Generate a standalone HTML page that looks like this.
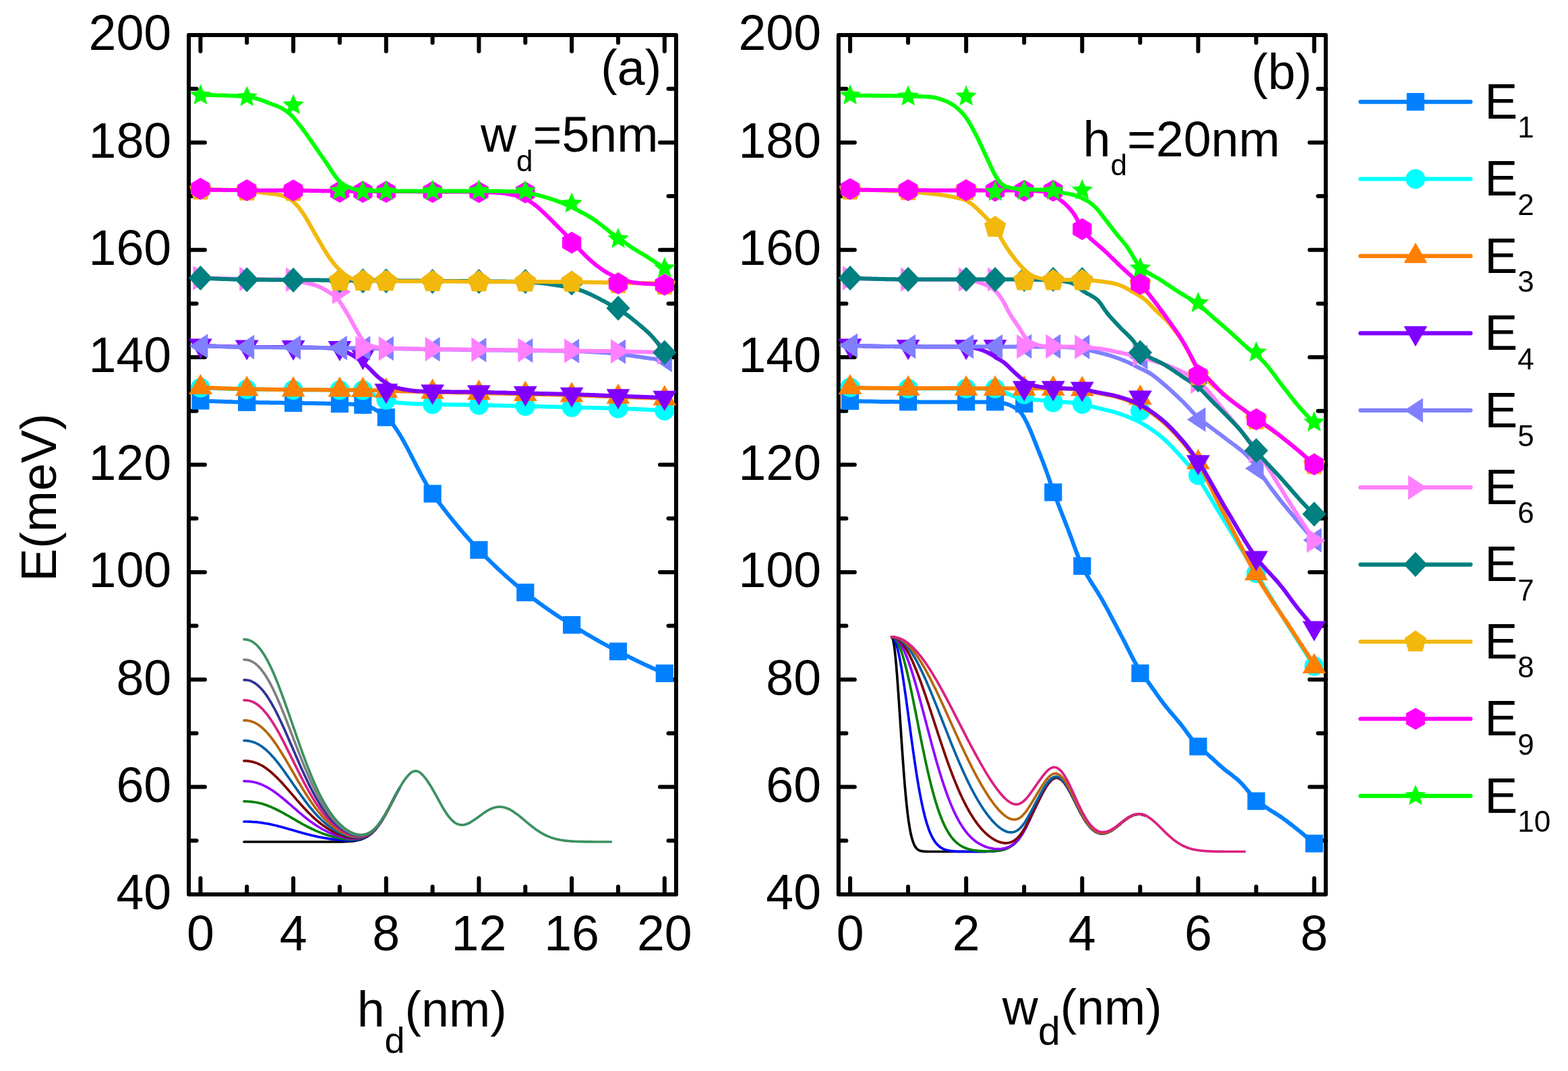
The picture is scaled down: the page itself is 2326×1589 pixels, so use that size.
<!DOCTYPE html><html><head><meta charset="utf-8"><title>E vs hd, wd</title><style>html,body{margin:0;padding:0;background:#fff;}svg{display:block;}</style></head><body>
<svg xmlns="http://www.w3.org/2000/svg" width="2326" height="1589" viewBox="0 0 2326 1589">
<rect width="2326" height="1589" fill="#fff"/>
<g fill="none" stroke-width="3.7" stroke-linecap="round" stroke-linejoin="round">
<path d="M362 1249C362.5 1249 364 1249 365 1249C366 1249 367 1249 368 1249C369 1249 370 1249 371 1249C372 1249 373 1249 374 1249C375 1249 376 1249 377 1249C378 1249 379 1249 380 1249C381 1249 382 1249 383 1249C384 1249 385 1249 386 1249C387 1249 388 1249 389 1249C390 1249 391 1249 392 1249C393 1249 394 1249 395 1249C396 1249 397 1249 398 1249C399 1249 400 1249 401 1249C402 1249 403 1249 404 1249C405 1249 406 1249 407 1249C408 1249 409 1249 410 1249C411 1249 412 1249 413 1249C414 1249 415 1249 416 1249C417 1249 418 1249 419 1249C420 1249 421 1249 422 1249C423 1249 424 1249 425 1249C426 1249 427 1249 428 1249C429 1249 430 1249 431 1249C432 1249 433 1249 434 1249C435 1249 436 1249 437 1249C438 1249 439 1249 440 1249C441 1249 442 1249 443 1249C444 1249 445 1249 446 1249C447 1249 448 1249 449 1249C450 1249 451 1249 452 1249C453 1249 454 1249 455 1249C456 1249 457 1249 458 1249C459 1249 460 1249 461 1249C462 1249 463 1249 464 1249C465 1249 466 1249 467 1249C468 1249 469 1249 470 1249C471 1249 472 1249 473 1249C474 1249 475 1249 476 1249C477 1249 478 1249 479 1249C480 1249 481 1249 482 1249C483 1249 484 1249 485 1249C486 1249 487 1249 488 1249C489 1249 490 1249 491 1249C492 1249 493 1249 494 1249C495 1249 496 1249 497 1249C498 1249 499 1248.9 500 1248.9C501 1248.9 502 1248.9 503 1248.9C504 1248.9 505 1248.9 506 1248.9C507 1248.8 508 1248.8 509 1248.8C510 1248.8 511 1248.7 512 1248.7C513 1248.7 514 1248.6 515 1248.6C516 1248.5 517 1248.5 518 1248.4C519 1248.3 520 1248.2 521 1248.1C522 1248.1 523 1247.9 524 1247.8C525 1247.7 526 1247.6 527 1247.4C528 1247.2 529 1247.1 530 1246.8C531 1246.6 532 1246.4 533 1246.1C534 1245.9 535 1245.6 536 1245.2C537 1244.9 538 1244.5 539 1244.1C540 1243.7 541 1243.2 542 1242.7C543 1242.2 544 1241.6 545 1241C546 1240.4 547 1239.7 548 1239C549 1238.3 550 1237.5 551 1236.6C552 1235.7 553 1234.8 554 1233.8C555 1232.8 556 1231.7 557 1230.6C558 1229.4 559 1228.2 560 1226.9C561 1225.6 562 1224.2 563 1222.8C564 1221.4 565 1219.9 566 1218.3C567 1216.7 568 1215.1 569 1213.4C570 1211.7 571 1210 572 1208.2C573 1206.4 574 1204.5 575 1202.7C576 1200.8 577 1198.9 578 1197C579 1195 580 1193.1 581 1191.1C582 1189.2 583 1187.2 584 1185.3C585 1183.4 586 1181.5 587 1179.6C588 1177.7 589 1175.8 590 1174C591 1172.2 592.5 1169.5 593 1168.7" stroke="#000000"/>
<path d="M362 1219C362.5 1219 364 1219 365 1219C366 1219 367 1219 368 1219C369 1219.1 370 1219.1 371 1219.1C372 1219.2 373 1219.2 374 1219.3C375 1219.3 376 1219.4 377 1219.5C378 1219.6 379 1219.6 380 1219.7C381 1219.8 382 1219.9 383 1220C384 1220.2 385 1220.3 386 1220.4C387 1220.5 388 1220.7 389 1220.8C390 1221 391 1221.1 392 1221.3C393 1221.4 394 1221.6 395 1221.8C396 1222 397 1222.1 398 1222.3C399 1222.5 400 1222.7 401 1222.9C402 1223.1 403 1223.4 404 1223.6C405 1223.8 406 1224 407 1224.3C408 1224.5 409 1224.7 410 1225C411 1225.2 412 1225.5 413 1225.7C414 1226 415 1226.3 416 1226.5C417 1226.8 418 1227.1 419 1227.3C420 1227.6 421 1227.9 422 1228.2C423 1228.4 424 1228.7 425 1229C426 1229.3 427 1229.6 428 1229.9C429 1230.2 430 1230.4 431 1230.7C432 1231 433 1231.3 434 1231.6C435 1231.9 436 1232.2 437 1232.5C438 1232.8 439 1233.1 440 1233.3C441 1233.6 442 1233.9 443 1234.2C444 1234.5 445 1234.8 446 1235C447 1235.3 448 1235.6 449 1235.9C450 1236.2 451 1236.4 452 1236.7C453 1237 454 1237.2 455 1237.5C456 1237.7 457 1238 458 1238.3C459 1238.5 460 1238.8 461 1239C462 1239.2 463 1239.5 464 1239.7C465 1240 466 1240.2 467 1240.4C468 1240.6 469 1240.9 470 1241.1C471 1241.3 472 1241.5 473 1241.7C474 1241.9 475 1242.1 476 1242.3C477 1242.5 478 1242.7 479 1242.9C480 1243 481 1243.2 482 1243.4C483 1243.6 484 1243.7 485 1243.9C486 1244.1 487 1244.2 488 1244.4C489 1244.5 490 1244.7 491 1244.8C492 1244.9 493 1245.1 494 1245.2C495 1245.3 496 1245.4 497 1245.6C498 1245.7 499 1245.8 500 1245.9C501 1246 502 1246.1 503 1246.2C504 1246.3 505 1246.3 506 1246.4C507 1246.5 508 1246.6 509 1246.6C510 1246.7 511 1246.7 512 1246.8C513 1246.8 514 1246.8 515 1246.9C516 1246.9 517 1246.9 518 1246.9C519 1246.9 520 1246.9 521 1246.8C522 1246.8 523 1246.7 524 1246.7C525 1246.6 526 1246.5 527 1246.4C528 1246.3 529 1246.1 530 1246C531 1245.8 532 1245.6 533 1245.4C534 1245.1 535 1244.9 536 1244.6C537 1244.3 538 1243.9 539 1243.5C540 1243.1 541 1242.7 542 1242.2C543 1241.7 544 1241.2 545 1240.6C546 1240 547 1239.3 548 1238.6C549 1237.9 550 1237.1 551 1236.3C552 1235.4 553 1234.5 554 1233.5C555 1232.5 556 1231.5 557 1230.3C558 1229.2 559 1228 560 1226.7C561 1225.4 562 1224.1 563 1222.6C564 1221.2 565 1219.7 566 1218.2C567 1216.6 568 1215 569 1213.3C570 1211.6 571 1209.9 572 1208.1C573 1206.3 574 1204.4 575 1202.6C576 1200.7 577 1198.8 578 1196.9C579 1195 580 1193 581 1191.1C582 1189.2 583 1187.2 584 1185.3C585 1183.3 586 1181.4 587 1179.5C588 1177.6 589 1175.8 590 1174C591 1172.1 592.5 1169.5 593 1168.6" stroke="#0000FF"/>
<path d="M362 1188.9C362.5 1188.9 364 1188.9 365 1189C366 1189 367 1189 368 1189.1C369 1189.1 370 1189.2 371 1189.3C372 1189.4 373 1189.5 374 1189.6C375 1189.7 376 1189.8 377 1190C378 1190.1 379 1190.3 380 1190.5C381 1190.7 382 1190.9 383 1191.1C384 1191.3 385 1191.5 386 1191.8C387 1192 388 1192.3 389 1192.6C390 1192.9 391 1193.2 392 1193.5C393 1193.9 394 1194.2 395 1194.6C396 1194.9 397 1195.3 398 1195.7C399 1196.1 400 1196.5 401 1196.9C402 1197.3 403 1197.7 404 1198.2C405 1198.6 406 1199.1 407 1199.5C408 1200 409 1200.5 410 1201C411 1201.5 412 1202 413 1202.5C414 1203 415 1203.5 416 1204.1C417 1204.6 418 1205.1 419 1205.7C420 1206.2 421 1206.8 422 1207.3C423 1207.9 424 1208.5 425 1209C426 1209.6 427 1210.2 428 1210.7C429 1211.3 430 1211.9 431 1212.5C432 1213 433 1213.6 434 1214.2C435 1214.8 436 1215.4 437 1215.9C438 1216.5 439 1217.1 440 1217.7C441 1218.3 442 1218.8 443 1219.4C444 1220 445 1220.5 446 1221.1C447 1221.7 448 1222.2 449 1222.8C450 1223.3 451 1223.8 452 1224.4C453 1224.9 454 1225.5 455 1226C456 1226.5 457 1227 458 1227.5C459 1228 460 1228.5 461 1229C462 1229.5 463 1230 464 1230.4C465 1230.9 466 1231.4 467 1231.8C468 1232.3 469 1232.7 470 1233.1C471 1233.6 472 1234 473 1234.4C474 1234.8 475 1235.2 476 1235.6C477 1236 478 1236.4 479 1236.7C480 1237.1 481 1237.5 482 1237.8C483 1238.1 484 1238.5 485 1238.8C486 1239.1 487 1239.4 488 1239.7C489 1240 490 1240.3 491 1240.6C492 1240.9 493 1241.1 494 1241.4C495 1241.7 496 1241.9 497 1242.1C498 1242.4 499 1242.6 500 1242.8C501 1243 502 1243.2 503 1243.4C504 1243.6 505 1243.8 506 1244C507 1244.1 508 1244.3 509 1244.4C510 1244.6 511 1244.7 512 1244.8C513 1245 514 1245.1 515 1245.1C516 1245.2 517 1245.3 518 1245.4C519 1245.4 520 1245.5 521 1245.5C522 1245.5 523 1245.5 524 1245.5C525 1245.5 526 1245.4 527 1245.4C528 1245.3 529 1245.2 530 1245.1C531 1244.9 532 1244.8 533 1244.6C534 1244.4 535 1244.2 536 1243.9C537 1243.6 538 1243.3 539 1243C540 1242.6 541 1242.2 542 1241.7C543 1241.3 544 1240.7 545 1240.2C546 1239.6 547 1239 548 1238.3C549 1237.6 550 1236.8 551 1236C552 1235.1 553 1234.2 554 1233.3C555 1232.3 556 1231.2 557 1230.1C558 1229 559 1227.8 560 1226.5C561 1225.2 562 1223.9 563 1222.5C564 1221.1 565 1219.6 566 1218C567 1216.5 568 1214.8 569 1213.2C570 1211.5 571 1209.8 572 1208C573 1206.2 574 1204.4 575 1202.5C576 1200.6 577 1198.7 578 1196.8C579 1194.9 580 1193 581 1191C582 1189.1 583 1187.2 584 1185.2C585 1183.3 586 1181.4 587 1179.5C588 1177.6 589.5 1174.9 590 1173.9" stroke="#008000"/>
<path d="M362 1158.9C362.5 1158.9 364 1158.9 365 1159C366 1159 367 1159 368 1159.1C369 1159.2 370 1159.3 371 1159.4C372 1159.5 373 1159.7 374 1159.9C375 1160 376 1160.2 377 1160.5C378 1160.7 379 1160.9 380 1161.2C381 1161.5 382 1161.8 383 1162.1C384 1162.5 385 1162.8 386 1163.2C387 1163.6 388 1164 389 1164.4C390 1164.9 391 1165.3 392 1165.8C393 1166.3 394 1166.8 395 1167.3C396 1167.9 397 1168.4 398 1169C399 1169.6 400 1170.2 401 1170.8C402 1171.4 403 1172.1 404 1172.7C405 1173.4 406 1174.1 407 1174.8C408 1175.5 409 1176.2 410 1177C411 1177.7 412 1178.5 413 1179.2C414 1180 415 1180.8 416 1181.6C417 1182.4 418 1183.2 419 1184C420 1184.8 421 1185.7 422 1186.5C423 1187.3 424 1188.2 425 1189C426 1189.9 427 1190.7 428 1191.6C429 1192.5 430 1193.3 431 1194.2C432 1195.1 433 1195.9 434 1196.8C435 1197.7 436 1198.6 437 1199.4C438 1200.3 439 1201.2 440 1202C441 1202.9 442 1203.7 443 1204.6C444 1205.4 445 1206.3 446 1207.1C447 1208 448 1208.8 449 1209.6C450 1210.5 451 1211.3 452 1212.1C453 1212.9 454 1213.7 455 1214.5C456 1215.2 457 1216 458 1216.8C459 1217.5 460 1218.3 461 1219C462 1219.7 463 1220.5 464 1221.2C465 1221.9 466 1222.6 467 1223.2C468 1223.9 469 1224.6 470 1225.2C471 1225.9 472 1226.5 473 1227.1C474 1227.7 475 1228.3 476 1228.9C477 1229.5 478 1230.1 479 1230.6C480 1231.1 481 1231.7 482 1232.2C483 1232.7 484 1233.2 485 1233.7C486 1234.2 487 1234.7 488 1235.1C489 1235.6 490 1236 491 1236.4C492 1236.8 493 1237.2 494 1237.6C495 1238 496 1238.4 497 1238.7C498 1239.1 499 1239.4 500 1239.8C501 1240.1 502 1240.4 503 1240.7C504 1241 505 1241.3 506 1241.5C507 1241.8 508 1242 509 1242.3C510 1242.5 511 1242.7 512 1242.9C513 1243.1 514 1243.3 515 1243.4C516 1243.6 517 1243.7 518 1243.9C519 1244 520 1244.1 521 1244.2C522 1244.2 523 1244.3 524 1244.3C525 1244.4 526 1244.4 527 1244.3C528 1244.3 529 1244.3 530 1244.2C531 1244.1 532 1244 533 1243.8C534 1243.7 535 1243.5 536 1243.2C537 1243 538 1242.7 539 1242.4C540 1242 541 1241.7 542 1241.2C543 1240.8 544 1240.3 545 1239.7C546 1239.2 547 1238.6 548 1237.9C549 1237.2 550 1236.5 551 1235.7C552 1234.8 553 1233.9 554 1233C555 1232 556 1231 557 1229.9C558 1228.8 559 1227.6 560 1226.3C561 1225.1 562 1223.7 563 1222.3C564 1220.9 565 1219.4 566 1217.9C567 1216.3 568 1214.7 569 1213.1C570 1211.4 571 1209.7 572 1207.9C573 1206.1 574 1204.3 575 1202.4C576 1200.6 577 1198.7 578 1196.8C579 1194.9 580 1192.9 581 1191C582 1189.1 583 1187.1 584 1185.2C585 1183.3 586 1181.3 587 1179.5C588 1177.6 589.5 1174.8 590 1173.9" stroke="#8F00FF"/>
<path d="M362 1128.9C362.5 1128.9 364 1128.9 365 1128.9C366 1129 367 1129.1 368 1129.2C369 1129.3 370 1129.4 371 1129.6C372 1129.7 373 1129.9 374 1130.1C375 1130.4 376 1130.6 377 1130.9C378 1131.2 379 1131.6 380 1131.9C381 1132.3 382 1132.7 383 1133.2C384 1133.6 385 1134.1 386 1134.6C387 1135.1 388 1135.6 389 1136.2C390 1136.8 391 1137.4 392 1138.1C393 1138.7 394 1139.4 395 1140.1C396 1140.8 397 1141.6 398 1142.3C399 1143.1 400 1143.9 401 1144.7C402 1145.6 403 1146.4 404 1147.3C405 1148.2 406 1149.1 407 1150.1C408 1151 409 1152 410 1153C411 1153.9 412 1155 413 1156C414 1157 415 1158.1 416 1159.1C417 1160.2 418 1161.3 419 1162.3C420 1163.4 421 1164.5 422 1165.7C423 1166.8 424 1167.9 425 1169C426 1170.2 427 1171.3 428 1172.5C429 1173.6 430 1174.8 431 1175.9C432 1177.1 433 1178.3 434 1179.4C435 1180.6 436 1181.7 437 1182.9C438 1184.1 439 1185.2 440 1186.4C441 1187.5 442 1188.7 443 1189.8C444 1190.9 445 1192.1 446 1193.2C447 1194.3 448 1195.4 449 1196.5C450 1197.6 451 1198.7 452 1199.8C453 1200.8 454 1201.9 455 1202.9C456 1204 457 1205 458 1206C459 1207 460 1208 461 1209C462 1210 463 1211 464 1211.9C465 1212.8 466 1213.8 467 1214.7C468 1215.6 469 1216.4 470 1217.3C471 1218.2 472 1219 473 1219.8C474 1220.6 475 1221.4 476 1222.2C477 1223 478 1223.7 479 1224.5C480 1225.2 481 1225.9 482 1226.6C483 1227.3 484 1228 485 1228.6C486 1229.2 487 1229.9 488 1230.5C489 1231.1 490 1231.7 491 1232.2C492 1232.8 493 1233.3 494 1233.8C495 1234.4 496 1234.9 497 1235.3C498 1235.8 499 1236.3 500 1236.7C501 1237.1 502 1237.6 503 1238C504 1238.3 505 1238.7 506 1239.1C507 1239.4 508 1239.8 509 1240.1C510 1240.4 511 1240.7 512 1241C513 1241.2 514 1241.5 515 1241.7C516 1242 517 1242.2 518 1242.4C519 1242.5 520 1242.7 521 1242.8C522 1243 523 1243.1 524 1243.2C525 1243.3 526 1243.3 527 1243.3C528 1243.3 529 1243.3 530 1243.3C531 1243.2 532 1243.2 533 1243C534 1242.9 535 1242.8 536 1242.6C537 1242.3 538 1242.1 539 1241.8C540 1241.5 541 1241.1 542 1240.7C543 1240.3 544 1239.8 545 1239.3C546 1238.8 547 1238.2 548 1237.5C549 1236.9 550 1236.1 551 1235.3C552 1234.5 553 1233.7 554 1232.7C555 1231.8 556 1230.7 557 1229.7C558 1228.6 559 1227.4 560 1226.1C561 1224.9 562 1223.6 563 1222.2C564 1220.8 565 1219.3 566 1217.7C567 1216.2 568 1214.6 569 1212.9C570 1211.3 571 1209.6 572 1207.8C573 1206 574 1204.2 575 1202.3C576 1200.5 577 1198.6 578 1196.7C579 1194.8 580 1192.9 581 1190.9C582 1189 583 1187.1 584 1185.1C585 1183.2 586.5 1180.4 587 1179.4" stroke="#800000"/>
<path d="M362 1098.8C362.5 1098.9 364 1098.9 365 1098.9C366 1099 367 1099.1 368 1099.2C369 1099.3 370 1099.5 371 1099.7C372 1099.9 373 1100.1 374 1100.4C375 1100.7 376 1101.1 377 1101.4C378 1101.8 379 1102.2 380 1102.7C381 1103.1 382 1103.7 383 1104.2C384 1104.8 385 1105.3 386 1106C387 1106.6 388 1107.3 389 1108C390 1108.8 391 1109.5 392 1110.3C393 1111.1 394 1112 395 1112.9C396 1113.8 397 1114.7 398 1115.7C399 1116.6 400 1117.6 401 1118.7C402 1119.7 403 1120.8 404 1121.9C405 1123 406 1124.2 407 1125.3C408 1126.5 409 1127.7 410 1129C411 1130.2 412 1131.4 413 1132.7C414 1134 415 1135.3 416 1136.6C417 1138 418 1139.3 419 1140.7C420 1142 421 1143.4 422 1144.8C423 1146.2 424 1147.6 425 1149.1C426 1150.5 427 1151.9 428 1153.3C429 1154.8 430 1156.2 431 1157.7C432 1159.1 433 1160.6 434 1162C435 1163.5 436 1164.9 437 1166.4C438 1167.8 439 1169.3 440 1170.7C441 1172.1 442 1173.6 443 1175C444 1176.4 445 1177.8 446 1179.2C447 1180.6 448 1182 449 1183.4C450 1184.8 451 1186.1 452 1187.5C453 1188.8 454 1190.1 455 1191.4C456 1192.7 457 1194 458 1195.3C459 1196.6 460 1197.8 461 1199C462 1200.2 463 1201.4 464 1202.6C465 1203.8 466 1204.9 467 1206.1C468 1207.2 469 1208.3 470 1209.4C471 1210.4 472 1211.5 473 1212.5C474 1213.5 475 1214.5 476 1215.5C477 1216.5 478 1217.4 479 1218.3C480 1219.3 481 1220.1 482 1221C483 1221.9 484 1222.7 485 1223.5C486 1224.3 487 1225.1 488 1225.8C489 1226.6 490 1227.3 491 1228C492 1228.7 493 1229.4 494 1230.1C495 1230.7 496 1231.3 497 1231.9C498 1232.5 499 1233.1 500 1233.6C501 1234.2 502 1234.7 503 1235.2C504 1235.7 505 1236.2 506 1236.6C507 1237.1 508 1237.5 509 1237.9C510 1238.3 511 1238.7 512 1239C513 1239.4 514 1239.7 515 1240C516 1240.3 517 1240.6 518 1240.8C519 1241.1 520 1241.3 521 1241.5C522 1241.7 523 1241.9 524 1242C525 1242.1 526 1242.2 527 1242.3C528 1242.4 529 1242.4 530 1242.4C531 1242.4 532 1242.4 533 1242.3C534 1242.2 535 1242.1 536 1241.9C537 1241.7 538 1241.5 539 1241.2C540 1240.9 541 1240.6 542 1240.2C543 1239.8 544 1239.4 545 1238.9C546 1238.4 547 1237.8 548 1237.2C549 1236.5 550 1235.8 551 1235C552 1234.2 553 1233.4 554 1232.5C555 1231.5 556 1230.5 557 1229.4C558 1228.3 559 1227.2 560 1225.9C561 1224.7 562 1223.4 563 1222C564 1220.6 565 1219.1 566 1217.6C567 1216.1 568 1214.5 569 1212.8C570 1211.2 571 1209.5 572 1207.7C573 1205.9 574 1204.1 575 1202.3C576 1200.4 577 1198.5 578 1196.6C579 1194.7 580 1192.8 581 1190.9C582 1189 583.5 1186.1 584 1185.1" stroke="#0061A5"/>
<path d="M362 1068.8C362.5 1068.8 364 1068.8 365 1068.9C366 1069 367 1069.1 368 1069.2C369 1069.4 370 1069.6 371 1069.8C372 1070.1 373 1070.4 374 1070.7C375 1071.1 376 1071.5 377 1071.9C378 1072.4 379 1072.9 380 1073.4C381 1074 382 1074.6 383 1075.2C384 1075.9 385 1076.6 386 1077.4C387 1078.1 388 1079 389 1079.8C390 1080.7 391 1081.6 392 1082.6C393 1083.6 394 1084.6 395 1085.7C396 1086.7 397 1087.8 398 1089C399 1090.2 400 1091.4 401 1092.6C402 1093.9 403 1095.2 404 1096.5C405 1097.8 406 1099.2 407 1100.6C408 1102 409 1103.5 410 1104.9C411 1106.4 412 1107.9 413 1109.5C414 1111 415 1112.6 416 1114.2C417 1115.8 418 1117.4 419 1119C420 1120.7 421 1122.3 422 1124C423 1125.7 424 1127.4 425 1129.1C426 1130.8 427 1132.5 428 1134.2C429 1135.9 430 1137.7 431 1139.4C432 1141.1 433 1142.9 434 1144.6C435 1146.4 436 1148.1 437 1149.8C438 1151.6 439 1153.3 440 1155C441 1156.8 442 1158.5 443 1160.2C444 1161.9 445 1163.6 446 1165.3C447 1167 448 1168.6 449 1170.3C450 1171.9 451 1173.5 452 1175.2C453 1176.8 454 1178.4 455 1179.9C456 1181.5 457 1183 458 1184.5C459 1186.1 460 1187.6 461 1189C462 1190.5 463 1191.9 464 1193.3C465 1194.8 466 1196.1 467 1197.5C468 1198.8 469 1200.2 470 1201.4C471 1202.7 472 1204 473 1205.2C474 1206.5 475 1207.6 476 1208.8C477 1210 478 1211.1 479 1212.2C480 1213.3 481 1214.4 482 1215.4C483 1216.4 484 1217.4 485 1218.4C486 1219.4 487 1220.3 488 1221.2C489 1222.1 490 1223 491 1223.8C492 1224.7 493 1225.5 494 1226.3C495 1227 496 1227.8 497 1228.5C498 1229.2 499 1229.9 500 1230.6C501 1231.2 502 1231.9 503 1232.5C504 1233.1 505 1233.6 506 1234.2C507 1234.7 508 1235.3 509 1235.7C510 1236.2 511 1236.7 512 1237.1C513 1237.5 514 1237.9 515 1238.3C516 1238.7 517 1239 518 1239.3C519 1239.7 520 1239.9 521 1240.2C522 1240.4 523 1240.7 524 1240.8C525 1241 526 1241.2 527 1241.3C528 1241.4 529 1241.5 530 1241.5C531 1241.6 532 1241.6 533 1241.5C534 1241.5 535 1241.4 536 1241.2C537 1241.1 538 1240.9 539 1240.6C540 1240.4 541 1240.1 542 1239.7C543 1239.4 544 1238.9 545 1238.5C546 1238 547 1237.4 548 1236.8C549 1236.2 550 1235.5 551 1234.7C552 1233.9 553 1233.1 554 1232.2C555 1231.3 556 1230.3 557 1229.2C558 1228.1 559 1227 560 1225.7C561 1224.5 562 1223.2 563 1221.8C564 1220.5 565 1219 566 1217.5C567 1216 568 1214.4 569 1212.7C570 1211.1 571 1209.3 572 1207.6C573 1205.8 574 1204 575 1202.2C576 1200.3 577 1198.5 578 1196.6C579 1194.7 580.5 1191.8 581 1190.8" stroke="#B5670D"/>
<path d="M362 1038.8C362.5 1038.8 364 1038.8 365 1038.9C366 1039 367 1039.1 368 1039.3C369 1039.5 370 1039.7 371 1040C372 1040.3 373 1040.6 374 1041C375 1041.4 376 1041.9 377 1042.4C378 1042.9 379 1043.5 380 1044.2C381 1044.8 382 1045.5 383 1046.3C384 1047.1 385 1047.9 386 1048.8C387 1049.7 388 1050.6 389 1051.6C390 1052.7 391 1053.7 392 1054.9C393 1056 394 1057.2 395 1058.4C396 1059.7 397 1061 398 1062.3C399 1063.7 400 1065.1 401 1066.6C402 1068 403 1069.5 404 1071.1C405 1072.6 406 1074.2 407 1075.9C408 1077.5 409 1079.2 410 1080.9C411 1082.7 412 1084.4 413 1086.2C414 1088 415 1089.8 416 1091.7C417 1093.6 418 1095.4 419 1097.4C420 1099.3 421 1101.2 422 1103.2C423 1105.1 424 1107.1 425 1109.1C426 1111.1 427 1113.1 428 1115.1C429 1117.1 430 1119.1 431 1121.1C432 1123.2 433 1125.2 434 1127.2C435 1129.3 436 1131.3 437 1133.3C438 1135.3 439 1137.4 440 1139.4C441 1141.4 442 1143.4 443 1145.4C444 1147.4 445 1149.4 446 1151.3C447 1153.3 448 1155.2 449 1157.1C450 1159.1 451 1161 452 1162.8C453 1164.7 454 1166.6 455 1168.4C456 1170.2 457 1172 458 1173.8C459 1175.6 460 1177.3 461 1179C462 1180.7 463 1182.4 464 1184.1C465 1185.7 466 1187.3 467 1188.9C468 1190.5 469 1192 470 1193.5C471 1195 472 1196.5 473 1197.9C474 1199.4 475 1200.8 476 1202.1C477 1203.5 478 1204.8 479 1206.1C480 1207.4 481 1208.6 482 1209.8C483 1211 484 1212.2 485 1213.3C486 1214.4 487 1215.5 488 1216.6C489 1217.6 490 1218.7 491 1219.6C492 1220.6 493 1221.6 494 1222.5C495 1223.4 496 1224.3 497 1225.1C498 1226 499 1226.8 500 1227.5C501 1228.3 502 1229 503 1229.7C504 1230.4 505 1231.1 506 1231.7C507 1232.4 508 1233 509 1233.6C510 1234.1 511 1234.7 512 1235.2C513 1235.7 514 1236.2 515 1236.6C516 1237 517 1237.5 518 1237.8C519 1238.2 520 1238.6 521 1238.9C522 1239.2 523 1239.4 524 1239.7C525 1239.9 526 1240.1 527 1240.3C528 1240.4 529 1240.6 530 1240.6C531 1240.7 532 1240.7 533 1240.7C534 1240.7 535 1240.7 536 1240.6C537 1240.4 538 1240.3 539 1240.1C540 1239.8 541 1239.6 542 1239.2C543 1238.9 544 1238.5 545 1238C546 1237.6 547 1237 548 1236.4C549 1235.8 550 1235.1 551 1234.4C552 1233.6 553 1232.8 554 1231.9C555 1231 556 1230 557 1229C558 1227.9 559 1226.8 560 1225.6C561 1224.3 562 1223 563 1221.7C564 1220.3 565 1218.9 566 1217.3C567 1215.8 568 1214.2 569 1212.6C570 1211 571 1209.2 572 1207.5C573 1205.8 574.5 1203 575 1202.1" stroke="#DA2180"/>
<path d="M362 1008.8C362.5 1008.8 364 1008.8 365 1008.9C366 1009 367 1009.1 368 1009.3C369 1009.5 370 1009.8 371 1010.1C372 1010.4 373 1010.8 374 1011.3C375 1011.8 376 1012.3 377 1012.9C378 1013.5 379 1014.2 380 1014.9C381 1015.6 382 1016.4 383 1017.3C384 1018.2 385 1019.2 386 1020.2C387 1021.2 388 1022.3 389 1023.5C390 1024.6 391 1025.8 392 1027.1C393 1028.4 394 1029.8 395 1031.2C396 1032.6 397 1034.1 398 1035.7C399 1037.2 400 1038.8 401 1040.5C402 1042.2 403 1043.9 404 1045.7C405 1047.4 406 1049.3 407 1051.1C408 1053 409 1055 410 1056.9C411 1058.9 412 1060.9 413 1063C414 1065 415 1067.1 416 1069.2C417 1071.3 418 1073.5 419 1075.7C420 1077.9 421 1080.1 422 1082.3C423 1084.6 424 1086.8 425 1089.1C426 1091.4 427 1093.6 428 1095.9C429 1098.2 430 1100.6 431 1102.9C432 1105.2 433 1107.5 434 1109.8C435 1112.2 436 1114.5 437 1116.8C438 1119.1 439 1121.4 440 1123.7C441 1126 442 1128.3 443 1130.6C444 1132.9 445 1135.1 446 1137.4C447 1139.6 448 1141.8 449 1144C450 1146.2 451 1148.4 452 1150.5C453 1152.7 454 1154.8 455 1156.9C456 1159 457 1161 458 1163.1C459 1165.1 460 1167.1 461 1169C462 1171 463 1172.9 464 1174.8C465 1176.7 466 1178.5 467 1180.3C468 1182.1 469 1183.9 470 1185.6C471 1187.3 472 1189 473 1190.6C474 1192.3 475 1193.9 476 1195.4C477 1197 478 1198.5 479 1199.9C480 1201.4 481 1202.8 482 1204.2C483 1205.6 484 1206.9 485 1208.2C486 1209.5 487 1210.8 488 1212C489 1213.2 490 1214.3 491 1215.5C492 1216.6 493 1217.7 494 1218.7C495 1219.7 496 1220.7 497 1221.7C498 1222.7 499 1223.6 500 1224.5C501 1225.4 502 1226.2 503 1227C504 1227.8 505 1228.6 506 1229.3C507 1230 508 1230.7 509 1231.4C510 1232 511 1232.7 512 1233.2C513 1233.8 514 1234.4 515 1234.9C516 1235.4 517 1235.9 518 1236.3C519 1236.8 520 1237.2 521 1237.5C522 1237.9 523 1238.2 524 1238.5C525 1238.8 526 1239.1 527 1239.3C528 1239.5 529 1239.6 530 1239.7C531 1239.9 532 1239.9 533 1240C534 1240 535 1240 536 1239.9C537 1239.8 538 1239.7 539 1239.5C540 1239.3 541 1239 542 1238.7C543 1238.4 544 1238 545 1237.6C546 1237.2 547 1236.6 548 1236.1C549 1235.5 550 1234.8 551 1234.1C552 1233.3 553 1232.5 554 1231.7C555 1230.8 556 1229.8 557 1228.7C558 1227.7 559 1226.6 560 1225.4C561 1224.2 562 1222.9 563 1221.5C564 1220.1 565 1218.7 566 1217.2C567 1215.7 568.5 1213.3 569 1212.5" stroke="#333399"/>
<path d="M362 978.7C362.5 978.8 364 978.8 365 978.9C366 979 367 979.1 368 979.4C369 979.6 370 979.9 371 980.2C372 980.6 373 981.1 374 981.6C375 982.1 376 982.7 377 983.4C378 984 379 984.8 380 985.6C381 986.5 382 987.4 383 988.4C384 989.4 385 990.4 386 991.6C387 992.7 388 994 389 995.3C390 996.6 391 997.9 392 999.4C393 1000.9 394 1002.4 395 1004C396 1005.6 397 1007.3 398 1009C399 1010.8 400 1012.6 401 1014.4C402 1016.3 403 1018.3 404 1020.2C405 1022.2 406 1024.3 407 1026.4C408 1028.5 409 1030.7 410 1032.9C411 1035.1 412 1037.4 413 1039.7C414 1042 415 1044.4 416 1046.8C417 1049.1 418 1051.6 419 1054C420 1056.5 421 1059 422 1061.5C423 1064 424 1066.5 425 1069.1C426 1071.6 427 1074.2 428 1076.8C429 1079.4 430 1082 431 1084.6C432 1087.2 433 1089.8 434 1092.4C435 1095 436 1097.7 437 1100.3C438 1102.9 439 1105.5 440 1108.1C441 1110.6 442 1113.2 443 1115.8C444 1118.3 445 1120.9 446 1123.4C447 1125.9 448 1128.4 449 1130.9C450 1133.4 451 1135.8 452 1138.2C453 1140.6 454 1143 455 1145.4C456 1147.7 457 1150 458 1152.3C459 1154.6 460 1156.8 461 1159C462 1161.2 463 1163.4 464 1165.5C465 1167.6 466 1169.7 467 1171.7C468 1173.8 469 1175.7 470 1177.7C471 1179.6 472 1181.5 473 1183.3C474 1185.2 475 1187 476 1188.7C477 1190.5 478 1192.2 479 1193.8C480 1195.5 481 1197.1 482 1198.6C483 1200.2 484 1201.7 485 1203.1C486 1204.6 487 1206 488 1207.3C489 1208.7 490 1210 491 1211.3C492 1212.5 493 1213.7 494 1214.9C495 1216.1 496 1217.2 497 1218.3C498 1219.4 499 1220.4 500 1221.4C501 1222.4 502 1223.4 503 1224.3C504 1225.2 505 1226 506 1226.9C507 1227.7 508 1228.5 509 1229.2C510 1230 511 1230.7 512 1231.3C513 1232 514 1232.6 515 1233.2C516 1233.8 517 1234.3 518 1234.8C519 1235.3 520 1235.8 521 1236.2C522 1236.6 523 1237 524 1237.4C525 1237.7 526 1238 527 1238.2C528 1238.5 529 1238.7 530 1238.9C531 1239 532 1239.1 533 1239.2C534 1239.2 535 1239.3 536 1239.2C537 1239.2 538 1239.1 539 1238.9C540 1238.7 541 1238.5 542 1238.2C543 1237.9 544 1237.6 545 1237.2C546 1236.7 547 1236.3 548 1235.7C549 1235.1 550 1234.5 551 1233.8C552 1233.1 553 1232.3 554 1231.4C555 1230.5 556 1229.6 557 1228.5C558 1227.5 559 1226.4 560 1225.2C561 1224 562.5 1222 563 1221.3" stroke="#808080"/>
<path d="M362 948.7C362.5 948.7 364 948.7 365 948.9C366 949 367 949.1 368 949.4C369 949.6 370 950 371 950.4C372 950.8 373 951.3 374 951.9C375 952.4 376 953.1 377 953.9C378 954.6 379 955.4 380 956.4C381 957.3 382 958.3 383 959.4C384 960.5 385 961.7 386 963C387 964.2 388 965.6 389 967.1C390 968.5 391 970 392 971.7C393 973.3 394 975 395 976.8C396 978.5 397 980.4 398 982.3C399 984.3 400 986.3 401 988.4C402 990.5 403 992.6 404 994.8C405 997.1 406 999.3 407 1001.7C408 1004 409 1006.4 410 1008.9C411 1011.4 412 1013.9 413 1016.4C414 1019 415 1021.6 416 1024.3C417 1026.9 418 1029.6 419 1032.4C420 1035.1 421 1037.9 422 1040.6C423 1043.4 424 1046.3 425 1049.1C426 1051.9 427 1054.8 428 1057.7C429 1060.6 430 1063.4 431 1066.3C432 1069.2 433 1072.1 434 1075C435 1077.9 436 1080.8 437 1083.7C438 1086.6 439 1089.5 440 1092.4C441 1095.3 442 1098.1 443 1101C444 1103.8 445 1106.7 446 1109.5C447 1112.3 448 1115 449 1117.8C450 1120.5 451 1123.2 452 1125.9C453 1128.6 454 1131.3 455 1133.9C456 1136.5 457 1139.1 458 1141.6C459 1144.1 460 1146.6 461 1149C462 1151.5 463 1153.9 464 1156.2C465 1158.6 466 1160.9 467 1163.1C468 1165.4 469 1167.6 470 1169.7C471 1171.9 472 1174 473 1176C474 1178.1 475 1180.1 476 1182C477 1184 478 1185.8 479 1187.7C480 1189.5 481 1191.3 482 1193C483 1194.7 484 1196.4 485 1198C486 1199.6 487 1201.2 488 1202.7C489 1204.2 490 1205.7 491 1207.1C492 1208.5 493 1209.8 494 1211.1C495 1212.4 496 1213.7 497 1214.9C498 1216.1 499 1217.2 500 1218.4C501 1219.5 502 1220.5 503 1221.5C504 1222.5 505 1223.5 506 1224.4C507 1225.3 508 1226.2 509 1227C510 1227.9 511 1228.6 512 1229.4C513 1230.1 514 1230.8 515 1231.5C516 1232.1 517 1232.7 518 1233.3C519 1233.9 520 1234.4 521 1234.9C522 1235.4 523 1235.8 524 1236.2C525 1236.6 526 1236.9 527 1237.2C528 1237.5 529 1237.8 530 1238C531 1238.2 532 1238.3 533 1238.4C534 1238.5 535 1238.6 536 1238.5C537 1238.5 538 1238.5 539 1238.3C540 1238.2 541 1238 542 1237.7C543 1237.5 544 1237.1 545 1236.7C546 1236.3 547 1235.9 548 1235.3C549 1234.8 550 1234.2 551 1233.5C552 1232.8 553 1232 554 1231.1C555 1230.3 556 1229.3 557 1228.3C558 1227.3 559 1226.2 560 1225C561 1223.8 562 1222.5 563 1221.2C564 1219.8 565 1218.4 566 1216.9C567 1215.4 568 1213.9 569 1212.3C570 1210.6 571 1208.9 572 1207.2C573 1205.5 574 1203.7 575 1201.9C576 1200 577 1198.2 578 1196.3C579 1194.4 580 1192.5 581 1190.6C582 1188.7 583 1186.8 584 1184.9C585 1183 586 1181.1 587 1179.2C588 1177.3 589 1175.5 590 1173.7C591 1171.9 592 1170.1 593 1168.4C594 1166.7 595 1165 596 1163.4C597 1161.8 598 1160.3 599 1158.8C600 1157.3 601 1155.9 602 1154.6C603 1153.3 604 1152 605 1150.9C606 1149.8 607 1148.7 608 1147.8C609 1146.9 610 1146.1 611 1145.5C612 1144.9 613 1144.5 614 1144.2C615 1143.9 616 1143.8 617 1143.9C618 1143.9 619 1144.2 620 1144.6C621 1145 622 1145.6 623 1146.3C624 1147 625 1147.9 626 1148.9C627 1149.8 628 1150.9 629 1152.1C630 1153.3 631 1154.6 632 1155.9C633 1157.2 634 1158.6 635 1160.1C636 1161.6 637 1163.2 638 1164.8C639 1166.4 640 1168 641 1169.7C642 1171.4 643 1173.2 644 1175C645 1176.7 646 1178.6 647 1180.4C648 1182.2 649 1184.1 650 1185.9C651 1187.7 652 1189.5 653 1191.3C654 1193.1 655 1194.9 656 1196.7C657 1198.4 658 1200.1 659 1201.7C660 1203.3 661 1204.9 662 1206.4C663 1207.9 664 1209.3 665 1210.6C666 1211.9 667 1213.2 668 1214.3C669 1215.5 670 1216.5 671 1217.4C672 1218.4 673 1219.2 674 1220C675 1220.7 676 1221.3 677 1221.8C678 1222.4 679 1222.8 680 1223.1C681 1223.4 682 1223.7 683 1223.8C684 1223.9 685 1224 686 1223.9C687 1223.9 688 1223.8 689 1223.6C690 1223.4 691 1223.1 692 1222.7C693 1222.4 694 1222 695 1221.5C696 1221 697 1220.5 698 1220C699 1219.4 700 1218.8 701 1218.1C702 1217.5 703 1216.8 704 1216.1C705 1215.4 706 1214.7 707 1214C708 1213.3 709 1212.5 710 1211.8C711 1211.1 712 1210.3 713 1209.6C714 1208.9 715 1208.1 716 1207.4C717 1206.7 718 1206 719 1205.4C720 1204.7 721 1204 722 1203.4C723 1202.8 724 1202.2 725 1201.7C726 1201.2 727 1200.7 728 1200.2C729 1199.8 730 1199.3 731 1199C732 1198.6 733 1198.3 734 1198C735 1197.8 736 1197.6 737 1197.4C738 1197.3 739 1197.2 740 1197.1C741 1197.1 742 1197.1 743 1197.1C744 1197.2 745 1197.3 746 1197.5C747 1197.7 748 1197.9 749 1198.2C750 1198.5 751 1198.8 752 1199.2C753 1199.6 754 1200 755 1200.5C756 1200.9 757 1201.5 758 1202C759 1202.6 760 1203.2 761 1203.8C762 1204.5 763 1205.2 764 1205.9C765 1206.6 766 1207.3 767 1208.1C768 1208.8 769 1209.6 770 1210.4C771 1211.2 772 1212 773 1212.8C774 1213.6 775 1214.5 776 1215.3C777 1216.2 778 1217 779 1217.8C780 1218.7 781 1219.5 782 1220.4C783 1221.2 784 1222 785 1222.9C786 1223.7 787 1224.5 788 1225.3C789 1226.1 790 1226.9 791 1227.6C792 1228.4 793 1229.1 794 1229.9C795 1230.6 796 1231.3 797 1232C798 1232.7 799 1233.3 800 1233.9C801 1234.6 802 1235.2 803 1235.8C804 1236.4 805 1236.9 806 1237.5C807 1238 808 1238.5 809 1239C810 1239.5 811 1239.9 812 1240.4C813 1240.8 814 1241.2 815 1241.6C816 1242 817 1242.4 818 1242.7C819 1243.1 820 1243.4 821 1243.7C822 1244 823 1244.3 824 1244.6C825 1244.8 826 1245.1 827 1245.3C828 1245.5 829 1245.7 830 1245.9C831 1246.1 832 1246.3 833 1246.5C834 1246.6 835 1246.8 836 1246.9C837 1247.1 838 1247.2 839 1247.3C840 1247.4 841 1247.5 842 1247.6C843 1247.7 844 1247.8 845 1247.9C846 1248 847 1248.1 848 1248.1C849 1248.2 850 1248.3 851 1248.3C852 1248.4 853 1248.4 854 1248.5C855 1248.5 856 1248.5 857 1248.6C858 1248.6 859 1248.6 860 1248.7C861 1248.7 862 1248.7 863 1248.7C864 1248.8 865 1248.8 866 1248.8C867 1248.8 868 1248.8 869 1248.9C870 1248.9 871 1248.9 872 1248.9C873 1248.9 874 1248.9 875 1248.9C876 1248.9 877 1248.9 878 1248.9C879 1248.9 880 1248.9 881 1249C882 1249 883 1249 884 1249C885 1249 886 1249 887 1249C888 1249 889 1249 890 1249C891 1249 892 1249 893 1249C894 1249 895 1249 896 1249C897 1249 898 1249 899 1249C900 1249 901 1249 902 1249C903 1249 904.3 1249 905 1249C905.7 1249 906.2 1249 906.4 1249" stroke="#3C9161"/>
</g>
<g fill="none" stroke-width="3.7" stroke-linecap="round" stroke-linejoin="round">
<path d="M1322.7 944.9C1323 945.6 1324 946.2 1324.7 948.8C1325.4 951.4 1326 955.3 1326.7 960.2C1327.4 965.1 1328 971.4 1328.7 978.3C1329.4 985.3 1330 993.4 1330.7 1001.9C1331.4 1010.4 1332 1019.8 1332.7 1029.4C1333.4 1038.9 1334 1049.1 1334.7 1059.1C1335.4 1069 1336 1079.4 1336.7 1089.3C1337.4 1099.3 1338 1109.2 1338.7 1118.7C1339.4 1128.2 1340 1137.4 1340.7 1146.1C1341.4 1154.7 1342 1163 1342.7 1170.6C1343.4 1178.2 1344 1185.3 1344.7 1191.8C1345.4 1198.3 1346 1204.1 1346.7 1209.5C1347.4 1214.8 1348 1219.5 1348.7 1223.8C1349.4 1228.1 1350 1231.7 1350.7 1235C1351.4 1238.3 1352 1241.1 1352.7 1243.6C1353.4 1246.1 1354 1248.1 1354.7 1249.9C1355.4 1251.7 1356 1253.2 1356.7 1254.5C1357.4 1255.7 1358 1256.7 1358.7 1257.6C1359.4 1258.5 1360 1259.2 1360.7 1259.8C1361.4 1260.4 1362 1260.8 1362.7 1261.2C1363.4 1261.6 1364 1261.9 1364.7 1262.1C1365.4 1262.4 1366 1262.5 1366.7 1262.7C1367.4 1262.8 1368 1262.9 1368.7 1263C1369.4 1263.1 1370 1263.2 1370.7 1263.2C1371.4 1263.3 1372 1263.3 1372.7 1263.4C1373.4 1263.4 1374 1263.4 1374.7 1263.4C1375.4 1263.4 1376 1263.5 1376.7 1263.5C1377.4 1263.5 1378 1263.5 1378.7 1263.5C1379.4 1263.5 1380 1263.5 1380.7 1263.5C1381.4 1263.5 1382 1263.5 1382.7 1263.5C1383.4 1263.5 1384 1263.5 1384.7 1263.5C1385.4 1263.5 1386 1263.5 1386.7 1263.5C1387.4 1263.5 1388 1263.5 1388.7 1263.5C1389.4 1263.5 1390 1263.5 1390.7 1263.5C1391.4 1263.5 1392 1263.5 1392.7 1263.5C1393.4 1263.5 1394 1263.5 1394.7 1263.5C1395.4 1263.5 1396 1263.5 1396.7 1263.5C1397.4 1263.5 1398 1263.5 1398.7 1263.5C1399.4 1263.5 1400 1263.5 1400.7 1263.5C1401.4 1263.5 1402 1263.5 1402.7 1263.5C1403.4 1263.5 1404 1263.5 1404.7 1263.5C1405.4 1263.5 1406 1263.5 1406.7 1263.5C1407.4 1263.5 1408 1263.5 1408.7 1263.5C1409.4 1263.5 1410 1263.5 1410.7 1263.5C1411.4 1263.5 1412 1263.5 1412.7 1263.5C1413.4 1263.5 1414 1263.5 1414.7 1263.5C1415.4 1263.5 1416 1263.5 1416.7 1263.5C1417.4 1263.5 1418 1263.5 1418.7 1263.5C1419.4 1263.5 1420 1263.5 1420.7 1263.5C1421.4 1263.5 1422 1263.5 1422.7 1263.5C1423.4 1263.5 1424 1263.5 1424.7 1263.5C1425.4 1263.5 1426 1263.5 1426.7 1263.5C1427.4 1263.5 1428 1263.5 1428.7 1263.5C1429.4 1263.5 1430 1263.5 1430.7 1263.5C1431.4 1263.5 1432 1263.5 1432.7 1263.5C1433.4 1263.5 1434 1263.5 1434.7 1263.5C1435.4 1263.5 1436 1263.5 1436.7 1263.5C1437.4 1263.5 1438 1263.5 1438.7 1263.5C1439.4 1263.5 1440 1263.5 1440.7 1263.5C1441.4 1263.5 1442 1263.5 1442.7 1263.5C1443.4 1263.5 1444 1263.5 1444.7 1263.5C1445.4 1263.5 1446 1263.5 1446.7 1263.5C1447.4 1263.5 1448 1263.5 1448.7 1263.5C1449.4 1263.5 1450 1263.5 1450.7 1263.5C1451.4 1263.5 1452 1263.4 1452.7 1263.4C1453.4 1263.4 1454 1263.4 1454.7 1263.4C1455.4 1263.4 1456 1263.4 1456.7 1263.4C1457.4 1263.4 1458 1263.4 1458.7 1263.4C1459.4 1263.4 1460 1263.4 1460.7 1263.3C1461.4 1263.3 1462 1263.3 1462.7 1263.3C1463.4 1263.3 1464 1263.3 1464.7 1263.2C1465.4 1263.2 1466 1263.2 1466.7 1263.2C1467.4 1263.2 1468 1263.1 1468.7 1263.1C1469.4 1263.1 1470 1263 1470.7 1263C1471.4 1263 1472 1262.9 1472.7 1262.9C1473.4 1262.8 1474 1262.8 1474.7 1262.7C1475.4 1262.7 1476 1262.6 1476.7 1262.5C1477.4 1262.5 1478 1262.4 1478.7 1262.3C1479.4 1262.2 1480 1262.1 1480.7 1262C1481.4 1261.9 1482 1261.8 1482.7 1261.7C1483.4 1261.6 1484 1261.5 1484.7 1261.3C1485.4 1261.2 1486 1261 1486.7 1260.9C1487.4 1260.7 1488 1260.5 1488.7 1260.4C1489.4 1260.2 1490 1260 1490.7 1259.7C1491.4 1259.5 1492 1259.3 1492.7 1259C1493.4 1258.8 1494 1258.5 1494.7 1258.2C1495.4 1257.9 1496 1257.6 1496.7 1257.2C1497.4 1256.9 1498 1256.5 1498.7 1256.1C1499.4 1255.7 1500 1255.3 1500.7 1254.9C1501.4 1254.4 1502 1253.9 1502.7 1253.4C1503.4 1252.9 1504 1252.3 1504.7 1251.8C1505.4 1251.2 1506 1250.5 1506.7 1249.9C1507.4 1249.2 1508 1248.5 1508.7 1247.8C1509.4 1247 1510 1246.3 1510.7 1245.4C1511.4 1244.6 1512 1243.7 1512.7 1242.8C1513.4 1241.9 1514 1240.9 1514.7 1239.9C1515.4 1238.9 1516 1237.8 1516.7 1236.7C1517.4 1235.6 1518 1234.5 1518.7 1233.3C1519.4 1232.1 1520 1230.9 1520.7 1229.6C1521.4 1228.4 1522 1227.1 1522.7 1225.8C1523.4 1224.4 1524 1223.1 1524.7 1221.7C1525.4 1220.4 1526 1219 1526.7 1217.6C1527.4 1216.2 1528 1214.8 1528.7 1213.3C1529.4 1211.9 1530 1210.5 1530.7 1209.1C1531.4 1207.6 1532 1206.2 1532.7 1204.8C1533.4 1203.4 1534 1201.9 1534.7 1200.5C1535.4 1199.1 1536 1197.7 1536.7 1196.3C1537.4 1194.9 1538 1193.5 1538.7 1192.1C1539.4 1190.8 1540 1189.4 1540.7 1188C1541.4 1186.7 1542 1185.3 1542.7 1184C1543.4 1182.7 1544 1181.4 1544.7 1180.1C1545.4 1178.8 1546 1177.5 1546.7 1176.3C1547.4 1175.1 1548 1173.8 1548.7 1172.7C1549.4 1171.5 1550 1170.3 1550.7 1169.2C1551.4 1168.1 1552 1167 1552.7 1166C1553.4 1165 1554 1164 1554.7 1163.1C1555.4 1162.2 1556 1161.3 1556.7 1160.6C1557.4 1159.8 1558 1159 1558.7 1158.4C1559.4 1157.7 1560 1157.1 1560.7 1156.6C1561.4 1156.1 1562 1155.6 1562.7 1155.2C1563.4 1154.9 1564 1154.6 1564.7 1154.4C1565.4 1154.2 1566 1154 1566.7 1154C1567.4 1153.9 1568 1154 1568.7 1154.1C1569.4 1154.2 1570 1154.4 1570.7 1154.6C1571.4 1154.9 1572 1155.2 1572.7 1155.7C1573.4 1156.1 1574 1156.6 1574.7 1157.2C1575.4 1157.7 1576 1158.4 1576.7 1159.1C1577.4 1159.8 1578 1160.6 1578.7 1161.4C1579.4 1162.2 1580 1163.2 1580.7 1164.1C1581.4 1165.1 1582 1166.1 1582.7 1167.1C1583.4 1168.2 1584 1169.3 1584.7 1170.4C1585.4 1171.5 1586 1172.7 1586.7 1173.9C1587.4 1175.1 1588 1176.4 1588.7 1177.7C1589.4 1178.9 1590 1180.2 1590.7 1181.5C1591.4 1182.8 1592 1184.1 1592.7 1185.5C1593.4 1186.8 1594 1188.1 1594.7 1189.5C1595.4 1190.8 1596 1192.2 1596.7 1193.5C1597.4 1194.8 1598 1196.2 1598.7 1197.5C1599.4 1198.8 1600 1200.1 1600.7 1201.4C1601.4 1202.6 1602 1203.9 1602.7 1205.2C1603.4 1206.4 1604 1207.6 1604.7 1208.8C1605.4 1210 1606 1211.2 1606.7 1212.3C1607.4 1213.4 1608 1214.5 1608.7 1215.6C1609.4 1216.6 1610 1217.7 1610.7 1218.7C1611.4 1219.7 1612 1220.6 1612.7 1221.5C1613.4 1222.5 1614 1223.3 1614.7 1224.2C1615.4 1225 1616 1225.8 1616.7 1226.5C1617.4 1227.3 1618 1228 1618.7 1228.7C1619.4 1229.4 1620 1230 1620.7 1230.6C1621.4 1231.2 1622 1231.7 1622.7 1232.2C1623.4 1232.7 1624 1233.1 1624.7 1233.6C1625.4 1234 1626 1234.4 1626.7 1234.7C1627.4 1235 1628 1235.3 1628.7 1235.6C1629.4 1235.8 1630 1236 1630.7 1236.2C1631.4 1236.4 1632 1236.5 1632.7 1236.6C1633.4 1236.7 1634 1236.7 1634.7 1236.7C1635.4 1236.7 1636 1236.7 1636.7 1236.7C1637.4 1236.6 1638 1236.5 1638.7 1236.4C1639.4 1236.3 1640 1236.1 1640.7 1235.9C1641.4 1235.7 1642 1235.5 1642.7 1235.3C1643.4 1235 1644 1234.7 1644.7 1234.4C1645.4 1234.1 1646 1233.8 1646.7 1233.4C1647.4 1233 1648 1232.7 1648.7 1232.3C1649.4 1231.9 1650 1231.4 1650.7 1231C1651.4 1230.5 1652 1230.1 1652.7 1229.6C1653.4 1229.1 1654 1228.6 1654.7 1228.1C1655.4 1227.6 1656 1227.1 1656.7 1226.6C1657.4 1226 1658 1225.5 1658.7 1225C1659.4 1224.4 1660 1223.9 1660.7 1223.3C1661.4 1222.8 1662 1222.2 1662.7 1221.7C1663.4 1221.1 1664 1220.6 1664.7 1220C1665.4 1219.5 1666 1219 1666.7 1218.4C1667.4 1217.9 1668 1217.4 1668.7 1216.9C1669.4 1216.4 1670 1215.9 1670.7 1215.4C1671.4 1214.9 1672 1214.5 1672.7 1214C1673.4 1213.6 1674 1213.1 1674.7 1212.7C1675.4 1212.3 1676 1211.9 1676.7 1211.6C1677.4 1211.2 1678 1210.9 1678.7 1210.6C1679.4 1210.3 1680 1210 1680.7 1209.7C1681.4 1209.4 1682 1209.2 1682.7 1209C1683.4 1208.8 1684 1208.6 1684.7 1208.5C1685.4 1208.3 1686 1208.2 1686.7 1208.1C1687.4 1208.1 1688 1208 1688.7 1208C1689.4 1208 1690 1208 1690.7 1208C1691.4 1208 1692 1208.1 1692.7 1208.2C1693.4 1208.3 1694 1208.5 1694.7 1208.6C1695.4 1208.8 1696 1209 1696.7 1209.2C1697.4 1209.4 1698.4 1209.9 1698.7 1210" stroke="#000000"/>
<path d="M1322.7 944.9C1323 945.1 1324 945.2 1324.7 945.8C1325.4 946.5 1326 947.4 1326.7 948.7C1327.4 949.9 1328 951.5 1328.7 953.3C1329.4 955.2 1330 957.3 1330.7 959.7C1331.4 962.1 1332 964.8 1332.7 967.8C1333.4 970.7 1334 973.9 1334.7 977.3C1335.4 980.7 1336 984.4 1336.7 988.2C1337.4 992 1338 996.1 1338.7 1000.2C1339.4 1004.4 1340 1008.8 1340.7 1013.2C1341.4 1017.7 1342 1022.3 1342.7 1027C1343.4 1031.7 1344 1036.5 1344.7 1041.4C1345.4 1046.2 1346 1051.1 1346.7 1056.1C1347.4 1061 1348 1066 1348.7 1071C1349.4 1075.9 1350 1080.9 1350.7 1085.9C1351.4 1090.8 1352 1095.7 1352.7 1100.6C1353.4 1105.4 1354 1110.2 1354.7 1114.9C1355.4 1119.7 1356 1124.3 1356.7 1128.9C1357.4 1133.4 1358 1137.9 1358.7 1142.2C1359.4 1146.5 1360 1150.8 1360.7 1154.9C1361.4 1159 1362 1162.9 1362.7 1166.8C1363.4 1170.6 1364 1174.3 1364.7 1177.9C1365.4 1181.5 1366 1184.9 1366.7 1188.2C1367.4 1191.5 1368 1194.6 1368.7 1197.7C1369.4 1200.7 1370 1203.5 1370.7 1206.3C1371.4 1209 1372 1211.6 1372.7 1214C1373.4 1216.5 1374 1218.8 1374.7 1221C1375.4 1223.2 1376 1225.3 1376.7 1227.2C1377.4 1229.2 1378 1231 1378.7 1232.7C1379.4 1234.4 1380 1236 1380.7 1237.5C1381.4 1239 1382 1240.4 1382.7 1241.7C1383.4 1243 1384 1244.2 1384.7 1245.3C1385.4 1246.5 1386 1247.5 1386.7 1248.4C1387.4 1249.4 1388 1250.3 1388.7 1251.1C1389.4 1251.9 1390 1252.7 1390.7 1253.3C1391.4 1254 1392 1254.7 1392.7 1255.2C1393.4 1255.8 1394 1256.3 1394.7 1256.8C1395.4 1257.3 1396 1257.7 1396.7 1258.1C1397.4 1258.5 1398 1258.9 1398.7 1259.2C1399.4 1259.5 1400 1259.8 1400.7 1260.1C1401.4 1260.3 1402 1260.6 1402.7 1260.8C1403.4 1261 1404 1261.2 1404.7 1261.4C1405.4 1261.5 1406 1261.7 1406.7 1261.8C1407.4 1262 1408 1262.1 1408.7 1262.2C1409.4 1262.3 1410 1262.4 1410.7 1262.5C1411.4 1262.6 1412 1262.7 1412.7 1262.7C1413.4 1262.8 1414 1262.9 1414.7 1262.9C1415.4 1263 1416 1263 1416.7 1263.1C1417.4 1263.1 1418 1263.1 1418.7 1263.2C1419.4 1263.2 1420 1263.2 1420.7 1263.3C1421.4 1263.3 1422 1263.3 1422.7 1263.3C1423.4 1263.3 1424 1263.3 1424.7 1263.4C1425.4 1263.4 1426 1263.4 1426.7 1263.4C1427.4 1263.4 1428 1263.4 1428.7 1263.4C1429.4 1263.4 1430 1263.4 1430.7 1263.4C1431.4 1263.4 1432 1263.5 1432.7 1263.5C1433.4 1263.5 1434 1263.5 1434.7 1263.5C1435.4 1263.5 1436 1263.5 1436.7 1263.5C1437.4 1263.5 1438 1263.5 1438.7 1263.5C1439.4 1263.5 1440 1263.5 1440.7 1263.5C1441.4 1263.5 1442 1263.5 1442.7 1263.5C1443.4 1263.5 1444 1263.5 1444.7 1263.5C1445.4 1263.5 1446 1263.5 1446.7 1263.5C1447.4 1263.5 1448 1263.5 1448.7 1263.5C1449.4 1263.5 1450 1263.5 1450.7 1263.5C1451.4 1263.5 1452 1263.4 1452.7 1263.4C1453.4 1263.4 1454 1263.4 1454.7 1263.4C1455.4 1263.4 1456 1263.4 1456.7 1263.4C1457.4 1263.4 1458 1263.4 1458.7 1263.4C1459.4 1263.4 1460 1263.4 1460.7 1263.3C1461.4 1263.3 1462 1263.3 1462.7 1263.3C1463.4 1263.3 1464 1263.3 1464.7 1263.2C1465.4 1263.2 1466 1263.2 1466.7 1263.2C1467.4 1263.2 1468 1263.1 1468.7 1263.1C1469.4 1263.1 1470 1263 1470.7 1263C1471.4 1263 1472 1262.9 1472.7 1262.9C1473.4 1262.8 1474 1262.8 1474.7 1262.7C1475.4 1262.7 1476 1262.6 1476.7 1262.5C1477.4 1262.5 1478 1262.4 1478.7 1262.3C1479.4 1262.2 1480 1262.1 1480.7 1262C1481.4 1261.9 1482 1261.8 1482.7 1261.7C1483.4 1261.6 1484 1261.5 1484.7 1261.3C1485.4 1261.2 1486 1261 1486.7 1260.9C1487.4 1260.7 1488 1260.5 1488.7 1260.4C1489.4 1260.2 1490 1260 1490.7 1259.7C1491.4 1259.5 1492 1259.3 1492.7 1259C1493.4 1258.8 1494 1258.5 1494.7 1258.2C1495.4 1257.9 1496 1257.6 1496.7 1257.2C1497.4 1256.9 1498 1256.5 1498.7 1256.1C1499.4 1255.7 1500 1255.3 1500.7 1254.9C1501.4 1254.4 1502 1253.9 1502.7 1253.4C1503.4 1252.9 1504 1252.3 1504.7 1251.8C1505.4 1251.2 1506 1250.5 1506.7 1249.9C1507.4 1249.2 1508 1248.5 1508.7 1247.8C1509.4 1247 1510 1246.3 1510.7 1245.4C1511.4 1244.6 1512 1243.7 1512.7 1242.8C1513.4 1241.9 1514 1240.9 1514.7 1239.9C1515.4 1238.9 1516 1237.8 1516.7 1236.7C1517.4 1235.6 1518 1234.5 1518.7 1233.3C1519.4 1232.1 1520 1230.9 1520.7 1229.6C1521.4 1228.4 1522 1227.1 1522.7 1225.8C1523.4 1224.4 1524 1223.1 1524.7 1221.7C1525.4 1220.4 1526 1219 1526.7 1217.6C1527.4 1216.2 1528 1214.8 1528.7 1213.3C1529.4 1211.9 1530 1210.5 1530.7 1209.1C1531.4 1207.6 1532 1206.2 1532.7 1204.8C1533.4 1203.4 1534 1201.9 1534.7 1200.5C1535.4 1199.1 1536 1197.7 1536.7 1196.3C1537.4 1194.9 1538 1193.5 1538.7 1192.1C1539.4 1190.8 1540 1189.4 1540.7 1188C1541.4 1186.7 1542 1185.3 1542.7 1184C1543.4 1182.7 1544 1181.4 1544.7 1180.1C1545.4 1178.8 1546 1177.5 1546.7 1176.3C1547.4 1175.1 1548 1173.8 1548.7 1172.7C1549.4 1171.5 1550 1170.3 1550.7 1169.2C1551.4 1168.1 1552 1167 1552.7 1166C1553.4 1165 1554 1164 1554.7 1163.1C1555.4 1162.2 1556 1161.3 1556.7 1160.6C1557.4 1159.8 1558 1159 1558.7 1158.4C1559.4 1157.7 1560 1157.1 1560.7 1156.6C1561.4 1156.1 1562 1155.6 1562.7 1155.2C1563.4 1154.9 1564 1154.6 1564.7 1154.4C1565.4 1154.2 1566 1154 1566.7 1154C1567.4 1153.9 1568 1154 1568.7 1154.1C1569.4 1154.2 1570 1154.4 1570.7 1154.6C1571.4 1154.9 1572 1155.2 1572.7 1155.7C1573.4 1156.1 1574 1156.6 1574.7 1157.2C1575.4 1157.7 1576 1158.4 1576.7 1159.1C1577.4 1159.8 1578 1160.6 1578.7 1161.4C1579.4 1162.2 1580 1163.2 1580.7 1164.1C1581.4 1165.1 1582 1166.1 1582.7 1167.1C1583.4 1168.2 1584 1169.3 1584.7 1170.4C1585.4 1171.5 1586 1172.7 1586.7 1173.9C1587.4 1175.1 1588 1176.4 1588.7 1177.7C1589.4 1178.9 1590 1180.2 1590.7 1181.5C1591.4 1182.8 1592 1184.1 1592.7 1185.5C1593.4 1186.8 1594 1188.1 1594.7 1189.5C1595.4 1190.8 1596 1192.2 1596.7 1193.5C1597.4 1194.8 1598 1196.2 1598.7 1197.5C1599.4 1198.8 1600 1200.1 1600.7 1201.4C1601.4 1202.6 1602 1203.9 1602.7 1205.2C1603.4 1206.4 1604 1207.6 1604.7 1208.8C1605.4 1210 1606 1211.2 1606.7 1212.3C1607.4 1213.4 1608 1214.5 1608.7 1215.6C1609.4 1216.6 1610 1217.7 1610.7 1218.7C1611.4 1219.7 1612 1220.6 1612.7 1221.5C1613.4 1222.5 1614 1223.3 1614.7 1224.2C1615.4 1225 1616 1225.8 1616.7 1226.5C1617.4 1227.3 1618 1228 1618.7 1228.7C1619.4 1229.4 1620 1230 1620.7 1230.6C1621.4 1231.2 1622 1231.7 1622.7 1232.2C1623.4 1232.7 1624 1233.1 1624.7 1233.6C1625.4 1234 1626 1234.4 1626.7 1234.7C1627.4 1235 1628 1235.3 1628.7 1235.6C1629.4 1235.8 1630 1236 1630.7 1236.2C1631.4 1236.4 1632 1236.5 1632.7 1236.6C1633.4 1236.7 1634 1236.7 1634.7 1236.7C1635.4 1236.7 1636 1236.7 1636.7 1236.7C1637.4 1236.6 1638 1236.5 1638.7 1236.4C1639.4 1236.3 1640 1236.1 1640.7 1235.9C1641.4 1235.7 1642 1235.5 1642.7 1235.3C1643.4 1235 1644 1234.7 1644.7 1234.4C1645.4 1234.1 1646 1233.8 1646.7 1233.4C1647.4 1233 1648 1232.7 1648.7 1232.3C1649.4 1231.9 1650 1231.4 1650.7 1231C1651.4 1230.5 1652 1230.1 1652.7 1229.6C1653.4 1229.1 1654 1228.6 1654.7 1228.1C1655.4 1227.6 1656 1227.1 1656.7 1226.6C1657.4 1226 1658 1225.5 1658.7 1225C1659.4 1224.4 1660 1223.9 1660.7 1223.3C1661.4 1222.8 1662 1222.2 1662.7 1221.7C1663.4 1221.1 1664 1220.6 1664.7 1220C1665.4 1219.5 1666 1219 1666.7 1218.4C1667.4 1217.9 1668 1217.4 1668.7 1216.9C1669.4 1216.4 1670 1215.9 1670.7 1215.4C1671.4 1214.9 1672 1214.5 1672.7 1214C1673.4 1213.6 1674 1213.1 1674.7 1212.7C1675.4 1212.3 1676 1211.9 1676.7 1211.6C1677.4 1211.2 1678 1210.9 1678.7 1210.6C1679.4 1210.3 1680 1210 1680.7 1209.7C1681.4 1209.4 1682 1209.2 1682.7 1209C1683.4 1208.8 1684 1208.6 1684.7 1208.5C1685.4 1208.3 1686 1208.2 1686.7 1208.1C1687.4 1208.1 1688 1208 1688.7 1208C1689.4 1208 1690 1208 1690.7 1208C1691.4 1208 1692 1208.1 1692.7 1208.2C1693.4 1208.3 1694 1208.5 1694.7 1208.6C1695.4 1208.8 1696 1209 1696.7 1209.2C1697.4 1209.4 1698.4 1209.9 1698.7 1210" stroke="#0000FF"/>
<path d="M1322.7 944.9C1323 945 1324 945 1324.7 945.3C1325.4 945.6 1326 946.1 1326.7 946.6C1327.4 947.2 1328 947.9 1328.7 948.8C1329.4 949.7 1330 950.7 1330.7 951.8C1331.4 952.9 1332 954.2 1332.7 955.6C1333.4 957 1334 958.6 1334.7 960.2C1335.4 961.9 1336 963.7 1336.7 965.6C1337.4 967.5 1338 969.5 1338.7 971.6C1339.4 973.8 1340 976 1340.7 978.3C1341.4 980.7 1342 983.1 1342.7 985.7C1343.4 988.2 1344 990.8 1344.7 993.5C1345.4 996.2 1346 999 1346.7 1001.9C1347.4 1004.8 1348 1007.7 1348.7 1010.7C1349.4 1013.7 1350 1016.8 1350.7 1019.9C1351.4 1023 1352 1026.2 1352.7 1029.4C1353.4 1032.6 1354 1035.8 1354.7 1039.1C1355.4 1042.4 1356 1045.7 1356.7 1049C1357.4 1052.3 1358 1055.7 1358.7 1059.1C1359.4 1062.4 1360 1065.8 1360.7 1069.1C1361.4 1072.5 1362 1075.9 1362.7 1079.3C1363.4 1082.6 1364 1086 1364.7 1089.3C1365.4 1092.6 1366 1096 1366.7 1099.3C1367.4 1102.6 1368 1105.8 1368.7 1109.1C1369.4 1112.3 1370 1115.5 1370.7 1118.7C1371.4 1121.9 1372 1125 1372.7 1128.1C1373.4 1131.2 1374 1134.2 1374.7 1137.2C1375.4 1140.2 1376 1143.2 1376.7 1146.1C1377.4 1149 1378 1151.8 1378.7 1154.6C1379.4 1157.4 1380 1160.1 1380.7 1162.8C1381.4 1165.4 1382 1168 1382.7 1170.6C1383.4 1173.1 1384 1175.6 1384.7 1178C1385.4 1180.4 1386 1182.8 1386.7 1185.1C1387.4 1187.4 1388 1189.6 1388.7 1191.8C1389.4 1193.9 1390 1196 1390.7 1198.1C1391.4 1200.1 1392 1202.1 1392.7 1204C1393.4 1205.9 1394 1207.7 1394.7 1209.5C1395.4 1211.2 1396 1213 1396.7 1214.6C1397.4 1216.3 1398 1217.9 1398.7 1219.4C1399.4 1220.9 1400 1222.4 1400.7 1223.8C1401.4 1225.2 1402 1226.6 1402.7 1227.9C1403.4 1229.2 1404 1230.4 1404.7 1231.6C1405.4 1232.8 1406 1233.9 1406.7 1235C1407.4 1236.1 1408 1237.2 1408.7 1238.2C1409.4 1239.2 1410 1240.1 1410.7 1241C1411.4 1241.9 1412 1242.8 1412.7 1243.6C1413.4 1244.4 1414 1245.2 1414.7 1245.9C1415.4 1246.7 1416 1247.4 1416.7 1248C1417.4 1248.7 1418 1249.3 1418.7 1249.9C1419.4 1250.5 1420 1251.1 1420.7 1251.6C1421.4 1252.1 1422 1252.6 1422.7 1253.1C1423.4 1253.6 1424 1254 1424.7 1254.4C1425.4 1254.9 1426 1255.3 1426.7 1255.6C1427.4 1256 1428 1256.4 1428.7 1256.7C1429.4 1257 1430 1257.3 1430.7 1257.6C1431.4 1257.9 1432 1258.2 1432.7 1258.4C1433.4 1258.7 1434 1258.9 1434.7 1259.1C1435.4 1259.4 1436 1259.6 1436.7 1259.8C1437.4 1260 1438 1260.1 1438.7 1260.3C1439.4 1260.5 1440 1260.6 1440.7 1260.8C1441.4 1260.9 1442 1261.1 1442.7 1261.2C1443.4 1261.3 1444 1261.4 1444.7 1261.5C1445.4 1261.6 1446 1261.7 1446.7 1261.8C1447.4 1261.9 1448 1262 1448.7 1262.1C1449.4 1262.2 1450 1262.2 1450.7 1262.3C1451.4 1262.4 1452 1262.4 1452.7 1262.5C1453.4 1262.5 1454 1262.6 1454.7 1262.6C1455.4 1262.7 1456 1262.7 1456.7 1262.7C1457.4 1262.8 1458 1262.8 1458.7 1262.8C1459.4 1262.8 1460 1262.9 1460.7 1262.9C1461.4 1262.9 1462 1262.9 1462.7 1262.9C1463.4 1262.9 1464 1262.9 1464.7 1262.9C1465.4 1262.9 1466 1262.9 1466.7 1262.9C1467.4 1262.9 1468 1262.9 1468.7 1262.9C1469.4 1262.9 1470 1262.8 1470.7 1262.8C1471.4 1262.8 1472 1262.8 1472.7 1262.7C1473.4 1262.7 1474 1262.6 1474.7 1262.6C1475.4 1262.5 1476 1262.5 1476.7 1262.4C1477.4 1262.4 1478 1262.3 1478.7 1262.2C1479.4 1262.1 1480 1262.1 1480.7 1262C1481.4 1261.9 1482 1261.8 1482.7 1261.7C1483.4 1261.6 1484 1261.4 1484.7 1261.3C1485.4 1261.2 1486 1261 1486.7 1260.9C1487.4 1260.7 1488 1260.5 1488.7 1260.3C1489.4 1260.1 1490 1259.9 1490.7 1259.7C1491.4 1259.5 1492 1259.3 1492.7 1259C1493.4 1258.7 1494 1258.5 1494.7 1258.2C1495.4 1257.9 1496 1257.6 1496.7 1257.2C1497.4 1256.9 1498 1256.5 1498.7 1256.1C1499.4 1255.7 1500 1255.3 1500.7 1254.8C1501.4 1254.4 1502 1253.9 1502.7 1253.4C1503.4 1252.9 1504 1252.3 1504.7 1251.7C1505.4 1251.2 1506 1250.5 1506.7 1249.9C1507.4 1249.2 1508 1248.5 1508.7 1247.8C1509.4 1247 1510 1246.3 1510.7 1245.4C1511.4 1244.6 1512 1243.7 1512.7 1242.8C1513.4 1241.9 1514 1240.9 1514.7 1239.9C1515.4 1238.9 1516 1237.8 1516.7 1236.7C1517.4 1235.6 1518 1234.5 1518.7 1233.3C1519.4 1232.1 1520 1230.9 1520.7 1229.6C1521.4 1228.4 1522 1227.1 1522.7 1225.8C1523.4 1224.4 1524 1223.1 1524.7 1221.7C1525.4 1220.4 1526 1219 1526.7 1217.6C1527.4 1216.2 1528 1214.8 1528.7 1213.3C1529.4 1211.9 1530 1210.5 1530.7 1209.1C1531.4 1207.6 1532 1206.2 1532.7 1204.8C1533.4 1203.4 1534 1201.9 1534.7 1200.5C1535.4 1199.1 1536 1197.7 1536.7 1196.3C1537.4 1194.9 1538 1193.5 1538.7 1192.1C1539.4 1190.8 1540 1189.4 1540.7 1188C1541.4 1186.7 1542 1185.3 1542.7 1184C1543.4 1182.7 1544 1181.4 1544.7 1180.1C1545.4 1178.8 1546 1177.5 1546.7 1176.3C1547.4 1175.1 1548 1173.8 1548.7 1172.7C1549.4 1171.5 1550 1170.3 1550.7 1169.2C1551.4 1168.1 1552 1167 1552.7 1166C1553.4 1165 1554 1164 1554.7 1163.1C1555.4 1162.2 1556 1161.3 1556.7 1160.6C1557.4 1159.8 1558 1159 1558.7 1158.4C1559.4 1157.7 1560 1157.1 1560.7 1156.6C1561.4 1156.1 1562 1155.6 1562.7 1155.2C1563.4 1154.9 1564 1154.6 1564.7 1154.4C1565.4 1154.2 1566 1154 1566.7 1154C1567.4 1153.9 1568 1154 1568.7 1154.1C1569.4 1154.2 1570 1154.4 1570.7 1154.6C1571.4 1154.9 1572 1155.2 1572.7 1155.7C1573.4 1156.1 1574 1156.6 1574.7 1157.2C1575.4 1157.7 1576 1158.4 1576.7 1159.1C1577.4 1159.8 1578 1160.6 1578.7 1161.4C1579.4 1162.2 1580 1163.2 1580.7 1164.1C1581.4 1165.1 1582 1166.1 1582.7 1167.1C1583.4 1168.2 1584 1169.3 1584.7 1170.4C1585.4 1171.5 1586 1172.7 1586.7 1173.9C1587.4 1175.1 1588 1176.4 1588.7 1177.7C1589.4 1178.9 1590 1180.2 1590.7 1181.5C1591.4 1182.8 1592 1184.1 1592.7 1185.5C1593.4 1186.8 1594 1188.1 1594.7 1189.5C1595.4 1190.8 1596 1192.2 1596.7 1193.5C1597.4 1194.8 1598 1196.2 1598.7 1197.5C1599.4 1198.8 1600 1200.1 1600.7 1201.4C1601.4 1202.6 1602 1203.9 1602.7 1205.2C1603.4 1206.4 1604 1207.6 1604.7 1208.8C1605.4 1210 1606 1211.2 1606.7 1212.3C1607.4 1213.4 1608 1214.5 1608.7 1215.6C1609.4 1216.6 1610 1217.7 1610.7 1218.7C1611.4 1219.7 1612 1220.6 1612.7 1221.5C1613.4 1222.5 1614 1223.3 1614.7 1224.2C1615.4 1225 1616 1225.8 1616.7 1226.5C1617.4 1227.3 1618 1228 1618.7 1228.7C1619.4 1229.4 1620 1230 1620.7 1230.6C1621.4 1231.2 1622 1231.7 1622.7 1232.2C1623.4 1232.7 1624 1233.1 1624.7 1233.6C1625.4 1234 1626 1234.4 1626.7 1234.7C1627.4 1235 1628 1235.3 1628.7 1235.6C1629.4 1235.8 1630 1236 1630.7 1236.2C1631.4 1236.4 1632 1236.5 1632.7 1236.6C1633.4 1236.7 1634 1236.7 1634.7 1236.7C1635.4 1236.7 1636 1236.7 1636.7 1236.7C1637.4 1236.6 1638 1236.5 1638.7 1236.4C1639.4 1236.3 1640 1236.1 1640.7 1235.9C1641.4 1235.7 1642 1235.5 1642.7 1235.3C1643.4 1235 1644 1234.7 1644.7 1234.4C1645.4 1234.1 1646 1233.8 1646.7 1233.4C1647.4 1233 1648 1232.7 1648.7 1232.3C1649.4 1231.9 1650 1231.4 1650.7 1231C1651.4 1230.5 1652 1230.1 1652.7 1229.6C1653.4 1229.1 1654 1228.6 1654.7 1228.1C1655.4 1227.6 1656 1227.1 1656.7 1226.6C1657.4 1226 1658 1225.5 1658.7 1225C1659.4 1224.4 1660 1223.9 1660.7 1223.3C1661.4 1222.8 1662 1222.2 1662.7 1221.7C1663.4 1221.1 1664 1220.6 1664.7 1220C1665.4 1219.5 1666 1219 1666.7 1218.4C1667.4 1217.9 1668 1217.4 1668.7 1216.9C1669.4 1216.4 1670 1215.9 1670.7 1215.4C1671.4 1214.9 1672 1214.5 1672.7 1214C1673.4 1213.6 1674 1213.1 1674.7 1212.7C1675.4 1212.3 1676 1211.9 1676.7 1211.6C1677.4 1211.2 1678 1210.9 1678.7 1210.6C1679.4 1210.3 1680 1210 1680.7 1209.7C1681.4 1209.4 1682 1209.2 1682.7 1209C1683.4 1208.8 1684 1208.6 1684.7 1208.5C1685.4 1208.3 1686 1208.2 1686.7 1208.1C1687.4 1208.1 1688 1208 1688.7 1208C1689.4 1208 1690 1208 1690.7 1208C1691.4 1208 1692 1208.1 1692.7 1208.2C1693.4 1208.3 1694 1208.5 1694.7 1208.6C1695.4 1208.8 1696 1209 1696.7 1209.2C1697.4 1209.4 1698.4 1209.9 1698.7 1210" stroke="#008000"/>
<path d="M1322.7 944.9C1323 944.9 1324 945 1324.7 945.1C1325.4 945.3 1326 945.6 1326.7 945.9C1327.4 946.2 1328 946.6 1328.7 947.1C1329.4 947.6 1330 948.2 1330.7 948.9C1331.4 949.5 1332 950.3 1332.7 951.1C1333.4 951.9 1334 952.8 1334.7 953.8C1335.4 954.7 1336 955.8 1336.7 956.9C1337.4 958 1338 959.2 1338.7 960.5C1339.4 961.7 1340 963.1 1340.7 964.5C1341.4 965.9 1342 967.4 1342.7 968.9C1343.4 970.4 1344 972 1344.7 973.7C1345.4 975.4 1346 977.1 1346.7 978.9C1347.4 980.7 1348 982.5 1348.7 984.4C1349.4 986.3 1350 988.2 1350.7 990.2C1351.4 992.2 1352 994.3 1352.7 996.4C1353.4 998.5 1354 1000.6 1354.7 1002.8C1355.4 1005 1356 1007.2 1356.7 1009.4C1357.4 1011.7 1358 1014 1358.7 1016.3C1359.4 1018.6 1360 1021 1360.7 1023.4C1361.4 1025.7 1362 1028.2 1362.7 1030.6C1363.4 1033 1364 1035.5 1364.7 1037.9C1365.4 1040.4 1366 1042.9 1366.7 1045.4C1367.4 1047.9 1368 1050.4 1368.7 1053C1369.4 1055.5 1370 1058 1370.7 1060.6C1371.4 1063.1 1372 1065.7 1372.7 1068.2C1373.4 1070.8 1374 1073.3 1374.7 1075.9C1375.4 1078.4 1376 1081 1376.7 1083.5C1377.4 1086 1378 1088.6 1378.7 1091.1C1379.4 1093.6 1380 1096.1 1380.7 1098.6C1381.4 1101.1 1382 1103.6 1382.7 1106.1C1383.4 1108.5 1384 1111 1384.7 1113.4C1385.4 1115.8 1386 1118.2 1386.7 1120.6C1387.4 1123 1388 1125.4 1388.7 1127.7C1389.4 1130.1 1390 1132.4 1390.7 1134.7C1391.4 1136.9 1392 1139.2 1392.7 1141.4C1393.4 1143.7 1394 1145.9 1394.7 1148C1395.4 1150.2 1396 1152.3 1396.7 1154.5C1397.4 1156.6 1398 1158.6 1398.7 1160.7C1399.4 1162.7 1400 1164.7 1400.7 1166.7C1401.4 1168.7 1402 1170.6 1402.7 1172.5C1403.4 1174.4 1404 1176.3 1404.7 1178.1C1405.4 1179.9 1406 1181.7 1406.7 1183.5C1407.4 1185.2 1408 1186.9 1408.7 1188.6C1409.4 1190.3 1410 1191.9 1410.7 1193.6C1411.4 1195.2 1412 1196.7 1412.7 1198.3C1413.4 1199.8 1414 1201.3 1414.7 1202.7C1415.4 1204.2 1416 1205.6 1416.7 1207C1417.4 1208.4 1418 1209.8 1418.7 1211.1C1419.4 1212.4 1420 1213.7 1420.7 1214.9C1421.4 1216.1 1422 1217.4 1422.7 1218.5C1423.4 1219.7 1424 1220.8 1424.7 1221.9C1425.4 1223.1 1426 1224.1 1426.7 1225.2C1427.4 1226.2 1428 1227.2 1428.7 1228.2C1429.4 1229.2 1430 1230.1 1430.7 1231C1431.4 1231.9 1432 1232.8 1432.7 1233.7C1433.4 1234.5 1434 1235.4 1434.7 1236.2C1435.4 1237 1436 1237.7 1436.7 1238.5C1437.4 1239.2 1438 1239.9 1438.7 1240.6C1439.4 1241.3 1440 1242 1440.7 1242.6C1441.4 1243.3 1442 1243.9 1442.7 1244.5C1443.4 1245.1 1444 1245.6 1444.7 1246.2C1445.4 1246.7 1446 1247.3 1446.7 1247.8C1447.4 1248.3 1448 1248.8 1448.7 1249.2C1449.4 1249.7 1450 1250.1 1450.7 1250.6C1451.4 1251 1452 1251.4 1452.7 1251.8C1453.4 1252.2 1454 1252.6 1454.7 1252.9C1455.4 1253.3 1456 1253.6 1456.7 1253.9C1457.4 1254.3 1458 1254.6 1458.7 1254.9C1459.4 1255.1 1460 1255.4 1460.7 1255.7C1461.4 1256 1462 1256.2 1462.7 1256.4C1463.4 1256.7 1464 1256.9 1464.7 1257.1C1465.4 1257.3 1466 1257.5 1466.7 1257.7C1467.4 1257.9 1468 1258 1468.7 1258.2C1469.4 1258.3 1470 1258.5 1470.7 1258.6C1471.4 1258.7 1472 1258.9 1472.7 1259C1473.4 1259.1 1474 1259.2 1474.7 1259.3C1475.4 1259.3 1476 1259.4 1476.7 1259.5C1477.4 1259.5 1478 1259.6 1478.7 1259.6C1479.4 1259.6 1480 1259.6 1480.7 1259.6C1481.4 1259.6 1482 1259.6 1482.7 1259.6C1483.4 1259.6 1484 1259.5 1484.7 1259.5C1485.4 1259.4 1486 1259.3 1486.7 1259.2C1487.4 1259.1 1488 1259 1488.7 1258.9C1489.4 1258.8 1490 1258.6 1490.7 1258.5C1491.4 1258.3 1492 1258.1 1492.7 1257.9C1493.4 1257.7 1494 1257.5 1494.7 1257.2C1495.4 1257 1496 1256.7 1496.7 1256.4C1497.4 1256.1 1498 1255.7 1498.7 1255.4C1499.4 1255 1500 1254.6 1500.7 1254.2C1501.4 1253.8 1502 1253.3 1502.7 1252.8C1503.4 1252.4 1504 1251.8 1504.7 1251.3C1505.4 1250.7 1506 1250.1 1506.7 1249.5C1507.4 1248.8 1508 1248.1 1508.7 1247.4C1509.4 1246.7 1510 1245.9 1510.7 1245.1C1511.4 1244.3 1512 1243.4 1512.7 1242.5C1513.4 1241.6 1514 1240.7 1514.7 1239.7C1515.4 1238.7 1516 1237.6 1516.7 1236.5C1517.4 1235.4 1518 1234.3 1518.7 1233.1C1519.4 1231.9 1520 1230.7 1520.7 1229.5C1521.4 1228.2 1522 1226.9 1522.7 1225.6C1523.4 1224.3 1524 1223 1524.7 1221.6C1525.4 1220.3 1526 1218.9 1526.7 1217.5C1527.4 1216.1 1528 1214.7 1528.7 1213.3C1529.4 1211.8 1530 1210.4 1530.7 1209C1531.4 1207.6 1532 1206.1 1532.7 1204.7C1533.4 1203.3 1534 1201.9 1534.7 1200.5C1535.4 1199.1 1536 1197.7 1536.7 1196.3C1537.4 1194.9 1538 1193.5 1538.7 1192.1C1539.4 1190.7 1540 1189.4 1540.7 1188C1541.4 1186.7 1542 1185.3 1542.7 1184C1543.4 1182.7 1544 1181.4 1544.7 1180.1C1545.4 1178.8 1546 1177.5 1546.7 1176.3C1547.4 1175 1548 1173.8 1548.7 1172.6C1549.4 1171.5 1550 1170.3 1550.7 1169.2C1551.4 1168.1 1552 1167 1552.7 1166C1553.4 1165 1554 1164 1554.7 1163.1C1555.4 1162.2 1556 1161.3 1556.7 1160.5C1557.4 1159.8 1558 1159 1558.7 1158.4C1559.4 1157.7 1560 1157.1 1560.7 1156.6C1561.4 1156.1 1562 1155.6 1562.7 1155.2C1563.4 1154.9 1564 1154.6 1564.7 1154.4C1565.4 1154.2 1566 1154 1566.7 1154C1567.4 1153.9 1568 1153.9 1568.7 1154.1C1569.4 1154.2 1570 1154.4 1570.7 1154.6C1571.4 1154.9 1572 1155.2 1572.7 1155.7C1573.4 1156.1 1574 1156.6 1574.7 1157.2C1575.4 1157.7 1576 1158.4 1576.7 1159.1C1577.4 1159.8 1578 1160.6 1578.7 1161.4C1579.4 1162.2 1580 1163.2 1580.7 1164.1C1581.4 1165.1 1582 1166.1 1582.7 1167.1C1583.4 1168.2 1584 1169.3 1584.7 1170.4C1585.4 1171.5 1586 1172.7 1586.7 1173.9C1587.4 1175.1 1588 1176.4 1588.7 1177.7C1589.4 1178.9 1590 1180.2 1590.7 1181.5C1591.4 1182.8 1592 1184.1 1592.7 1185.5C1593.4 1186.8 1594 1188.1 1594.7 1189.5C1595.4 1190.8 1596 1192.2 1596.7 1193.5C1597.4 1194.8 1598 1196.2 1598.7 1197.5C1599.4 1198.8 1600 1200.1 1600.7 1201.4C1601.4 1202.6 1602 1203.9 1602.7 1205.2C1603.4 1206.4 1604 1207.6 1604.7 1208.8C1605.4 1210 1606 1211.2 1606.7 1212.3C1607.4 1213.4 1608 1214.5 1608.7 1215.6C1609.4 1216.6 1610 1217.7 1610.7 1218.7C1611.4 1219.7 1612 1220.6 1612.7 1221.5C1613.4 1222.5 1614 1223.3 1614.7 1224.2C1615.4 1225 1616 1225.8 1616.7 1226.5C1617.4 1227.3 1618 1228 1618.7 1228.7C1619.4 1229.4 1620 1230 1620.7 1230.6C1621.4 1231.2 1622 1231.7 1622.7 1232.2C1623.4 1232.7 1624 1233.1 1624.7 1233.6C1625.4 1234 1626 1234.4 1626.7 1234.7C1627.4 1235 1628 1235.3 1628.7 1235.6C1629.4 1235.8 1630 1236 1630.7 1236.2C1631.4 1236.4 1632 1236.5 1632.7 1236.6C1633.4 1236.7 1634 1236.7 1634.7 1236.7C1635.4 1236.7 1636 1236.7 1636.7 1236.7C1637.4 1236.6 1638 1236.5 1638.7 1236.4C1639.4 1236.3 1640 1236.1 1640.7 1235.9C1641.4 1235.7 1642 1235.5 1642.7 1235.3C1643.4 1235 1644 1234.7 1644.7 1234.4C1645.4 1234.1 1646 1233.8 1646.7 1233.4C1647.4 1233 1648 1232.7 1648.7 1232.3C1649.4 1231.9 1650 1231.4 1650.7 1231C1651.4 1230.5 1652 1230.1 1652.7 1229.6C1653.4 1229.1 1654 1228.6 1654.7 1228.1C1655.4 1227.6 1656 1227.1 1656.7 1226.6C1657.4 1226 1658 1225.5 1658.7 1225C1659.4 1224.4 1660 1223.9 1660.7 1223.3C1661.4 1222.8 1662 1222.2 1662.7 1221.7C1663.4 1221.1 1664 1220.6 1664.7 1220C1665.4 1219.5 1666 1219 1666.7 1218.4C1667.4 1217.9 1668 1217.4 1668.7 1216.9C1669.4 1216.4 1670 1215.9 1670.7 1215.4C1671.4 1214.9 1672 1214.5 1672.7 1214C1673.4 1213.6 1674 1213.1 1674.7 1212.7C1675.4 1212.3 1676 1211.9 1676.7 1211.6C1677.4 1211.2 1678 1210.9 1678.7 1210.6C1679.4 1210.3 1680 1210 1680.7 1209.7C1681.4 1209.4 1682 1209.2 1682.7 1209C1683.4 1208.8 1684 1208.6 1684.7 1208.5C1685.4 1208.3 1686 1208.2 1686.7 1208.1C1687.4 1208.1 1688 1208 1688.7 1208C1689.4 1208 1690 1208 1690.7 1208C1691.4 1208 1692 1208.1 1692.7 1208.2C1693.4 1208.3 1694 1208.5 1694.7 1208.6C1695.4 1208.8 1696 1209 1696.7 1209.2C1697.4 1209.4 1698.4 1209.9 1698.7 1210" stroke="#8F00FF"/>
<path d="M1322.7 944.9C1323 944.9 1324 945 1324.7 945.1C1325.4 945.2 1326 945.3 1326.7 945.5C1327.4 945.8 1328 946 1328.7 946.3C1329.4 946.7 1330 947 1330.7 947.5C1331.4 947.9 1332 948.4 1332.7 948.9C1333.4 949.4 1334 950 1334.7 950.7C1335.4 951.3 1336 952 1336.7 952.7C1337.4 953.4 1338 954.2 1338.7 955.1C1339.4 955.9 1340 956.8 1340.7 957.7C1341.4 958.6 1342 959.6 1342.7 960.6C1343.4 961.7 1344 962.7 1344.7 963.8C1345.4 964.9 1346 966.1 1346.7 967.3C1347.4 968.5 1348 969.7 1348.7 971C1349.4 972.3 1350 973.6 1350.7 975C1351.4 976.4 1352 977.8 1352.7 979.2C1353.4 980.6 1354 982.1 1354.7 983.6C1355.4 985.1 1356 986.7 1356.7 988.3C1357.4 989.8 1358 991.5 1358.7 993.1C1359.4 994.7 1360 996.4 1360.7 998.1C1361.4 999.8 1362 1001.6 1362.7 1003.3C1363.4 1005.1 1364 1006.9 1364.7 1008.7C1365.4 1010.5 1366 1012.3 1366.7 1014.1C1367.4 1016 1368 1017.9 1368.7 1019.8C1369.4 1021.7 1370 1023.6 1370.7 1025.5C1371.4 1027.4 1372 1029.4 1372.7 1031.3C1373.4 1033.3 1374 1035.3 1374.7 1037.2C1375.4 1039.2 1376 1041.2 1376.7 1043.2C1377.4 1045.2 1378 1047.3 1378.7 1049.3C1379.4 1051.3 1380 1053.3 1380.7 1055.4C1381.4 1057.4 1382 1059.5 1382.7 1061.5C1383.4 1063.5 1384 1065.6 1384.7 1067.6C1385.4 1069.7 1386 1071.7 1386.7 1073.8C1387.4 1075.8 1388 1077.9 1388.7 1079.9C1389.4 1082 1390 1084 1390.7 1086.1C1391.4 1088.1 1392 1090.1 1392.7 1092.2C1393.4 1094.2 1394 1096.2 1394.7 1098.2C1395.4 1100.2 1396 1102.2 1396.7 1104.2C1397.4 1106.2 1398 1108.2 1398.7 1110.1C1399.4 1112.1 1400 1114.1 1400.7 1116C1401.4 1117.9 1402 1119.9 1402.7 1121.8C1403.4 1123.7 1404 1125.6 1404.7 1127.5C1405.4 1129.4 1406 1131.2 1406.7 1133.1C1407.4 1134.9 1408 1136.8 1408.7 1138.6C1409.4 1140.4 1410 1142.2 1410.7 1144C1411.4 1145.7 1412 1147.5 1412.7 1149.2C1413.4 1151 1414 1152.7 1414.7 1154.4C1415.4 1156.1 1416 1157.7 1416.7 1159.4C1417.4 1161 1418 1162.7 1418.7 1164.3C1419.4 1165.9 1420 1167.5 1420.7 1169C1421.4 1170.6 1422 1172.1 1422.7 1173.6C1423.4 1175.2 1424 1176.7 1424.7 1178.1C1425.4 1179.6 1426 1181 1426.7 1182.5C1427.4 1183.9 1428 1185.3 1428.7 1186.7C1429.4 1188 1430 1189.4 1430.7 1190.7C1431.4 1192 1432 1193.3 1432.7 1194.6C1433.4 1195.9 1434 1197.2 1434.7 1198.4C1435.4 1199.6 1436 1200.8 1436.7 1202C1437.4 1203.2 1438 1204.3 1438.7 1205.5C1439.4 1206.6 1440 1207.7 1440.7 1208.8C1441.4 1209.9 1442 1211 1442.7 1212C1443.4 1213 1444 1214.1 1444.7 1215.1C1445.4 1216.1 1446 1217 1446.7 1218C1447.4 1218.9 1448 1219.9 1448.7 1220.8C1449.4 1221.7 1450 1222.5 1450.7 1223.4C1451.4 1224.3 1452 1225.1 1452.7 1225.9C1453.4 1226.7 1454 1227.5 1454.7 1228.3C1455.4 1229.1 1456 1229.8 1456.7 1230.6C1457.4 1231.3 1458 1232 1458.7 1232.7C1459.4 1233.4 1460 1234.1 1460.7 1234.7C1461.4 1235.4 1462 1236 1462.7 1236.6C1463.4 1237.3 1464 1237.9 1464.7 1238.4C1465.4 1239 1466 1239.6 1466.7 1240.1C1467.4 1240.6 1468 1241.1 1468.7 1241.6C1469.4 1242.1 1470 1242.6 1470.7 1243.1C1471.4 1243.5 1472 1244 1472.7 1244.4C1473.4 1244.8 1474 1245.2 1474.7 1245.6C1475.4 1246 1476 1246.4 1476.7 1246.7C1477.4 1247 1478 1247.4 1478.7 1247.7C1479.4 1248 1480 1248.3 1480.7 1248.5C1481.4 1248.8 1482 1249 1482.7 1249.2C1483.4 1249.5 1484 1249.7 1484.7 1249.8C1485.4 1250 1486 1250.2 1486.7 1250.3C1487.4 1250.4 1488 1250.5 1488.7 1250.6C1489.4 1250.7 1490 1250.8 1490.7 1250.8C1491.4 1250.8 1492 1250.8 1492.7 1250.8C1493.4 1250.8 1494 1250.7 1494.7 1250.7C1495.4 1250.6 1496 1250.5 1496.7 1250.3C1497.4 1250.2 1498 1250 1498.7 1249.8C1499.4 1249.6 1500 1249.4 1500.7 1249.1C1501.4 1248.8 1502 1248.5 1502.7 1248.1C1503.4 1247.8 1504 1247.4 1504.7 1246.9C1505.4 1246.5 1506 1246 1506.7 1245.5C1507.4 1245 1508 1244.4 1508.7 1243.8C1509.4 1243.2 1510 1242.5 1510.7 1241.8C1511.4 1241.1 1512 1240.3 1512.7 1239.5C1513.4 1238.7 1514 1237.8 1514.7 1236.9C1515.4 1236 1516 1235 1516.7 1234C1517.4 1233 1518 1231.9 1518.7 1230.8C1519.4 1229.7 1520 1228.6 1520.7 1227.4C1521.4 1226.2 1522 1225 1522.7 1223.7C1523.4 1222.5 1524 1221.2 1524.7 1219.9C1525.4 1218.6 1526 1217.3 1526.7 1215.9C1527.4 1214.6 1528 1213.2 1528.7 1211.9C1529.4 1210.5 1530 1209.1 1530.7 1207.7C1531.4 1206.4 1532 1205 1532.7 1203.6C1533.4 1202.2 1534 1200.8 1534.7 1199.4C1535.4 1198.1 1536 1196.7 1536.7 1195.3C1537.4 1194 1538 1192.6 1538.7 1191.3C1539.4 1189.9 1540 1188.6 1540.7 1187.3C1541.4 1185.9 1542 1184.6 1542.7 1183.3C1543.4 1182 1544 1180.7 1544.7 1179.5C1545.4 1178.2 1546 1177 1546.7 1175.7C1547.4 1174.5 1548 1173.3 1548.7 1172.2C1549.4 1171 1550 1169.9 1550.7 1168.8C1551.4 1167.7 1552 1166.6 1552.7 1165.6C1553.4 1164.6 1554 1163.7 1554.7 1162.8C1555.4 1161.9 1556 1161 1556.7 1160.2C1557.4 1159.5 1558 1158.7 1558.7 1158.1C1559.4 1157.4 1560 1156.8 1560.7 1156.3C1561.4 1155.8 1562 1155.4 1562.7 1155C1563.4 1154.7 1564 1154.4 1564.7 1154.2C1565.4 1154 1566 1153.8 1566.7 1153.8C1567.4 1153.8 1568 1153.8 1568.7 1153.9C1569.4 1154 1570 1154.2 1570.7 1154.5C1571.4 1154.8 1572 1155.1 1572.7 1155.6C1573.4 1156 1574 1156.5 1574.7 1157.1C1575.4 1157.6 1576 1158.3 1576.7 1159C1577.4 1159.7 1578 1160.5 1578.7 1161.3C1579.4 1162.2 1580 1163.1 1580.7 1164C1581.4 1165 1582 1166 1582.7 1167.1C1583.4 1168.1 1584 1169.2 1584.7 1170.4C1585.4 1171.5 1586 1172.7 1586.7 1173.9C1587.4 1175.1 1588 1176.4 1588.7 1177.6C1589.4 1178.9 1590 1180.2 1590.7 1181.5C1591.4 1182.8 1592 1184.1 1592.7 1185.4C1593.4 1186.8 1594 1188.1 1594.7 1189.5C1595.4 1190.8 1596 1192.1 1596.7 1193.5C1597.4 1194.8 1598 1196.1 1598.7 1197.4C1599.4 1198.8 1600 1200.1 1600.7 1201.3C1601.4 1202.6 1602 1203.9 1602.7 1205.1C1603.4 1206.4 1604 1207.6 1604.7 1208.8C1605.4 1210 1606 1211.1 1606.7 1212.3C1607.4 1213.4 1608 1214.5 1608.7 1215.6C1609.4 1216.6 1610 1217.7 1610.7 1218.7C1611.4 1219.7 1612 1220.6 1612.7 1221.5C1613.4 1222.4 1614 1223.3 1614.7 1224.2C1615.4 1225 1616 1225.8 1616.7 1226.5C1617.4 1227.3 1618 1228 1618.7 1228.7C1619.4 1229.3 1620 1230 1620.7 1230.6C1621.4 1231.1 1622 1231.7 1622.7 1232.2C1623.4 1232.7 1624 1233.1 1624.7 1233.6C1625.4 1234 1626 1234.3 1626.7 1234.7C1627.4 1235 1628 1235.3 1628.7 1235.6C1629.4 1235.8 1630 1236 1630.7 1236.2C1631.4 1236.3 1632 1236.5 1632.7 1236.6C1633.4 1236.7 1634 1236.7 1634.7 1236.7C1635.4 1236.7 1636 1236.7 1636.7 1236.7C1637.4 1236.6 1638 1236.5 1638.7 1236.4C1639.4 1236.3 1640 1236.1 1640.7 1235.9C1641.4 1235.7 1642 1235.5 1642.7 1235.3C1643.4 1235 1644 1234.7 1644.7 1234.4C1645.4 1234.1 1646 1233.8 1646.7 1233.4C1647.4 1233 1648 1232.7 1648.7 1232.3C1649.4 1231.9 1650 1231.4 1650.7 1231C1651.4 1230.5 1652 1230.1 1652.7 1229.6C1653.4 1229.1 1654 1228.6 1654.7 1228.1C1655.4 1227.6 1656 1227.1 1656.7 1226.6C1657.4 1226 1658 1225.5 1658.7 1225C1659.4 1224.4 1660 1223.9 1660.7 1223.3C1661.4 1222.8 1662 1222.2 1662.7 1221.7C1663.4 1221.1 1664 1220.6 1664.7 1220C1665.4 1219.5 1666 1219 1666.7 1218.4C1667.4 1217.9 1668 1217.4 1668.7 1216.9C1669.4 1216.4 1670 1215.9 1670.7 1215.4C1671.4 1214.9 1672 1214.5 1672.7 1214C1673.4 1213.6 1674 1213.1 1674.7 1212.7C1675.4 1212.3 1676 1211.9 1676.7 1211.6C1677.4 1211.2 1678 1210.9 1678.7 1210.6C1679.4 1210.3 1680 1210 1680.7 1209.7C1681.4 1209.4 1682 1209.2 1682.7 1209C1683.4 1208.8 1684 1208.6 1684.7 1208.5C1685.4 1208.3 1686 1208.2 1686.7 1208.1C1687.4 1208.1 1688 1208 1688.7 1208C1689.4 1208 1690 1208 1690.7 1208C1691.4 1208 1692 1208.1 1692.7 1208.2C1693.4 1208.3 1694 1208.5 1694.7 1208.6C1695.4 1208.8 1696 1209 1696.7 1209.2C1697.4 1209.4 1698.4 1209.9 1698.7 1210" stroke="#800000"/>
<path d="M1322.7 944.9C1323 944.9 1324 944.9 1324.7 945C1325.4 945.1 1326 945.2 1326.7 945.3C1327.4 945.5 1328 945.7 1328.7 945.9C1329.4 946.1 1330 946.4 1330.7 946.7C1331.4 947 1332 947.3 1332.7 947.7C1333.4 948 1334 948.4 1334.7 948.9C1335.4 949.3 1336 949.8 1336.7 950.3C1337.4 950.8 1338 951.4 1338.7 952C1339.4 952.5 1340 953.2 1340.7 953.8C1341.4 954.5 1342 955.1 1342.7 955.9C1343.4 956.6 1344 957.3 1344.7 958.1C1345.4 958.9 1346 959.7 1346.7 960.6C1347.4 961.4 1348 962.3 1348.7 963.2C1349.4 964.1 1350 965.1 1350.7 966C1351.4 967 1352 968 1352.7 969C1353.4 970.1 1354 971.1 1354.7 972.2C1355.4 973.3 1356 974.4 1356.7 975.6C1357.4 976.7 1358 977.9 1358.7 979.1C1359.4 980.3 1360 981.5 1360.7 982.7C1361.4 984 1362 985.2 1362.7 986.5C1363.4 987.8 1364 989.1 1364.7 990.5C1365.4 991.8 1366 993.2 1366.7 994.6C1367.4 995.9 1368 997.3 1368.7 998.8C1369.4 1000.2 1370 1001.6 1370.7 1003.1C1371.4 1004.5 1372 1006 1372.7 1007.5C1373.4 1009 1374 1010.5 1374.7 1012C1375.4 1013.6 1376 1015.1 1376.7 1016.7C1377.4 1018.2 1378 1019.8 1378.7 1021.4C1379.4 1022.9 1380 1024.5 1380.7 1026.1C1381.4 1027.7 1382 1029.4 1382.7 1031C1383.4 1032.6 1384 1034.3 1384.7 1035.9C1385.4 1037.6 1386 1039.2 1386.7 1040.9C1387.4 1042.5 1388 1044.2 1388.7 1045.9C1389.4 1047.6 1390 1049.2 1390.7 1050.9C1391.4 1052.6 1392 1054.3 1392.7 1056C1393.4 1057.7 1394 1059.4 1394.7 1061.1C1395.4 1062.8 1396 1064.5 1396.7 1066.2C1397.4 1067.9 1398 1069.6 1398.7 1071.3C1399.4 1073 1400 1074.7 1400.7 1076.4C1401.4 1078.1 1402 1079.8 1402.7 1081.5C1403.4 1083.2 1404 1084.9 1404.7 1086.6C1405.4 1088.3 1406 1090 1406.7 1091.7C1407.4 1093.4 1408 1095 1408.7 1096.7C1409.4 1098.4 1410 1100.1 1410.7 1101.7C1411.4 1103.4 1412 1105 1412.7 1106.7C1413.4 1108.3 1414 1110 1414.7 1111.6C1415.4 1113.2 1416 1114.8 1416.7 1116.5C1417.4 1118.1 1418 1119.7 1418.7 1121.3C1419.4 1122.9 1420 1124.4 1420.7 1126C1421.4 1127.6 1422 1129.1 1422.7 1130.7C1423.4 1132.2 1424 1133.8 1424.7 1135.3C1425.4 1136.8 1426 1138.3 1426.7 1139.8C1427.4 1141.3 1428 1142.8 1428.7 1144.3C1429.4 1145.8 1430 1147.2 1430.7 1148.7C1431.4 1150.1 1432 1151.6 1432.7 1153C1433.4 1154.4 1434 1155.8 1434.7 1157.2C1435.4 1158.6 1436 1160 1436.7 1161.3C1437.4 1162.7 1438 1164 1438.7 1165.3C1439.4 1166.7 1440 1168 1440.7 1169.3C1441.4 1170.6 1442 1171.9 1442.7 1173.1C1443.4 1174.4 1444 1175.6 1444.7 1176.9C1445.4 1178.1 1446 1179.3 1446.7 1180.5C1447.4 1181.7 1448 1182.9 1448.7 1184.1C1449.4 1185.2 1450 1186.4 1450.7 1187.5C1451.4 1188.6 1452 1189.7 1452.7 1190.8C1453.4 1191.9 1454 1193 1454.7 1194.1C1455.4 1195.1 1456 1196.2 1456.7 1197.2C1457.4 1198.2 1458 1199.2 1458.7 1200.2C1459.4 1201.2 1460 1202.2 1460.7 1203.2C1461.4 1204.1 1462 1205.1 1462.7 1206C1463.4 1206.9 1464 1207.8 1464.7 1208.7C1465.4 1209.6 1466 1210.4 1466.7 1211.3C1467.4 1212.1 1468 1212.9 1468.7 1213.8C1469.4 1214.6 1470 1215.4 1470.7 1216.1C1471.4 1216.9 1472 1217.7 1472.7 1218.4C1473.4 1219.1 1474 1219.8 1474.7 1220.5C1475.4 1221.2 1476 1221.9 1476.7 1222.5C1477.4 1223.2 1478 1223.8 1478.7 1224.4C1479.4 1225 1480 1225.6 1480.7 1226.2C1481.4 1226.7 1482 1227.3 1482.7 1227.8C1483.4 1228.3 1484 1228.8 1484.7 1229.3C1485.4 1229.7 1486 1230.2 1486.7 1230.6C1487.4 1231 1488 1231.4 1488.7 1231.8C1489.4 1232.1 1490 1232.5 1490.7 1232.8C1491.4 1233.1 1492 1233.4 1492.7 1233.6C1493.4 1233.9 1494 1234.1 1494.7 1234.3C1495.4 1234.4 1496 1234.6 1496.7 1234.7C1497.4 1234.8 1498 1234.9 1498.7 1234.9C1499.4 1235 1500 1235 1500.7 1234.9C1501.4 1234.9 1502 1234.8 1502.7 1234.7C1503.4 1234.6 1504 1234.4 1504.7 1234.2C1505.4 1234 1506 1233.7 1506.7 1233.4C1507.4 1233.1 1508 1232.8 1508.7 1232.3C1509.4 1231.9 1510 1231.5 1510.7 1231C1511.4 1230.5 1512 1229.9 1512.7 1229.3C1513.4 1228.6 1514 1228 1514.7 1227.2C1515.4 1226.5 1516 1225.7 1516.7 1224.9C1517.4 1224.1 1518 1223.2 1518.7 1222.2C1519.4 1221.3 1520 1220.3 1520.7 1219.3C1521.4 1218.3 1522 1217.2 1522.7 1216.1C1523.4 1215.1 1524 1213.9 1524.7 1212.8C1525.4 1211.6 1526 1210.4 1526.7 1209.2C1527.4 1208 1528 1206.8 1528.7 1205.6C1529.4 1204.3 1530 1203.1 1530.7 1201.8C1531.4 1200.6 1532 1199.3 1532.7 1198.1C1533.4 1196.8 1534 1195.5 1534.7 1194.3C1535.4 1193 1536 1191.8 1536.7 1190.5C1537.4 1189.3 1538 1188 1538.7 1186.8C1539.4 1185.5 1540 1184.3 1540.7 1183.1C1541.4 1181.8 1542 1180.6 1542.7 1179.4C1543.4 1178.2 1544 1177 1544.7 1175.8C1545.4 1174.6 1546 1173.5 1546.7 1172.3C1547.4 1171.2 1548 1170.1 1548.7 1169C1549.4 1167.9 1550 1166.9 1550.7 1165.9C1551.4 1164.8 1552 1163.9 1552.7 1162.9C1553.4 1162 1554 1161.1 1554.7 1160.3C1555.4 1159.4 1556 1158.6 1556.7 1157.9C1557.4 1157.2 1558 1156.5 1558.7 1155.9C1559.4 1155.3 1560 1154.8 1560.7 1154.3C1561.4 1153.9 1562 1153.5 1562.7 1153.2C1563.4 1152.9 1564 1152.6 1564.7 1152.5C1565.4 1152.3 1566 1152.2 1566.7 1152.2C1567.4 1152.2 1568 1152.3 1568.7 1152.5C1569.4 1152.6 1570 1152.9 1570.7 1153.2C1571.4 1153.5 1572 1153.9 1572.7 1154.3C1573.4 1154.8 1574 1155.3 1574.7 1155.9C1575.4 1156.5 1576 1157.2 1576.7 1158C1577.4 1158.7 1578 1159.5 1578.7 1160.4C1579.4 1161.3 1580 1162.2 1580.7 1163.2C1581.4 1164.1 1582 1165.2 1582.7 1166.3C1583.4 1167.3 1584 1168.5 1584.7 1169.6C1585.4 1170.8 1586 1172 1586.7 1173.2C1587.4 1174.5 1588 1175.7 1588.7 1177C1589.4 1178.3 1590 1179.6 1590.7 1180.9C1591.4 1182.2 1592 1183.6 1592.7 1184.9C1593.4 1186.3 1594 1187.6 1594.7 1189C1595.4 1190.3 1596 1191.7 1596.7 1193C1597.4 1194.4 1598 1195.7 1598.7 1197.1C1599.4 1198.4 1600 1199.7 1600.7 1201C1601.4 1202.3 1602 1203.6 1602.7 1204.8C1603.4 1206.1 1604 1207.3 1604.7 1208.5C1605.4 1209.7 1606 1210.9 1606.7 1212C1607.4 1213.2 1608 1214.3 1608.7 1215.3C1609.4 1216.4 1610 1217.4 1610.7 1218.4C1611.4 1219.4 1612 1220.4 1612.7 1221.3C1613.4 1222.3 1614 1223.1 1614.7 1224C1615.4 1224.8 1616 1225.6 1616.7 1226.4C1617.4 1227.1 1618 1227.9 1618.7 1228.5C1619.4 1229.2 1620 1229.8 1620.7 1230.4C1621.4 1231 1622 1231.6 1622.7 1232.1C1623.4 1232.6 1624 1233 1624.7 1233.5C1625.4 1233.9 1626 1234.3 1626.7 1234.6C1627.4 1234.9 1628 1235.2 1628.7 1235.5C1629.4 1235.7 1630 1235.9 1630.7 1236.1C1631.4 1236.3 1632 1236.4 1632.7 1236.5C1633.4 1236.6 1634 1236.6 1634.7 1236.7C1635.4 1236.7 1636 1236.7 1636.7 1236.6C1637.4 1236.6 1638 1236.5 1638.7 1236.3C1639.4 1236.2 1640 1236.1 1640.7 1235.9C1641.4 1235.7 1642 1235.5 1642.7 1235.2C1643.4 1235 1644 1234.7 1644.7 1234.4C1645.4 1234.1 1646 1233.7 1646.7 1233.4C1647.4 1233 1648 1232.6 1648.7 1232.2C1649.4 1231.8 1650 1231.4 1650.7 1231C1651.4 1230.5 1652 1230 1652.7 1229.6C1653.4 1229.1 1654 1228.6 1654.7 1228.1C1655.4 1227.6 1656 1227.1 1656.7 1226.5C1657.4 1226 1658 1225.5 1658.7 1224.9C1659.4 1224.4 1660 1223.9 1660.7 1223.3C1661.4 1222.8 1662 1222.2 1662.7 1221.7C1663.4 1221.1 1664 1220.6 1664.7 1220C1665.4 1219.5 1666 1219 1666.7 1218.4C1667.4 1217.9 1668 1217.4 1668.7 1216.9C1669.4 1216.4 1670 1215.9 1670.7 1215.4C1671.4 1214.9 1672 1214.5 1672.7 1214C1673.4 1213.6 1674 1213.1 1674.7 1212.7C1675.4 1212.3 1676 1211.9 1676.7 1211.6C1677.4 1211.2 1678 1210.9 1678.7 1210.6C1679.4 1210.2 1680 1210 1680.7 1209.7C1681.4 1209.4 1682 1209.2 1682.7 1209C1683.4 1208.8 1684 1208.6 1684.7 1208.5C1685.4 1208.3 1686 1208.2 1686.7 1208.1C1687.4 1208 1688 1208 1688.7 1208C1689.4 1208 1690 1208 1690.7 1208C1691.4 1208 1692 1208.1 1692.7 1208.2C1693.4 1208.3 1694 1208.5 1694.7 1208.6C1695.4 1208.8 1696 1209 1696.7 1209.2C1697.4 1209.4 1698.4 1209.9 1698.7 1210" stroke="#0061A5"/>
<path d="M1322.7 944.9C1323 944.9 1324 944.9 1324.7 945C1325.4 945 1326 945.1 1326.7 945.2C1327.4 945.3 1328 945.5 1328.7 945.7C1329.4 945.8 1330 946 1330.7 946.2C1331.4 946.5 1332 946.7 1332.7 947C1333.4 947.3 1334 947.6 1334.7 947.9C1335.4 948.2 1336 948.6 1336.7 949C1337.4 949.4 1338 949.8 1338.7 950.2C1339.4 950.7 1340 951.1 1340.7 951.6C1341.4 952.1 1342 952.7 1342.7 953.2C1343.4 953.7 1344 954.3 1344.7 954.9C1345.4 955.5 1346 956.1 1346.7 956.8C1347.4 957.4 1348 958.1 1348.7 958.8C1349.4 959.5 1350 960.2 1350.7 961C1351.4 961.7 1352 962.5 1352.7 963.3C1353.4 964.1 1354 964.9 1354.7 965.7C1355.4 966.6 1356 967.4 1356.7 968.3C1357.4 969.2 1358 970.1 1358.7 971C1359.4 971.9 1360 972.9 1360.7 973.9C1361.4 974.8 1362 975.8 1362.7 976.8C1363.4 977.8 1364 978.9 1364.7 979.9C1365.4 980.9 1366 982 1366.7 983.1C1367.4 984.2 1368 985.3 1368.7 986.4C1369.4 987.5 1370 988.7 1370.7 989.8C1371.4 991 1372 992.2 1372.7 993.3C1373.4 994.5 1374 995.7 1374.7 997C1375.4 998.2 1376 999.4 1376.7 1000.7C1377.4 1001.9 1378 1003.2 1378.7 1004.4C1379.4 1005.7 1380 1007 1380.7 1008.3C1381.4 1009.6 1382 1010.9 1382.7 1012.3C1383.4 1013.6 1384 1014.9 1384.7 1016.3C1385.4 1017.6 1386 1019 1386.7 1020.3C1387.4 1021.7 1388 1023.1 1388.7 1024.5C1389.4 1025.9 1390 1027.3 1390.7 1028.7C1391.4 1030.1 1392 1031.5 1392.7 1032.9C1393.4 1034.3 1394 1035.8 1394.7 1037.2C1395.4 1038.6 1396 1040.1 1396.7 1041.5C1397.4 1042.9 1398 1044.4 1398.7 1045.9C1399.4 1047.3 1400 1048.8 1400.7 1050.2C1401.4 1051.7 1402 1053.2 1402.7 1054.6C1403.4 1056.1 1404 1057.6 1404.7 1059.1C1405.4 1060.5 1406 1062 1406.7 1063.5C1407.4 1065 1408 1066.4 1408.7 1067.9C1409.4 1069.4 1410 1070.9 1410.7 1072.4C1411.4 1073.8 1412 1075.3 1412.7 1076.8C1413.4 1078.3 1414 1079.7 1414.7 1081.2C1415.4 1082.7 1416 1084.2 1416.7 1085.6C1417.4 1087.1 1418 1088.6 1418.7 1090C1419.4 1091.5 1420 1093 1420.7 1094.4C1421.4 1095.9 1422 1097.3 1422.7 1098.8C1423.4 1100.2 1424 1101.7 1424.7 1103.1C1425.4 1104.6 1426 1106 1426.7 1107.4C1427.4 1108.8 1428 1110.3 1428.7 1111.7C1429.4 1113.1 1430 1114.5 1430.7 1115.9C1431.4 1117.3 1432 1118.7 1432.7 1120.1C1433.4 1121.5 1434 1122.9 1434.7 1124.2C1435.4 1125.6 1436 1127 1436.7 1128.3C1437.4 1129.7 1438 1131 1438.7 1132.4C1439.4 1133.7 1440 1135 1440.7 1136.3C1441.4 1137.7 1442 1139 1442.7 1140.3C1443.4 1141.6 1444 1142.9 1444.7 1144.1C1445.4 1145.4 1446 1146.7 1446.7 1147.9C1447.4 1149.2 1448 1150.5 1448.7 1151.7C1449.4 1152.9 1450 1154.1 1450.7 1155.4C1451.4 1156.6 1452 1157.8 1452.7 1159C1453.4 1160.2 1454 1161.3 1454.7 1162.5C1455.4 1163.7 1456 1164.8 1456.7 1166C1457.4 1167.1 1458 1168.2 1458.7 1169.3C1459.4 1170.5 1460 1171.6 1460.7 1172.6C1461.4 1173.7 1462 1174.8 1462.7 1175.9C1463.4 1176.9 1464 1178 1464.7 1179C1465.4 1180 1466 1181.1 1466.7 1182.1C1467.4 1183.1 1468 1184.1 1468.7 1185C1469.4 1186 1470 1187 1470.7 1187.9C1471.4 1188.8 1472 1189.8 1472.7 1190.7C1473.4 1191.6 1474 1192.5 1474.7 1193.3C1475.4 1194.2 1476 1195.1 1476.7 1195.9C1477.4 1196.7 1478 1197.5 1478.7 1198.3C1479.4 1199.1 1480 1199.9 1480.7 1200.7C1481.4 1201.4 1482 1202.2 1482.7 1202.9C1483.4 1203.6 1484 1204.3 1484.7 1204.9C1485.4 1205.6 1486 1206.2 1486.7 1206.9C1487.4 1207.5 1488 1208.1 1488.7 1208.6C1489.4 1209.2 1490 1209.7 1490.7 1210.2C1491.4 1210.8 1492 1211.2 1492.7 1211.7C1493.4 1212.1 1494 1212.6 1494.7 1212.9C1495.4 1213.3 1496 1213.7 1496.7 1214C1497.4 1214.3 1498 1214.6 1498.7 1214.8C1499.4 1215.1 1500 1215.3 1500.7 1215.5C1501.4 1215.6 1502 1215.7 1502.7 1215.8C1503.4 1215.9 1504 1215.9 1504.7 1215.9C1505.4 1215.9 1506 1215.9 1506.7 1215.8C1507.4 1215.6 1508 1215.5 1508.7 1215.3C1509.4 1215.1 1510 1214.8 1510.7 1214.5C1511.4 1214.2 1512 1213.8 1512.7 1213.4C1513.4 1212.9 1514 1212.4 1514.7 1211.9C1515.4 1211.4 1516 1210.8 1516.7 1210.1C1517.4 1209.5 1518 1208.8 1518.7 1208C1519.4 1207.3 1520 1206.5 1520.7 1205.6C1521.4 1204.8 1522 1203.9 1522.7 1203C1523.4 1202.1 1524 1201.1 1524.7 1200.1C1525.4 1199.2 1526 1198.1 1526.7 1197.1C1527.4 1196.1 1528 1195 1528.7 1194C1529.4 1192.9 1530 1191.8 1530.7 1190.7C1531.4 1189.6 1532 1188.5 1532.7 1187.4C1533.4 1186.3 1534 1185.2 1534.7 1184.1C1535.4 1183 1536 1181.9 1536.7 1180.8C1537.4 1179.7 1538 1178.6 1538.7 1177.5C1539.4 1176.4 1540 1175.3 1540.7 1174.2C1541.4 1173.1 1542 1172 1542.7 1170.9C1543.4 1169.9 1544 1168.8 1544.7 1167.8C1545.4 1166.7 1546 1165.7 1546.7 1164.7C1547.4 1163.7 1548 1162.7 1548.7 1161.7C1549.4 1160.7 1550 1159.8 1550.7 1158.9C1551.4 1158 1552 1157.1 1552.7 1156.3C1553.4 1155.5 1554 1154.7 1554.7 1154C1555.4 1153.3 1556 1152.6 1556.7 1152C1557.4 1151.3 1558 1150.8 1558.7 1150.3C1559.4 1149.8 1560 1149.4 1560.7 1149C1561.4 1148.6 1562 1148.3 1562.7 1148.1C1563.4 1147.9 1564 1147.8 1564.7 1147.7C1565.4 1147.6 1566 1147.6 1566.7 1147.7C1567.4 1147.8 1568 1147.9 1568.7 1148.2C1569.4 1148.4 1570 1148.7 1570.7 1149.1C1571.4 1149.5 1572 1150 1572.7 1150.5C1573.4 1151 1574 1151.7 1574.7 1152.3C1575.4 1153 1576 1153.8 1576.7 1154.6C1577.4 1155.4 1578 1156.3 1578.7 1157.2C1579.4 1158.1 1580 1159.1 1580.7 1160.2C1581.4 1161.2 1582 1162.3 1582.7 1163.4C1583.4 1164.6 1584 1165.8 1584.7 1167C1585.4 1168.2 1586 1169.4 1586.7 1170.7C1587.4 1172 1588 1173.3 1588.7 1174.7C1589.4 1176 1590 1177.4 1590.7 1178.7C1591.4 1180.1 1592 1181.5 1592.7 1182.9C1593.4 1184.3 1594 1185.7 1594.7 1187.1C1595.4 1188.5 1596 1189.9 1596.7 1191.2C1597.4 1192.6 1598 1194 1598.7 1195.4C1599.4 1196.7 1600 1198.1 1600.7 1199.4C1601.4 1200.7 1602 1202.1 1602.7 1203.3C1603.4 1204.6 1604 1205.9 1604.7 1207.1C1605.4 1208.4 1606 1209.6 1606.7 1210.7C1607.4 1211.9 1608 1213 1608.7 1214.1C1609.4 1215.2 1610 1216.3 1610.7 1217.3C1611.4 1218.4 1612 1219.3 1612.7 1220.3C1613.4 1221.2 1614 1222.2 1614.7 1223C1615.4 1223.9 1616 1224.7 1616.7 1225.5C1617.4 1226.3 1618 1227 1618.7 1227.7C1619.4 1228.4 1620 1229 1620.7 1229.7C1621.4 1230.3 1622 1230.8 1622.7 1231.4C1623.4 1231.9 1624 1232.4 1624.7 1232.8C1625.4 1233.2 1626 1233.6 1626.7 1234C1627.4 1234.3 1628 1234.6 1628.7 1234.9C1629.4 1235.2 1630 1235.4 1630.7 1235.6C1631.4 1235.8 1632 1235.9 1632.7 1236C1633.4 1236.1 1634 1236.2 1634.7 1236.2C1635.4 1236.2 1636 1236.2 1636.7 1236.2C1637.4 1236.1 1638 1236.1 1638.7 1236C1639.4 1235.8 1640 1235.7 1640.7 1235.5C1641.4 1235.3 1642 1235.1 1642.7 1234.9C1643.4 1234.6 1644 1234.4 1644.7 1234.1C1645.4 1233.8 1646 1233.4 1646.7 1233.1C1647.4 1232.7 1648 1232.4 1648.7 1232C1649.4 1231.6 1650 1231.2 1650.7 1230.7C1651.4 1230.3 1652 1229.8 1652.7 1229.4C1653.4 1228.9 1654 1228.4 1654.7 1227.9C1655.4 1227.4 1656 1226.9 1656.7 1226.4C1657.4 1225.8 1658 1225.3 1658.7 1224.8C1659.4 1224.2 1660 1223.7 1660.7 1223.2C1661.4 1222.6 1662 1222.1 1662.7 1221.5C1663.4 1221 1664 1220.4 1664.7 1219.9C1665.4 1219.4 1666 1218.8 1666.7 1218.3C1667.4 1217.8 1668 1217.3 1668.7 1216.8C1669.4 1216.3 1670 1215.8 1670.7 1215.3C1671.4 1214.8 1672 1214.4 1672.7 1213.9C1673.4 1213.5 1674 1213.1 1674.7 1212.6C1675.4 1212.2 1676 1211.9 1676.7 1211.5C1677.4 1211.1 1678 1210.8 1678.7 1210.5C1679.4 1210.2 1680 1209.9 1680.7 1209.6C1681.4 1209.4 1682 1209.1 1682.7 1208.9C1683.4 1208.7 1684 1208.6 1684.7 1208.4C1685.4 1208.3 1686 1208.2 1686.7 1208.1C1687.4 1208 1688 1208 1688.7 1207.9C1689.4 1207.9 1690 1207.9 1690.7 1208C1691.4 1208 1692 1208.1 1692.7 1208.2C1693.4 1208.3 1694.4 1208.5 1694.7 1208.6" stroke="#B5670D"/>
<path d="M1322.7 944.9C1323 944.9 1324 944.9 1324.7 945C1325.4 945 1326 945.1 1326.7 945.2C1327.4 945.2 1328 945.4 1328.7 945.5C1329.4 945.6 1330 945.8 1330.7 945.9C1331.4 946.1 1332 946.3 1332.7 946.5C1333.4 946.7 1334 947 1334.7 947.2C1335.4 947.5 1336 947.8 1336.7 948.1C1337.4 948.4 1338 948.7 1338.7 949C1339.4 949.4 1340 949.7 1340.7 950.1C1341.4 950.5 1342 950.9 1342.7 951.3C1343.4 951.8 1344 952.2 1344.7 952.7C1345.4 953.1 1346 953.6 1346.7 954.1C1347.4 954.6 1348 955.2 1348.7 955.7C1349.4 956.3 1350 956.8 1350.7 957.4C1351.4 958 1352 958.6 1352.7 959.2C1353.4 959.8 1354 960.5 1354.7 961.1C1355.4 961.8 1356 962.5 1356.7 963.2C1357.4 963.9 1358 964.6 1358.7 965.3C1359.4 966 1360 966.8 1360.7 967.6C1361.4 968.3 1362 969.1 1362.7 969.9C1363.4 970.7 1364 971.5 1364.7 972.3C1365.4 973.2 1366 974 1366.7 974.9C1367.4 975.8 1368 976.6 1368.7 977.5C1369.4 978.4 1370 979.3 1370.7 980.3C1371.4 981.2 1372 982.1 1372.7 983.1C1373.4 984 1374 985 1374.7 986C1375.4 987 1376 988 1376.7 989C1377.4 990 1378 991 1378.7 992C1379.4 993.1 1380 994.1 1380.7 995.2C1381.4 996.3 1382 997.3 1382.7 998.4C1383.4 999.5 1384 1000.6 1384.7 1001.7C1385.4 1002.8 1386 1003.9 1386.7 1005C1387.4 1006.2 1388 1007.3 1388.7 1008.4C1389.4 1009.6 1390 1010.7 1390.7 1011.9C1391.4 1013.1 1392 1014.3 1392.7 1015.4C1393.4 1016.6 1394 1017.8 1394.7 1019C1395.4 1020.2 1396 1021.4 1396.7 1022.6C1397.4 1023.8 1398 1025.1 1398.7 1026.3C1399.4 1027.5 1400 1028.8 1400.7 1030C1401.4 1031.2 1402 1032.5 1402.7 1033.7C1403.4 1035 1404 1036.2 1404.7 1037.5C1405.4 1038.8 1406 1040 1406.7 1041.3C1407.4 1042.6 1408 1043.8 1408.7 1045.1C1409.4 1046.4 1410 1047.7 1410.7 1049C1411.4 1050.3 1412 1051.5 1412.7 1052.8C1413.4 1054.1 1414 1055.4 1414.7 1056.7C1415.4 1058 1416 1059.3 1416.7 1060.6C1417.4 1061.9 1418 1063.2 1418.7 1064.5C1419.4 1065.8 1420 1067.1 1420.7 1068.4C1421.4 1069.7 1422 1071 1422.7 1072.3C1423.4 1073.6 1424 1074.9 1424.7 1076.2C1425.4 1077.5 1426 1078.8 1426.7 1080.1C1427.4 1081.4 1428 1082.7 1428.7 1084C1429.4 1085.3 1430 1086.6 1430.7 1087.9C1431.4 1089.2 1432 1090.5 1432.7 1091.8C1433.4 1093 1434 1094.3 1434.7 1095.6C1435.4 1096.9 1436 1098.2 1436.7 1099.4C1437.4 1100.7 1438 1102 1438.7 1103.2C1439.4 1104.5 1440 1105.8 1440.7 1107C1441.4 1108.3 1442 1109.5 1442.7 1110.8C1443.4 1112 1444 1113.3 1444.7 1114.5C1445.4 1115.7 1446 1117 1446.7 1118.2C1447.4 1119.4 1448 1120.6 1448.7 1121.8C1449.4 1123.1 1450 1124.3 1450.7 1125.5C1451.4 1126.7 1452 1127.9 1452.7 1129C1453.4 1130.2 1454 1131.4 1454.7 1132.6C1455.4 1133.7 1456 1134.9 1456.7 1136.1C1457.4 1137.2 1458 1138.4 1458.7 1139.5C1459.4 1140.6 1460 1141.8 1460.7 1142.9C1461.4 1144 1462 1145.1 1462.7 1146.2C1463.4 1147.3 1464 1148.4 1464.7 1149.5C1465.4 1150.6 1466 1151.6 1466.7 1152.7C1467.4 1153.7 1468 1154.8 1468.7 1155.8C1469.4 1156.9 1470 1157.9 1470.7 1158.9C1471.4 1159.9 1472 1160.9 1472.7 1161.9C1473.4 1162.9 1474 1163.9 1474.7 1164.8C1475.4 1165.8 1476 1166.7 1476.7 1167.6C1477.4 1168.6 1478 1169.5 1478.7 1170.4C1479.4 1171.3 1480 1172.1 1480.7 1173C1481.4 1173.9 1482 1174.7 1482.7 1175.5C1483.4 1176.3 1484 1177.2 1484.7 1177.9C1485.4 1178.7 1486 1179.5 1486.7 1180.2C1487.4 1181 1488 1181.7 1488.7 1182.4C1489.4 1183.1 1490 1183.7 1490.7 1184.4C1491.4 1185 1492 1185.6 1492.7 1186.2C1493.4 1186.8 1494 1187.3 1494.7 1187.9C1495.4 1188.4 1496 1188.9 1496.7 1189.3C1497.4 1189.8 1498 1190.2 1498.7 1190.6C1499.4 1191 1500 1191.4 1500.7 1191.7C1501.4 1192 1502 1192.3 1502.7 1192.5C1503.4 1192.7 1504 1192.9 1504.7 1193.1C1505.4 1193.2 1506 1193.3 1506.7 1193.4C1507.4 1193.4 1508 1193.4 1508.7 1193.3C1509.4 1193.3 1510 1193.2 1510.7 1193C1511.4 1192.9 1512 1192.6 1512.7 1192.4C1513.4 1192.1 1514 1191.8 1514.7 1191.4C1515.4 1191 1516 1190.6 1516.7 1190.1C1517.4 1189.6 1518 1189.1 1518.7 1188.5C1519.4 1187.9 1520 1187.3 1520.7 1186.6C1521.4 1185.9 1522 1185.2 1522.7 1184.5C1523.4 1183.7 1524 1182.9 1524.7 1182.1C1525.4 1181.3 1526 1180.4 1526.7 1179.5C1527.4 1178.7 1528 1177.8 1528.7 1176.9C1529.4 1176 1530 1175 1530.7 1174.1C1531.4 1173.2 1532 1172.2 1532.7 1171.3C1533.4 1170.3 1534 1169.4 1534.7 1168.4C1535.4 1167.5 1536 1166.5 1536.7 1165.6C1537.4 1164.6 1538 1163.7 1538.7 1162.7C1539.4 1161.8 1540 1160.8 1540.7 1159.9C1541.4 1159 1542 1158 1542.7 1157.1C1543.4 1156.2 1544 1155.3 1544.7 1154.4C1545.4 1153.5 1546 1152.6 1546.7 1151.7C1547.4 1150.9 1548 1150 1548.7 1149.2C1549.4 1148.4 1550 1147.6 1550.7 1146.8C1551.4 1146.1 1552 1145.3 1552.7 1144.7C1553.4 1144 1554 1143.3 1554.7 1142.7C1555.4 1142.1 1556 1141.6 1556.7 1141.1C1557.4 1140.6 1558 1140.2 1558.7 1139.8C1559.4 1139.5 1560 1139.2 1560.7 1138.9C1561.4 1138.7 1562 1138.5 1562.7 1138.4C1563.4 1138.3 1564 1138.3 1564.7 1138.4C1565.4 1138.4 1566 1138.5 1566.7 1138.7C1567.4 1138.9 1568 1139.2 1568.7 1139.6C1569.4 1139.9 1570 1140.4 1570.7 1140.9C1571.4 1141.4 1572 1141.9 1572.7 1142.6C1573.4 1143.2 1574 1143.9 1574.7 1144.7C1575.4 1145.5 1576 1146.4 1576.7 1147.3C1577.4 1148.2 1578 1149.2 1578.7 1150.2C1579.4 1151.2 1580 1152.3 1580.7 1153.5C1581.4 1154.6 1582 1155.8 1582.7 1157C1583.4 1158.3 1584 1159.5 1584.7 1160.8C1585.4 1162.2 1586 1163.5 1586.7 1164.9C1587.4 1166.2 1588 1167.7 1588.7 1169.1C1589.4 1170.5 1590 1171.9 1590.7 1173.4C1591.4 1174.8 1592 1176.3 1592.7 1177.8C1593.4 1179.2 1594 1180.7 1594.7 1182.2C1595.4 1183.7 1596 1185.1 1596.7 1186.6C1597.4 1188.1 1598 1189.5 1598.7 1191C1599.4 1192.4 1600 1193.8 1600.7 1195.2C1601.4 1196.6 1602 1198 1602.7 1199.3C1603.4 1200.7 1604 1202 1604.7 1203.3C1605.4 1204.6 1606 1205.9 1606.7 1207.1C1607.4 1208.3 1608 1209.5 1608.7 1210.7C1609.4 1211.9 1610 1213 1610.7 1214.1C1611.4 1215.1 1612 1216.2 1612.7 1217.2C1613.4 1218.2 1614 1219.2 1614.7 1220.1C1615.4 1221 1616 1221.9 1616.7 1222.7C1617.4 1223.5 1618 1224.3 1618.7 1225.1C1619.4 1225.8 1620 1226.5 1620.7 1227.1C1621.4 1227.8 1622 1228.4 1622.7 1229C1623.4 1229.5 1624 1230.1 1624.7 1230.5C1625.4 1231 1626 1231.5 1626.7 1231.8C1627.4 1232.2 1628 1232.6 1628.7 1232.9C1629.4 1233.2 1630 1233.5 1630.7 1233.7C1631.4 1233.9 1632 1234.1 1632.7 1234.2C1633.4 1234.4 1634 1234.5 1634.7 1234.5C1635.4 1234.6 1636 1234.6 1636.7 1234.6C1637.4 1234.6 1638 1234.5 1638.7 1234.4C1639.4 1234.4 1640 1234.2 1640.7 1234.1C1641.4 1233.9 1642 1233.8 1642.7 1233.5C1643.4 1233.3 1644 1233.1 1644.7 1232.8C1645.4 1232.5 1646 1232.2 1646.7 1231.9C1647.4 1231.6 1648 1231.2 1648.7 1230.9C1649.4 1230.5 1650 1230.1 1650.7 1229.7C1651.4 1229.3 1652 1228.8 1652.7 1228.4C1653.4 1227.9 1654 1227.5 1654.7 1227C1655.4 1226.5 1656 1226 1656.7 1225.5C1657.4 1225 1658 1224.5 1658.7 1224C1659.4 1223.4 1660 1222.9 1660.7 1222.4C1661.4 1221.9 1662 1221.3 1662.7 1220.8C1663.4 1220.3 1664 1219.8 1664.7 1219.2C1665.4 1218.7 1666 1218.2 1666.7 1217.7C1667.4 1217.2 1668 1216.7 1668.7 1216.2C1669.4 1215.7 1670 1215.2 1670.7 1214.8C1671.4 1214.3 1672 1213.8 1672.7 1213.4C1673.4 1213 1674 1212.6 1674.7 1212.2C1675.4 1211.8 1676 1211.4 1676.7 1211.1C1677.4 1210.7 1678 1210.4 1678.7 1210.1C1679.4 1209.8 1680 1209.5 1680.7 1209.2C1681.4 1209 1682 1208.8 1682.7 1208.6C1683.4 1208.4 1684 1208.2 1684.7 1208.1C1685.4 1208 1686 1207.8 1686.7 1207.8C1687.4 1207.7 1688 1207.6 1688.7 1207.6C1689.4 1207.6 1690 1207.6 1690.7 1207.7C1691.4 1207.7 1692 1207.8 1692.7 1207.9C1693.4 1208 1694 1208.2 1694.7 1208.4C1695.4 1208.5 1696 1208.7 1696.7 1209C1697.4 1209.2 1698 1209.5 1698.7 1209.8C1699.4 1210 1700 1210.4 1700.7 1210.7C1701.4 1211.1 1702 1211.4 1702.7 1211.8C1703.4 1212.2 1704 1212.7 1704.7 1213.1C1705.4 1213.5 1706 1214 1706.7 1214.5C1707.4 1215 1708 1215.5 1708.7 1216C1709.4 1216.6 1710 1217.1 1710.7 1217.7C1711.4 1218.2 1712 1218.8 1712.7 1219.4C1713.4 1220 1714 1220.6 1714.7 1221.2C1715.4 1221.8 1716 1222.5 1716.7 1223.1C1717.4 1223.7 1718 1224.4 1718.7 1225C1719.4 1225.7 1720 1226.4 1720.7 1227C1721.4 1227.7 1722 1228.3 1722.7 1229C1723.4 1229.7 1724 1230.3 1724.7 1231C1725.4 1231.6 1726 1232.3 1726.7 1233C1727.4 1233.6 1728 1234.3 1728.7 1234.9C1729.4 1235.6 1730 1236.2 1730.7 1236.9C1731.4 1237.5 1732 1238.1 1732.7 1238.7C1733.4 1239.4 1734 1240 1734.7 1240.6C1735.4 1241.2 1736 1241.8 1736.7 1242.3C1737.4 1242.9 1738 1243.5 1738.7 1244C1739.4 1244.6 1740 1245.1 1740.7 1245.7C1741.4 1246.2 1742 1246.7 1742.7 1247.2C1743.4 1247.7 1744 1248.2 1744.7 1248.7C1745.4 1249.1 1746 1249.6 1746.7 1250C1747.4 1250.5 1748 1250.9 1748.7 1251.3C1749.4 1251.7 1750 1252.2 1750.7 1252.5C1751.4 1252.9 1752 1253.3 1752.7 1253.7C1753.4 1254 1754 1254.4 1754.7 1254.7C1755.4 1255 1756 1255.3 1756.7 1255.7C1757.4 1256 1758 1256.2 1758.7 1256.5C1759.4 1256.8 1760 1257.1 1760.7 1257.3C1761.4 1257.6 1762 1257.8 1762.7 1258.1C1763.4 1258.3 1764 1258.5 1764.7 1258.7C1765.4 1258.9 1766 1259.1 1766.7 1259.3C1767.4 1259.5 1768 1259.7 1768.7 1259.8C1769.4 1260 1770 1260.2 1770.7 1260.3C1771.4 1260.5 1772 1260.6 1772.7 1260.7C1773.4 1260.9 1774 1261 1774.7 1261.1C1775.4 1261.2 1776 1261.3 1776.7 1261.4C1777.4 1261.5 1778 1261.6 1778.7 1261.7C1779.4 1261.8 1780 1261.9 1780.7 1262C1781.4 1262.1 1782 1262.1 1782.7 1262.2C1783.4 1262.3 1784 1262.3 1784.7 1262.4C1785.4 1262.5 1786 1262.5 1786.7 1262.6C1787.4 1262.6 1788 1262.7 1788.7 1262.7C1789.4 1262.8 1790 1262.8 1790.7 1262.8C1791.4 1262.9 1792 1262.9 1792.7 1262.9C1793.4 1263 1794 1263 1794.7 1263C1795.4 1263.1 1796 1263.1 1796.7 1263.1C1797.4 1263.1 1798 1263.2 1798.7 1263.2C1799.4 1263.2 1800 1263.2 1800.7 1263.2C1801.4 1263.3 1802 1263.3 1802.7 1263.3C1803.4 1263.3 1804 1263.3 1804.7 1263.3C1805.4 1263.3 1806 1263.3 1806.7 1263.4C1807.4 1263.4 1808 1263.4 1808.7 1263.4C1809.4 1263.4 1810 1263.4 1810.7 1263.4C1811.4 1263.4 1812 1263.4 1812.7 1263.4C1813.4 1263.4 1814 1263.4 1814.7 1263.4C1815.4 1263.4 1816 1263.4 1816.7 1263.4C1817.4 1263.5 1818 1263.5 1818.7 1263.5C1819.4 1263.5 1820 1263.5 1820.7 1263.5C1821.4 1263.5 1822 1263.5 1822.7 1263.5C1823.4 1263.5 1824 1263.5 1824.7 1263.5C1825.4 1263.5 1826 1263.5 1826.7 1263.5C1827.4 1263.5 1828 1263.5 1828.7 1263.5C1829.4 1263.5 1830 1263.5 1830.7 1263.5C1831.4 1263.5 1832 1263.5 1832.7 1263.5C1833.4 1263.5 1834 1263.5 1834.7 1263.5C1835.4 1263.5 1836 1263.5 1836.7 1263.5C1837.4 1263.5 1838 1263.5 1838.7 1263.5C1839.4 1263.5 1840 1263.5 1840.7 1263.5C1841.4 1263.5 1842 1263.5 1842.7 1263.5C1843.4 1263.5 1844.1 1263.5 1844.7 1263.5C1845.3 1263.5 1846.1 1263.5 1846.4 1263.5" stroke="#DA2180"/>
</g>
<g fill="none" stroke="#000" stroke-width="6" stroke-linecap="round" stroke-linejoin="round">
<rect x="280" y="52" width="723" height="1275"/>
<path d="M280 1247.3H291.5M1003 1247.3H991.5M280 1167.6H304M1003 1167.6H979M280 1087.9H291.5M1003 1087.9H991.5M280 1008.2H304M1003 1008.2H979M280 928.6H291.5M1003 928.6H991.5M280 848.9H304M1003 848.9H979M280 769.2H291.5M1003 769.2H991.5M280 689.5H304M1003 689.5H979M280 609.8H291.5M1003 609.8H991.5M280 530.1H304M1003 530.1H979M280 450.4H291.5M1003 450.4H991.5M280 370.8H304M1003 370.8H979M280 291.1H291.5M1003 291.1H991.5M280 211.4H304M1003 211.4H979M280 131.7H291.5M1003 131.7H991.5M297.4 1327V1303M297.4 52V76M366.2 1327V1315.5M366.2 52V63.5M435.1 1327V1303M435.1 52V76M503.9 1327V1315.5M503.9 52V63.5M572.8 1327V1303M572.8 52V76M641.6 1327V1315.5M641.6 52V63.5M710.4 1327V1303M710.4 52V76M779.3 1327V1315.5M779.3 52V63.5M848.1 1327V1303M848.1 52V76M917 1327V1315.5M917 52V63.5M985.8 1327V1303M985.8 52V76"/>
<rect x="1243.9" y="52" width="722.8" height="1275"/>
<path d="M1243.9 1247.3H1255.4M1966.7 1247.3H1955.2M1243.9 1167.6H1267.9M1966.7 1167.6H1942.7M1243.9 1087.9H1255.4M1966.7 1087.9H1955.2M1243.9 1008.2H1267.9M1966.7 1008.2H1942.7M1243.9 928.6H1255.4M1966.7 928.6H1955.2M1243.9 848.9H1267.9M1966.7 848.9H1942.7M1243.9 769.2H1255.4M1966.7 769.2H1955.2M1243.9 689.5H1267.9M1966.7 689.5H1942.7M1243.9 609.8H1255.4M1966.7 609.8H1955.2M1243.9 530.1H1267.9M1966.7 530.1H1942.7M1243.9 450.4H1255.4M1966.7 450.4H1955.2M1243.9 370.8H1267.9M1966.7 370.8H1942.7M1243.9 291.1H1255.4M1966.7 291.1H1955.2M1243.9 211.4H1267.9M1966.7 211.4H1942.7M1243.9 131.7H1255.4M1966.7 131.7H1955.2M1261.1 1327V1303M1261.1 52V76M1347.1 1327V1315.5M1347.1 52V63.5M1433.2 1327V1303M1433.2 52V76M1519.2 1327V1315.5M1519.2 52V63.5M1605.3 1327V1303M1605.3 52V76M1691.3 1327V1315.5M1691.3 52V63.5M1777.4 1327V1303M1777.4 52V76M1863.4 1327V1315.5M1863.4 52V63.5M1949.5 1327V1303M1949.5 52V76"/>
</g>
<path d="M297.4 594.5C298.1 594.6 300.1 594.6 301.4 594.7C302.7 594.7 304.1 594.8 305.4 594.8C306.7 594.9 308.1 594.9 309.4 595C310.7 595 312.1 595.1 313.4 595.2C314.7 595.2 316.1 595.3 317.4 595.3C318.7 595.4 320.1 595.4 321.4 595.5C322.7 595.5 324.1 595.6 325.4 595.6C326.7 595.6 328.1 595.7 329.4 595.7C330.7 595.8 332.1 595.8 333.4 595.9C334.7 595.9 336.1 596 337.4 596C338.7 596.1 340.1 596.1 341.4 596.1C342.7 596.2 344.1 596.2 345.4 596.3C346.7 596.3 348.1 596.3 349.4 596.4C350.7 596.4 352.1 596.5 353.4 596.5C354.7 596.5 356.1 596.6 357.4 596.6C358.7 596.6 360.1 596.7 361.4 596.7C362.7 596.7 364.1 596.8 365.4 596.8C366.7 596.8 368.1 596.8 369.4 596.9C370.7 596.9 372.1 596.9 373.4 596.9C374.7 597 376.1 597 377.4 597C378.7 597 380.1 597.1 381.4 597.1C382.7 597.1 384.1 597.1 385.4 597.2C386.7 597.2 388.1 597.2 389.4 597.2C390.7 597.2 392.1 597.3 393.4 597.3C394.7 597.3 396.1 597.3 397.4 597.3C398.7 597.4 400.1 597.4 401.4 597.4C402.7 597.4 404.1 597.4 405.4 597.5C406.7 597.5 408.1 597.5 409.4 597.5C410.7 597.5 412.1 597.6 413.4 597.6C414.7 597.6 416.1 597.6 417.4 597.6C418.7 597.6 420.1 597.7 421.4 597.7C422.7 597.7 424.1 597.7 425.4 597.7C426.7 597.8 428.1 597.8 429.4 597.8C430.7 597.8 432.1 597.9 433.4 597.9C434.7 597.9 436.1 597.9 437.4 597.9C438.7 598 440.1 598 441.4 598C442.7 598 444.1 598 445.4 598.1C446.7 598.1 448.1 598.1 449.4 598.1C450.7 598.1 452.1 598.2 453.4 598.2C454.7 598.2 456.1 598.2 457.4 598.2C458.7 598.3 460.1 598.3 461.4 598.3C462.7 598.3 464.1 598.3 465.4 598.3C466.7 598.4 468.1 598.4 469.4 598.4C470.7 598.4 472.1 598.4 473.4 598.5C474.7 598.5 476.1 598.5 477.4 598.5C478.7 598.6 480.1 598.6 481.4 598.6C482.7 598.6 484.1 598.7 485.4 598.7C486.7 598.7 488.1 598.7 489.4 598.8C490.7 598.8 492.1 598.8 493.4 598.8C494.7 598.9 496.1 598.9 497.4 598.9C498.7 599 500.1 599 501.4 599C502.7 599.1 504.1 599.1 505.4 599.1C506.7 599.2 508.1 599.2 509.4 599.3C510.7 599.3 512.1 599.3 513.4 599.4C514.7 599.4 516.1 599.5 517.4 599.5C518.7 599.6 520.1 599.6 521.4 599.7C522.7 599.8 524.1 599.8 525.4 599.9C526.7 600 528.1 600 529.4 600.1C530.7 600.2 532.1 600.3 533.4 600.4C534.7 600.5 536.1 600.6 537.4 600.8C538.7 600.9 540.1 601.1 541.4 601.4C542.7 601.6 544.1 602 545.4 602.4C546.7 602.9 548.1 603.4 549.4 604C550.7 604.6 552.1 605.2 553.4 606C554.7 606.7 556.1 607.5 557.4 608.3C558.7 609.1 560.1 610 561.4 610.9C562.7 611.8 564.1 612.7 565.4 613.7C566.7 614.6 568.1 615.6 569.4 616.6C570.7 617.7 572.1 618.6 573.4 619.8C574.7 620.9 576.1 622.1 577.4 623.5C578.7 624.8 580.1 626.3 581.4 627.9C582.7 629.5 584.1 631.3 585.4 633.1C586.7 635 588.1 636.9 589.4 639C590.7 641 592.1 643.1 593.4 645.4C594.7 647.6 596.1 649.9 597.4 652.2C598.7 654.6 600.1 657 601.4 659.5C602.7 661.9 604.1 664.4 605.4 667C606.7 669.5 608.1 672.1 609.4 674.7C610.7 677.3 612.1 679.9 613.4 682.5C614.7 685.1 616.1 687.7 617.4 690.3C618.7 692.9 620.1 695.5 621.4 698C622.7 700.6 624.1 703.1 625.4 705.6C626.7 708 628.1 710.5 629.4 712.8C630.7 715.2 632.1 717.5 633.4 719.7C634.7 722 636.1 724.1 637.4 726.2C638.7 728.3 640.1 730.2 641.4 732.1C642.7 734.1 644.1 735.9 645.4 737.7C646.7 739.6 648.1 741.4 649.4 743.2C650.7 745 652.1 746.8 653.4 748.6C654.7 750.3 656.1 752.1 657.4 753.8C658.7 755.6 660.1 757.3 661.4 759C662.7 760.7 664.1 762.4 665.4 764.1C666.7 765.8 668.1 767.5 669.4 769.1C670.7 770.8 672.1 772.4 673.4 774.1C674.7 775.7 676.1 777.3 677.4 778.9C678.7 780.5 680.1 782.1 681.4 783.7C682.7 785.2 684.1 786.8 685.4 788.4C686.7 789.9 688.1 791.4 689.4 793C690.7 794.5 692.1 796 693.4 797.5C694.7 799 696.1 800.5 697.4 801.9C698.7 803.4 700.1 804.9 701.4 806.3C702.7 807.8 704.1 809.2 705.4 810.6C706.7 812 708.1 813.4 709.4 814.8C710.7 816.2 712.1 817.6 713.4 819C714.7 820.4 716.1 821.7 717.4 823.1C718.7 824.5 720.1 825.8 721.4 827.1C722.7 828.5 724.1 829.8 725.4 831.1C726.7 832.4 728.1 833.7 729.4 835C730.7 836.3 732.1 837.6 733.4 838.9C734.7 840.2 736.1 841.4 737.4 842.7C738.7 843.9 740.1 845.2 741.4 846.4C742.7 847.6 744.1 848.9 745.4 850.1C746.7 851.3 748.1 852.5 749.4 853.7C750.7 854.9 752.1 856.1 753.4 857.3C754.7 858.5 756.1 859.6 757.4 860.8C758.7 861.9 760.1 863.1 761.4 864.2C762.7 865.4 764.1 866.5 765.4 867.6C766.7 868.7 768.1 869.9 769.4 871C770.7 872.1 772.1 873.2 773.4 874.2C774.7 875.3 776.1 876.4 777.4 877.5C778.7 878.5 780.1 879.6 781.4 880.6C782.7 881.7 784.1 882.7 785.4 883.8C786.7 884.8 788.1 885.8 789.4 886.8C790.7 887.9 792.1 888.9 793.4 889.9C794.7 890.9 796.1 891.9 797.4 892.8C798.7 893.8 800.1 894.8 801.4 895.8C802.7 896.7 804.1 897.7 805.4 898.7C806.7 899.6 808.1 900.6 809.4 901.5C810.7 902.4 812.1 903.4 813.4 904.3C814.7 905.2 816.1 906.2 817.4 907.1C818.7 908 820.1 908.9 821.4 909.8C822.7 910.7 824.1 911.6 825.4 912.5C826.7 913.4 828.1 914.3 829.4 915.1C830.7 916 832.1 916.9 833.4 917.8C834.7 918.6 836.1 919.5 837.4 920.4C838.7 921.2 840.1 922.1 841.4 922.9C842.7 923.8 844.1 924.6 845.4 925.5C846.7 926.3 848.1 927.2 849.4 928C850.7 928.8 852.1 929.7 853.4 930.5C854.7 931.3 856.1 932.1 857.4 933C858.7 933.8 860.1 934.6 861.4 935.4C862.7 936.2 864.1 937 865.4 937.8C866.7 938.6 868.1 939.4 869.4 940.2C870.7 941 872.1 941.8 873.4 942.5C874.7 943.3 876.1 944.1 877.4 944.9C878.7 945.6 880.1 946.4 881.4 947.2C882.7 947.9 884.1 948.7 885.4 949.4C886.7 950.2 888.1 950.9 889.4 951.7C890.7 952.4 892.1 953.2 893.4 953.9C894.7 954.6 896.1 955.4 897.4 956.1C898.7 956.8 900.1 957.5 901.4 958.3C902.7 959 904.1 959.7 905.4 960.4C906.7 961.1 908.1 961.8 909.4 962.5C910.7 963.2 912.1 963.9 913.4 964.6C914.7 965.3 916.1 966 917.4 966.7C918.7 967.4 920.1 968.1 921.4 968.8C922.7 969.4 924.1 970.1 925.4 970.8C926.7 971.5 928.1 972.1 929.4 972.8C930.7 973.5 932.1 974.1 933.4 974.8C934.7 975.5 936.1 976.1 937.4 976.8C938.7 977.4 940.1 978.1 941.4 978.7C942.7 979.4 944.1 980 945.4 980.7C946.7 981.3 948.1 982 949.4 982.6C950.7 983.2 952.1 983.9 953.4 984.5C954.7 985.1 956.1 985.7 957.4 986.4C958.7 987 960.1 987.6 961.4 988.2C962.7 988.8 964.1 989.4 965.4 990C966.7 990.6 968.1 991.2 969.4 991.8C970.7 992.4 972.1 993 973.4 993.6C974.7 994.2 976.1 994.8 977.4 995.4C978.7 996 980.1 996.6 981.4 997.1C982.7 997.6 984.7 998.2 985.4 998.5C986.1 998.7 985.7 998.6 985.8 998.6" fill="none" stroke="#0080FF" stroke-width="6" stroke-linecap="round" stroke-linejoin="round"/>
<rect x="284.3" y="581.4" width="26.2" height="26.2" fill="#0080FF"/>
<rect x="353.1" y="583.7" width="26.2" height="26.2" fill="#0080FF"/>
<rect x="422" y="584.8" width="26.2" height="26.2" fill="#0080FF"/>
<rect x="490.8" y="586" width="26.2" height="26.2" fill="#0080FF"/>
<rect x="525.2" y="587.7" width="26.2" height="26.2" fill="#0080FF"/>
<rect x="559.7" y="606.1" width="26.2" height="26.2" fill="#0080FF"/>
<rect x="628.5" y="719.4" width="26.2" height="26.2" fill="#0080FF"/>
<rect x="697.3" y="802.8" width="26.2" height="26.2" fill="#0080FF"/>
<rect x="766.2" y="865.9" width="26.2" height="26.2" fill="#0080FF"/>
<rect x="835" y="914.1" width="26.2" height="26.2" fill="#0080FF"/>
<rect x="903.9" y="953.4" width="26.2" height="26.2" fill="#0080FF"/>
<rect x="972.7" y="985.9" width="26.2" height="26.2" fill="#0080FF"/>
<path d="M297.4 575.5C298.1 575.6 300.1 575.6 301.4 575.6C302.7 575.7 304.1 575.7 305.4 575.8C306.7 575.8 308.1 575.9 309.4 575.9C310.7 576 312.1 576 313.4 576C314.7 576.1 316.1 576.1 317.4 576.2C318.7 576.2 320.1 576.2 321.4 576.3C322.7 576.3 324.1 576.4 325.4 576.4C326.7 576.5 328.1 576.5 329.4 576.5C330.7 576.6 332.1 576.6 333.4 576.6C334.7 576.7 336.1 576.7 337.4 576.8C338.7 576.8 340.1 576.8 341.4 576.9C342.7 576.9 344.1 576.9 345.4 577C346.7 577 348.1 577 349.4 577.1C350.7 577.1 352.1 577.1 353.4 577.1C354.7 577.2 356.1 577.2 357.4 577.2C358.7 577.3 360.1 577.3 361.4 577.3C362.7 577.3 364.1 577.4 365.4 577.4C366.7 577.4 368.1 577.4 369.4 577.5C370.7 577.5 372.1 577.5 373.4 577.5C374.7 577.5 376.1 577.6 377.4 577.6C378.7 577.6 380.1 577.6 381.4 577.7C382.7 577.7 384.1 577.7 385.4 577.7C386.7 577.7 388.1 577.8 389.4 577.8C390.7 577.8 392.1 577.8 393.4 577.8C394.7 577.8 396.1 577.9 397.4 577.9C398.7 577.9 400.1 577.9 401.4 577.9C402.7 577.9 404.1 578 405.4 578C406.7 578 408.1 578 409.4 578C410.7 578 412.1 578.1 413.4 578.1C414.7 578.1 416.1 578.1 417.4 578.1C418.7 578.1 420.1 578.1 421.4 578.2C422.7 578.2 424.1 578.2 425.4 578.2C426.7 578.2 428.1 578.2 429.4 578.2C430.7 578.3 432.1 578.3 433.4 578.3C434.7 578.3 436.1 578.3 437.4 578.3C438.7 578.3 440.1 578.3 441.4 578.4C442.7 578.4 444.1 578.4 445.4 578.4C446.7 578.4 448.1 578.4 449.4 578.4C450.7 578.4 452.1 578.4 453.4 578.4C454.7 578.4 456.1 578.5 457.4 578.5C458.7 578.5 460.1 578.5 461.4 578.5C462.7 578.5 464.1 578.5 465.4 578.5C466.7 578.5 468.1 578.5 469.4 578.5C470.7 578.5 472.1 578.5 473.4 578.6C474.7 578.6 476.1 578.6 477.4 578.6C478.7 578.6 480.1 578.6 481.4 578.6C482.7 578.6 484.1 578.6 485.4 578.6C486.7 578.6 488.1 578.7 489.4 578.7C490.7 578.7 492.1 578.7 493.4 578.7C494.7 578.7 496.1 578.7 497.4 578.7C498.7 578.7 500.1 578.8 501.4 578.8C502.7 578.8 504.1 578.8 505.4 578.8C506.7 578.8 508.1 578.8 509.4 578.9C510.7 578.9 512.1 578.9 513.4 578.9C514.7 578.9 516.1 578.9 517.4 579C518.7 579 520.1 579 521.4 579C522.7 579 524.1 579.1 525.4 579.1C526.7 579.1 528.1 579.2 529.4 579.2C530.7 579.2 532.1 579.3 533.4 579.3C534.7 579.4 536.1 579.4 537.4 579.5C538.7 579.7 540.1 579.8 541.4 580.2C542.7 580.5 544.1 581 545.4 581.5C546.7 582.1 548.1 582.7 549.4 583.4C550.7 584 552.1 584.6 553.4 585.3C554.7 585.9 556.1 586.4 557.4 587C558.7 587.6 560.1 588.2 561.4 588.8C562.7 589.4 564.1 590.1 565.4 590.6C566.7 591.2 568.1 591.8 569.4 592.3C570.7 592.8 572.1 593.2 573.4 593.6C574.7 594.1 576.1 594.4 577.4 594.8C578.7 595.2 580.1 595.5 581.4 595.8C582.7 596.1 584.1 596.4 585.4 596.7C586.7 596.9 588.1 597.1 589.4 597.3C590.7 597.5 592.1 597.6 593.4 597.7C594.7 597.8 596.1 597.9 597.4 598C598.7 598.1 600.1 598.2 601.4 598.3C602.7 598.3 604.1 598.4 605.4 598.5C606.7 598.6 608.1 598.6 609.4 598.7C610.7 598.8 612.1 598.8 613.4 598.9C614.7 599 616.1 599 617.4 599.1C618.7 599.1 620.1 599.2 621.4 599.2C622.7 599.3 624.1 599.3 625.4 599.3C626.7 599.4 628.1 599.4 629.4 599.5C630.7 599.5 632.1 599.5 633.4 599.6C634.7 599.6 636.1 599.7 637.4 599.7C638.7 599.7 640.1 599.8 641.4 599.8C642.7 599.8 644.1 599.9 645.4 599.9C646.7 599.9 648.1 600 649.4 600C650.7 600 652.1 600 653.4 600.1C654.7 600.1 656.1 600.1 657.4 600.1C658.7 600.2 660.1 600.2 661.4 600.2C662.7 600.2 664.1 600.3 665.4 600.3C666.7 600.3 668.1 600.3 669.4 600.4C670.7 600.4 672.1 600.4 673.4 600.4C674.7 600.4 676.1 600.5 677.4 600.5C678.7 600.5 680.1 600.5 681.4 600.5C682.7 600.5 684.1 600.6 685.4 600.6C686.7 600.6 688.1 600.6 689.4 600.6C690.7 600.7 692.1 600.7 693.4 600.7C694.7 600.7 696.1 600.7 697.4 600.8C698.7 600.8 700.1 600.8 701.4 600.8C702.7 600.9 704.1 600.9 705.4 600.9C706.7 600.9 708.1 601 709.4 601C710.7 601 712.1 601 713.4 601.1C714.7 601.1 716.1 601.1 717.4 601.1C718.7 601.2 720.1 601.2 721.4 601.2C722.7 601.3 724.1 601.3 725.4 601.3C726.7 601.3 728.1 601.4 729.4 601.4C730.7 601.4 732.1 601.5 733.4 601.5C734.7 601.5 736.1 601.6 737.4 601.6C738.7 601.6 740.1 601.7 741.4 601.7C742.7 601.7 744.1 601.7 745.4 601.8C746.7 601.8 748.1 601.8 749.4 601.9C750.7 601.9 752.1 601.9 753.4 602C754.7 602 756.1 602 757.4 602.1C758.7 602.1 760.1 602.1 761.4 602.2C762.7 602.2 764.1 602.2 765.4 602.3C766.7 602.3 768.1 602.3 769.4 602.4C770.7 602.4 772.1 602.4 773.4 602.5C774.7 602.5 776.1 602.5 777.4 602.6C778.7 602.6 780.1 602.6 781.4 602.7C782.7 602.7 784.1 602.7 785.4 602.7C786.7 602.8 788.1 602.8 789.4 602.8C790.7 602.9 792.1 602.9 793.4 602.9C794.7 603 796.1 603 797.4 603C798.7 603.1 800.1 603.1 801.4 603.1C802.7 603.2 804.1 603.2 805.4 603.2C806.7 603.3 808.1 603.3 809.4 603.3C810.7 603.4 812.1 603.4 813.4 603.4C814.7 603.5 816.1 603.5 817.4 603.5C818.7 603.6 820.1 603.6 821.4 603.6C822.7 603.7 824.1 603.7 825.4 603.7C826.7 603.8 828.1 603.8 829.4 603.8C830.7 603.9 832.1 603.9 833.4 603.9C834.7 604 836.1 604 837.4 604C838.7 604.1 840.1 604.1 841.4 604.1C842.7 604.2 844.1 604.2 845.4 604.2C846.7 604.3 848.1 604.3 849.4 604.3C850.7 604.4 852.1 604.4 853.4 604.4C854.7 604.5 856.1 604.5 857.4 604.5C858.7 604.5 860.1 604.6 861.4 604.6C862.7 604.6 864.1 604.7 865.4 604.7C866.7 604.7 868.1 604.7 869.4 604.8C870.7 604.8 872.1 604.8 873.4 604.8C874.7 604.9 876.1 604.9 877.4 604.9C878.7 605 880.1 605 881.4 605C882.7 605 884.1 605.1 885.4 605.1C886.7 605.1 888.1 605.2 889.4 605.2C890.7 605.2 892.1 605.2 893.4 605.3C894.7 605.3 896.1 605.3 897.4 605.4C898.7 605.4 900.1 605.4 901.4 605.5C902.7 605.5 904.1 605.5 905.4 605.6C906.7 605.6 908.1 605.6 909.4 605.7C910.7 605.7 912.1 605.8 913.4 605.8C914.7 605.8 916.1 605.9 917.4 605.9C918.7 606 920.1 606 921.4 606C922.7 606.1 924.1 606.1 925.4 606.2C926.7 606.2 928.1 606.3 929.4 606.3C930.7 606.4 932.1 606.4 933.4 606.5C934.7 606.5 936.1 606.6 937.4 606.7C938.7 606.7 940.1 606.8 941.4 606.8C942.7 606.9 944.1 607 945.4 607C946.7 607.1 948.1 607.1 949.4 607.2C950.7 607.3 952.1 607.3 953.4 607.4C954.7 607.5 956.1 607.5 957.4 607.6C958.7 607.7 960.1 607.7 961.4 607.8C962.7 607.9 964.1 608 965.4 608C966.7 608.1 968.1 608.2 969.4 608.2C970.7 608.3 972.1 608.4 973.4 608.5C974.7 608.5 976.1 608.6 977.4 608.7C978.7 608.8 980.1 608.9 981.4 608.9C982.7 609 984.7 609.1 985.4 609.1C986.1 609.2 985.7 609.1 985.8 609.1" fill="none" stroke="#00FFFF" stroke-width="6" stroke-linecap="round" stroke-linejoin="round"/>
<circle cx="297.4" cy="575.2" r="14.5" fill="#00FFFF"/>
<circle cx="366.2" cy="577.6" r="14.5" fill="#00FFFF"/>
<circle cx="435.1" cy="578.4" r="14.5" fill="#00FFFF"/>
<circle cx="503.9" cy="578.8" r="14.5" fill="#00FFFF"/>
<circle cx="538.3" cy="579" r="14.5" fill="#00FFFF"/>
<circle cx="572.8" cy="593.3" r="14.5" fill="#00FFFF"/>
<circle cx="641.6" cy="599.8" r="14.5" fill="#00FFFF"/>
<circle cx="710.4" cy="601" r="14.5" fill="#00FFFF"/>
<circle cx="779.3" cy="602.6" r="14.5" fill="#00FFFF"/>
<circle cx="848.1" cy="604.3" r="14.5" fill="#00FFFF"/>
<circle cx="917" cy="605.9" r="14.5" fill="#00FFFF"/>
<circle cx="985.8" cy="609.2" r="14.5" fill="#00FFFF"/>
<path d="M297.4 574.6C298.1 574.7 300.1 574.7 301.4 574.8C302.7 574.9 304.1 574.9 305.4 575C306.7 575.1 308.1 575.1 309.4 575.2C310.7 575.2 312.1 575.3 313.4 575.4C314.7 575.4 316.1 575.5 317.4 575.6C318.7 575.6 320.1 575.7 321.4 575.7C322.7 575.8 324.1 575.8 325.4 575.9C326.7 576 328.1 576 329.4 576.1C330.7 576.1 332.1 576.2 333.4 576.2C334.7 576.3 336.1 576.3 337.4 576.4C338.7 576.4 340.1 576.5 341.4 576.5C342.7 576.6 344.1 576.6 345.4 576.7C346.7 576.7 348.1 576.7 349.4 576.8C350.7 576.8 352.1 576.9 353.4 576.9C354.7 576.9 356.1 577 357.4 577C358.7 577 360.1 577.1 361.4 577.1C362.7 577.1 364.1 577.2 365.4 577.2C366.7 577.2 368.1 577.2 369.4 577.3C370.7 577.3 372.1 577.3 373.4 577.3C374.7 577.4 376.1 577.4 377.4 577.4C378.7 577.4 380.1 577.4 381.4 577.5C382.7 577.5 384.1 577.5 385.4 577.5C386.7 577.6 388.1 577.6 389.4 577.6C390.7 577.6 392.1 577.6 393.4 577.7C394.7 577.7 396.1 577.7 397.4 577.7C398.7 577.7 400.1 577.7 401.4 577.8C402.7 577.8 404.1 577.8 405.4 577.8C406.7 577.8 408.1 577.8 409.4 577.9C410.7 577.9 412.1 577.9 413.4 577.9C414.7 577.9 416.1 577.9 417.4 577.9C418.7 578 420.1 578 421.4 578C422.7 578 424.1 578 425.4 578C426.7 578 428.1 578 429.4 578.1C430.7 578.1 432.1 578.1 433.4 578.1C434.7 578.1 436.1 578.1 437.4 578.1C438.7 578.1 440.1 578.1 441.4 578.1C442.7 578.2 444.1 578.2 445.4 578.2C446.7 578.2 448.1 578.2 449.4 578.2C450.7 578.2 452.1 578.2 453.4 578.2C454.7 578.2 456.1 578.2 457.4 578.3C458.7 578.3 460.1 578.3 461.4 578.3C462.7 578.3 464.1 578.3 465.4 578.3C466.7 578.3 468.1 578.3 469.4 578.3C470.7 578.3 472.1 578.3 473.4 578.3C474.7 578.3 476.1 578.4 477.4 578.4C478.7 578.4 480.1 578.4 481.4 578.4C482.7 578.4 484.1 578.4 485.4 578.4C486.7 578.4 488.1 578.4 489.4 578.4C490.7 578.4 492.1 578.4 493.4 578.4C494.7 578.4 496.1 578.5 497.4 578.5C498.7 578.5 500.1 578.5 501.4 578.5C502.7 578.5 504.1 578.5 505.4 578.5C506.7 578.5 508.1 578.5 509.4 578.5C510.7 578.5 512.1 578.5 513.4 578.5C514.7 578.6 516.1 578.6 517.4 578.6C518.7 578.6 520.1 578.6 521.4 578.6C522.7 578.6 524.1 578.6 525.4 578.6C526.7 578.6 528.1 578.6 529.4 578.6C530.7 578.6 532.1 578.6 533.4 578.7C534.7 578.7 536.1 578.7 537.4 578.7C538.7 578.7 540.1 578.7 541.4 578.8C542.7 578.8 544.1 578.8 545.4 578.8C546.7 578.9 548.1 578.9 549.4 579C550.7 579 552.1 579 553.4 579.1C554.7 579.1 556.1 579.2 557.4 579.2C558.7 579.3 560.1 579.3 561.4 579.4C562.7 579.5 564.1 579.5 565.4 579.6C566.7 579.6 568.1 579.6 569.4 579.7C570.7 579.7 572.1 579.8 573.4 579.8C574.7 579.9 576.1 579.9 577.4 579.9C578.7 580 580.1 580 581.4 580C582.7 580.1 584.1 580.1 585.4 580.1C586.7 580.2 588.1 580.2 589.4 580.2C590.7 580.3 592.1 580.3 593.4 580.4C594.7 580.4 596.1 580.4 597.4 580.5C598.7 580.5 600.1 580.5 601.4 580.6C602.7 580.6 604.1 580.6 605.4 580.6C606.7 580.7 608.1 580.7 609.4 580.7C610.7 580.8 612.1 580.8 613.4 580.8C614.7 580.9 616.1 580.9 617.4 580.9C618.7 581 620.1 581 621.4 581C622.7 581.1 624.1 581.1 625.4 581.1C626.7 581.2 628.1 581.2 629.4 581.2C630.7 581.2 632.1 581.3 633.4 581.3C634.7 581.3 636.1 581.4 637.4 581.4C638.7 581.4 640.1 581.5 641.4 581.5C642.7 581.5 644.1 581.6 645.4 581.6C646.7 581.6 648.1 581.6 649.4 581.7C650.7 581.7 652.1 581.7 653.4 581.8C654.7 581.8 656.1 581.8 657.4 581.9C658.7 581.9 660.1 581.9 661.4 581.9C662.7 582 664.1 582 665.4 582C666.7 582.1 668.1 582.1 669.4 582.1C670.7 582.1 672.1 582.2 673.4 582.2C674.7 582.2 676.1 582.3 677.4 582.3C678.7 582.3 680.1 582.3 681.4 582.4C682.7 582.4 684.1 582.4 685.4 582.5C686.7 582.5 688.1 582.5 689.4 582.5C690.7 582.6 692.1 582.6 693.4 582.6C694.7 582.7 696.1 582.7 697.4 582.7C698.7 582.7 700.1 582.8 701.4 582.8C702.7 582.8 704.1 582.9 705.4 582.9C706.7 582.9 708.1 582.9 709.4 583C710.7 583 712.1 583 713.4 583.1C714.7 583.1 716.1 583.1 717.4 583.2C718.7 583.2 720.1 583.2 721.4 583.2C722.7 583.3 724.1 583.3 725.4 583.3C726.7 583.4 728.1 583.4 729.4 583.4C730.7 583.5 732.1 583.5 733.4 583.5C734.7 583.6 736.1 583.6 737.4 583.6C738.7 583.7 740.1 583.7 741.4 583.7C742.7 583.7 744.1 583.8 745.4 583.8C746.7 583.8 748.1 583.9 749.4 583.9C750.7 583.9 752.1 584 753.4 584C754.7 584 756.1 584.1 757.4 584.1C758.7 584.1 760.1 584.2 761.4 584.2C762.7 584.2 764.1 584.2 765.4 584.3C766.7 584.3 768.1 584.3 769.4 584.4C770.7 584.4 772.1 584.4 773.4 584.5C774.7 584.5 776.1 584.5 777.4 584.6C778.7 584.6 780.1 584.6 781.4 584.6C782.7 584.7 784.1 584.7 785.4 584.7C786.7 584.8 788.1 584.8 789.4 584.8C790.7 584.9 792.1 584.9 793.4 584.9C794.7 584.9 796.1 585 797.4 585C798.7 585 800.1 585.1 801.4 585.1C802.7 585.1 804.1 585.1 805.4 585.2C806.7 585.2 808.1 585.2 809.4 585.3C810.7 585.3 812.1 585.3 813.4 585.3C814.7 585.4 816.1 585.4 817.4 585.4C818.7 585.5 820.1 585.5 821.4 585.5C822.7 585.6 824.1 585.6 825.4 585.6C826.7 585.7 828.1 585.7 829.4 585.7C830.7 585.7 832.1 585.8 833.4 585.8C834.7 585.8 836.1 585.9 837.4 585.9C838.7 585.9 840.1 586 841.4 586C842.7 586.1 844.1 586.1 845.4 586.1C846.7 586.2 848.1 586.2 849.4 586.2C850.7 586.3 852.1 586.3 853.4 586.4C854.7 586.4 856.1 586.4 857.4 586.5C858.7 586.5 860.1 586.6 861.4 586.6C862.7 586.7 864.1 586.7 865.4 586.8C866.7 586.8 868.1 586.8 869.4 586.9C870.7 586.9 872.1 587 873.4 587C874.7 587.1 876.1 587.1 877.4 587.2C878.7 587.2 880.1 587.3 881.4 587.3C882.7 587.4 884.1 587.4 885.4 587.5C886.7 587.5 888.1 587.6 889.4 587.7C890.7 587.7 892.1 587.8 893.4 587.8C894.7 587.9 896.1 587.9 897.4 588C898.7 588 900.1 588.1 901.4 588.1C902.7 588.2 904.1 588.2 905.4 588.3C906.7 588.3 908.1 588.4 909.4 588.4C910.7 588.5 912.1 588.5 913.4 588.6C914.7 588.6 916.1 588.7 917.4 588.7C918.7 588.8 920.1 588.8 921.4 588.9C922.7 588.9 924.1 589 925.4 589C926.7 589 928.1 589.1 929.4 589.1C930.7 589.2 932.1 589.2 933.4 589.3C934.7 589.3 936.1 589.4 937.4 589.4C938.7 589.5 940.1 589.5 941.4 589.6C942.7 589.6 944.1 589.7 945.4 589.7C946.7 589.7 948.1 589.8 949.4 589.8C950.7 589.9 952.1 589.9 953.4 590C954.7 590 956.1 590.1 957.4 590.1C958.7 590.2 960.1 590.2 961.4 590.3C962.7 590.3 964.1 590.4 965.4 590.4C966.7 590.4 968.1 590.5 969.4 590.5C970.7 590.6 972.1 590.6 973.4 590.7C974.7 590.7 976.1 590.8 977.4 590.8C978.7 590.9 980.1 590.9 981.4 590.9C982.7 591 984.7 591 985.4 591.1C986.1 591.1 985.7 591.1 985.8 591.1" fill="none" stroke="#FF8000" stroke-width="6" stroke-linecap="round" stroke-linejoin="round"/>
<polygon points="297.4,554.8 314.8,584.9 280,584.9" fill="#FF8000"/>
<polygon points="366.2,557.4 383.6,587.5 348.8,587.5" fill="#FF8000"/>
<polygon points="435.1,558.3 452.5,588.4 417.7,588.4" fill="#FF8000"/>
<polygon points="503.9,558.7 521.3,588.8 486.5,588.8" fill="#FF8000"/>
<polygon points="538.3,558.9 555.7,589 520.9,589" fill="#FF8000"/>
<polygon points="572.8,560 590.2,590.1 555.4,590.1" fill="#FF8000"/>
<polygon points="641.6,561.7 659,591.8 624.2,591.8" fill="#FF8000"/>
<polygon points="710.4,563.2 727.8,593.3 693,593.3" fill="#FF8000"/>
<polygon points="779.3,564.8 796.7,594.9 761.9,594.9" fill="#FF8000"/>
<polygon points="848.1,566.4 865.5,596.5 830.7,596.5" fill="#FF8000"/>
<polygon points="917,568.9 934.4,599 899.6,599" fill="#FF8000"/>
<polygon points="985.8,571.3 1003.2,601.4 968.4,601.4" fill="#FF8000"/>
<path d="M297.4 512.7C298.1 512.8 300.1 512.8 301.4 512.9C302.7 512.9 304.1 513 305.4 513C306.7 513.1 308.1 513.1 309.4 513.2C310.7 513.3 312.1 513.3 313.4 513.4C314.7 513.4 316.1 513.5 317.4 513.5C318.7 513.6 320.1 513.6 321.4 513.7C322.7 513.7 324.1 513.8 325.4 513.8C326.7 513.9 328.1 513.9 329.4 514C330.7 514 332.1 514 333.4 514.1C334.7 514.1 336.1 514.2 337.4 514.2C338.7 514.2 340.1 514.3 341.4 514.3C342.7 514.4 344.1 514.4 345.4 514.4C346.7 514.5 348.1 514.5 349.4 514.5C350.7 514.6 352.1 514.6 353.4 514.6C354.7 514.6 356.1 514.7 357.4 514.7C358.7 514.7 360.1 514.7 361.4 514.7C362.7 514.8 364.1 514.8 365.4 514.8C366.7 514.8 368.1 514.8 369.4 514.8C370.7 514.8 372.1 514.9 373.4 514.9C374.7 514.9 376.1 514.9 377.4 514.9C378.7 514.9 380.1 514.9 381.4 514.9C382.7 514.9 384.1 514.9 385.4 514.9C386.7 514.9 388.1 514.9 389.4 515C390.7 515 392.1 515 393.4 515C394.7 515 396.1 515 397.4 515C398.7 515 400.1 515 401.4 515C402.7 515 404.1 515 405.4 515C406.7 515 408.1 515 409.4 515C410.7 515 412.1 515 413.4 515.1C414.7 515.1 416.1 515.1 417.4 515.1C418.7 515.1 420.1 515.1 421.4 515.1C422.7 515.1 424.1 515.1 425.4 515.1C426.7 515.1 428.1 515.1 429.4 515.2C430.7 515.2 432.1 515.2 433.4 515.2C434.7 515.2 436.1 515.2 437.4 515.2C438.7 515.2 440.1 515.3 441.4 515.3C442.7 515.3 444.1 515.3 445.4 515.3C446.7 515.3 448.1 515.4 449.4 515.4C450.7 515.4 452.1 515.4 453.4 515.4C454.7 515.5 456.1 515.5 457.4 515.5C458.7 515.5 460.1 515.6 461.4 515.6C462.7 515.6 464.1 515.6 465.4 515.7C466.7 515.7 468.1 515.7 469.4 515.8C470.7 515.8 472.1 515.9 473.4 515.9C474.7 515.9 476.1 516 477.4 516C478.7 516.1 480.1 516.1 481.4 516.2C482.7 516.2 484.1 516.3 485.4 516.3C486.7 516.4 488.1 516.4 489.4 516.5C490.7 516.6 492.1 516.6 493.4 516.7C494.7 516.8 496.1 516.9 497.4 517.1C498.7 517.3 500.1 517.4 501.4 517.6C502.7 517.9 504.1 518.1 505.4 518.5C506.7 518.9 508.1 519.5 509.4 520C510.7 520.6 512.1 521.3 513.4 522C514.7 522.7 516.1 523.4 517.4 524.1C518.7 524.8 520.1 525.5 521.4 526.3C522.7 527.1 524.1 527.9 525.4 528.7C526.7 529.5 528.1 530.4 529.4 531.3C530.7 532.2 532.1 533.1 533.4 534.1C534.7 535.1 536.1 536.1 537.4 537.2C538.7 538.3 540.1 539.4 541.4 540.5C542.7 541.7 544.1 542.9 545.4 544.1C546.7 545.3 548.1 546.6 549.4 548C550.7 549.3 552.1 550.8 553.4 552.1C554.7 553.5 556.1 554.9 557.4 556.2C558.7 557.5 560.1 558.7 561.4 559.8C562.7 560.9 564.1 562 565.4 563C566.7 564 568.1 565 569.4 565.9C570.7 566.9 572.1 567.7 573.4 568.5C574.7 569.3 576.1 570 577.4 570.7C578.7 571.3 580.1 572 581.4 572.5C582.7 573.1 584.1 573.7 585.4 574.2C586.7 574.6 588.1 575.1 589.4 575.5C590.7 575.8 592.1 576.1 593.4 576.4C594.7 576.7 596.1 577 597.4 577.3C598.7 577.6 600.1 577.8 601.4 578C602.7 578.3 604.1 578.5 605.4 578.7C606.7 578.9 608.1 579.1 609.4 579.3C610.7 579.5 612.1 579.6 613.4 579.8C614.7 579.9 616.1 580 617.4 580.1C618.7 580.3 620.1 580.3 621.4 580.4C622.7 580.5 624.1 580.5 625.4 580.6C626.7 580.6 628.1 580.7 629.4 580.7C630.7 580.8 632.1 580.8 633.4 580.8C634.7 580.9 636.1 580.9 637.4 580.9C638.7 580.9 640.1 581 641.4 581C642.7 581 644.1 581 645.4 581.1C646.7 581.1 648.1 581.1 649.4 581.1C650.7 581.1 652.1 581.2 653.4 581.2C654.7 581.2 656.1 581.2 657.4 581.2C658.7 581.2 660.1 581.3 661.4 581.3C662.7 581.3 664.1 581.3 665.4 581.3C666.7 581.3 668.1 581.3 669.4 581.4C670.7 581.4 672.1 581.4 673.4 581.4C674.7 581.4 676.1 581.4 677.4 581.4C678.7 581.4 680.1 581.5 681.4 581.5C682.7 581.5 684.1 581.5 685.4 581.5C686.7 581.5 688.1 581.5 689.4 581.5C690.7 581.6 692.1 581.6 693.4 581.6C694.7 581.6 696.1 581.6 697.4 581.6C698.7 581.6 700.1 581.7 701.4 581.7C702.7 581.7 704.1 581.7 705.4 581.7C706.7 581.7 708.1 581.8 709.4 581.8C710.7 581.8 712.1 581.8 713.4 581.8C714.7 581.9 716.1 581.9 717.4 581.9C718.7 581.9 720.1 582 721.4 582C722.7 582 724.1 582.1 725.4 582.1C726.7 582.1 728.1 582.1 729.4 582.2C730.7 582.2 732.1 582.2 733.4 582.3C734.7 582.3 736.1 582.3 737.4 582.4C738.7 582.4 740.1 582.4 741.4 582.4C742.7 582.5 744.1 582.5 745.4 582.5C746.7 582.6 748.1 582.6 749.4 582.6C750.7 582.7 752.1 582.7 753.4 582.8C754.7 582.8 756.1 582.8 757.4 582.9C758.7 582.9 760.1 582.9 761.4 583C762.7 583 764.1 583 765.4 583.1C766.7 583.1 768.1 583.1 769.4 583.2C770.7 583.2 772.1 583.2 773.4 583.3C774.7 583.3 776.1 583.3 777.4 583.4C778.7 583.4 780.1 583.4 781.4 583.4C782.7 583.5 784.1 583.5 785.4 583.5C786.7 583.6 788.1 583.6 789.4 583.6C790.7 583.7 792.1 583.7 793.4 583.7C794.7 583.7 796.1 583.8 797.4 583.8C798.7 583.8 800.1 583.9 801.4 583.9C802.7 583.9 804.1 583.9 805.4 584C806.7 584 808.1 584 809.4 584.1C810.7 584.1 812.1 584.1 813.4 584.1C814.7 584.2 816.1 584.2 817.4 584.2C818.7 584.3 820.1 584.3 821.4 584.3C822.7 584.4 824.1 584.4 825.4 584.4C826.7 584.5 828.1 584.5 829.4 584.5C830.7 584.5 832.1 584.6 833.4 584.6C834.7 584.6 836.1 584.7 837.4 584.7C838.7 584.7 840.1 584.8 841.4 584.8C842.7 584.9 844.1 584.9 845.4 584.9C846.7 585 848.1 585 849.4 585C850.7 585.1 852.1 585.1 853.4 585.2C854.7 585.2 856.1 585.2 857.4 585.3C858.7 585.3 860.1 585.4 861.4 585.4C862.7 585.5 864.1 585.5 865.4 585.6C866.7 585.6 868.1 585.6 869.4 585.7C870.7 585.7 872.1 585.8 873.4 585.8C874.7 585.9 876.1 585.9 877.4 586C878.7 586 880.1 586.1 881.4 586.1C882.7 586.2 884.1 586.2 885.4 586.3C886.7 586.3 888.1 586.4 889.4 586.4C890.7 586.5 892.1 586.5 893.4 586.6C894.7 586.7 896.1 586.7 897.4 586.8C898.7 586.8 900.1 586.9 901.4 586.9C902.7 587 904.1 587 905.4 587.1C906.7 587.1 908.1 587.2 909.4 587.2C910.7 587.3 912.1 587.3 913.4 587.4C914.7 587.4 916.1 587.5 917.4 587.5C918.7 587.6 920.1 587.6 921.4 587.7C922.7 587.7 924.1 587.8 925.4 587.8C926.7 587.9 928.1 587.9 929.4 588C930.7 588 932.1 588 933.4 588.1C934.7 588.1 936.1 588.2 937.4 588.2C938.7 588.3 940.1 588.3 941.4 588.4C942.7 588.4 944.1 588.5 945.4 588.5C946.7 588.6 948.1 588.6 949.4 588.7C950.7 588.7 952.1 588.8 953.4 588.8C954.7 588.9 956.1 588.9 957.4 589C958.7 589 960.1 589.1 961.4 589.1C962.7 589.2 964.1 589.2 965.4 589.3C966.7 589.3 968.1 589.4 969.4 589.4C970.7 589.5 972.1 589.5 973.4 589.5C974.7 589.6 976.1 589.6 977.4 589.7C978.7 589.7 980.1 589.8 981.4 589.8C982.7 589.9 984.7 589.9 985.4 590C986.1 590 985.7 590 985.8 590" fill="none" stroke="#8000FF" stroke-width="6" stroke-linecap="round" stroke-linejoin="round"/>
<polygon points="297.4,532.5 314.8,502.4 280,502.4" fill="#8000FF"/>
<polygon points="366.2,534.6 383.6,504.5 348.8,504.5" fill="#8000FF"/>
<polygon points="435.1,535 452.5,504.9 417.7,504.9" fill="#8000FF"/>
<polygon points="503.9,536.1 521.3,506 486.5,506" fill="#8000FF"/>
<polygon points="538.3,548.9 555.7,518.8 520.9,518.8" fill="#8000FF"/>
<polygon points="572.8,599.3 590.2,569.2 555.4,569.2" fill="#8000FF"/>
<polygon points="641.6,600.7 659,570.6 624.2,570.6" fill="#8000FF"/>
<polygon points="710.4,601.6 727.8,571.5 693,571.5" fill="#8000FF"/>
<polygon points="779.3,603.2 796.7,573.1 761.9,573.1" fill="#8000FF"/>
<polygon points="848.1,604.8 865.5,574.7 830.7,574.7" fill="#8000FF"/>
<polygon points="917,607.3 934.4,577.2 899.6,577.2" fill="#8000FF"/>
<polygon points="985.8,609.8 1003.2,579.7 968.4,579.7" fill="#8000FF"/>
<path d="M297.4 513C298.1 513.1 300.1 513.1 301.4 513.2C302.7 513.2 304.1 513.3 305.4 513.3C306.7 513.4 308.1 513.4 309.4 513.5C310.7 513.5 312.1 513.6 313.4 513.6C314.7 513.7 316.1 513.7 317.4 513.7C318.7 513.8 320.1 513.8 321.4 513.9C322.7 513.9 324.1 514 325.4 514C326.7 514.1 328.1 514.1 329.4 514.1C330.7 514.2 332.1 514.2 333.4 514.3C334.7 514.3 336.1 514.3 337.4 514.4C338.7 514.4 340.1 514.5 341.4 514.5C342.7 514.5 344.1 514.6 345.4 514.6C346.7 514.6 348.1 514.7 349.4 514.7C350.7 514.7 352.1 514.8 353.4 514.8C354.7 514.8 356.1 514.8 357.4 514.9C358.7 514.9 360.1 514.9 361.4 514.9C362.7 514.9 364.1 515 365.4 515C366.7 515 368.1 515 369.4 515C370.7 515.1 372.1 515.1 373.4 515.1C374.7 515.1 376.1 515.1 377.4 515.1C378.7 515.1 380.1 515.2 381.4 515.2C382.7 515.2 384.1 515.2 385.4 515.2C386.7 515.2 388.1 515.2 389.4 515.2C390.7 515.3 392.1 515.3 393.4 515.3C394.7 515.3 396.1 515.3 397.4 515.3C398.7 515.3 400.1 515.3 401.4 515.3C402.7 515.3 404.1 515.4 405.4 515.4C406.7 515.4 408.1 515.4 409.4 515.4C410.7 515.4 412.1 515.4 413.4 515.4C414.7 515.4 416.1 515.4 417.4 515.5C418.7 515.5 420.1 515.5 421.4 515.5C422.7 515.5 424.1 515.5 425.4 515.5C426.7 515.5 428.1 515.5 429.4 515.5C430.7 515.6 432.1 515.6 433.4 515.6C434.7 515.6 436.1 515.6 437.4 515.6C438.7 515.6 440.1 515.6 441.4 515.7C442.7 515.7 444.1 515.7 445.4 515.7C446.7 515.7 448.1 515.7 449.4 515.7C450.7 515.8 452.1 515.8 453.4 515.8C454.7 515.8 456.1 515.8 457.4 515.8C458.7 515.8 460.1 515.8 461.4 515.9C462.7 515.9 464.1 515.9 465.4 515.9C466.7 515.9 468.1 515.9 469.4 515.9C470.7 516 472.1 516 473.4 516C474.7 516 476.1 516 477.4 516C478.7 516 480.1 516.1 481.4 516.1C482.7 516.1 484.1 516.1 485.4 516.1C486.7 516.1 488.1 516.1 489.4 516.2C490.7 516.2 492.1 516.2 493.4 516.2C494.7 516.2 496.1 516.2 497.4 516.2C498.7 516.2 500.1 516.3 501.4 516.3C502.7 516.3 504.1 516.3 505.4 516.3C506.7 516.3 508.1 516.3 509.4 516.4C510.7 516.4 512.1 516.4 513.4 516.4C514.7 516.4 516.1 516.4 517.4 516.4C518.7 516.4 520.1 516.5 521.4 516.5C522.7 516.5 524.1 516.5 525.4 516.5C526.7 516.5 528.1 516.5 529.4 516.5C530.7 516.6 532.1 516.6 533.4 516.6C534.7 516.6 536.1 516.6 537.4 516.6C538.7 516.6 540.1 516.6 541.4 516.7C542.7 516.7 544.1 516.7 545.4 516.7C546.7 516.7 548.1 516.7 549.4 516.7C550.7 516.7 552.1 516.8 553.4 516.8C554.7 516.8 556.1 516.8 557.4 516.8C558.7 516.8 560.1 516.8 561.4 516.9C562.7 516.9 564.1 516.9 565.4 516.9C566.7 516.9 568.1 516.9 569.4 517C570.7 517 572.1 517 573.4 517C574.7 517 576.1 517 577.4 517.1C578.7 517.1 580.1 517.1 581.4 517.1C582.7 517.1 584.1 517.2 585.4 517.2C586.7 517.2 588.1 517.2 589.4 517.3C590.7 517.3 592.1 517.3 593.4 517.3C594.7 517.3 596.1 517.4 597.4 517.4C598.7 517.4 600.1 517.4 601.4 517.5C602.7 517.5 604.1 517.5 605.4 517.5C606.7 517.6 608.1 517.6 609.4 517.6C610.7 517.6 612.1 517.7 613.4 517.7C614.7 517.7 616.1 517.7 617.4 517.8C618.7 517.8 620.1 517.8 621.4 517.8C622.7 517.9 624.1 517.9 625.4 517.9C626.7 517.9 628.1 518 629.4 518C630.7 518 632.1 518 633.4 518.1C634.7 518.1 636.1 518.1 637.4 518.1C638.7 518.2 640.1 518.2 641.4 518.2C642.7 518.2 644.1 518.2 645.4 518.3C646.7 518.3 648.1 518.3 649.4 518.3C650.7 518.3 652.1 518.4 653.4 518.4C654.7 518.4 656.1 518.4 657.4 518.4C658.7 518.5 660.1 518.5 661.4 518.5C662.7 518.5 664.1 518.5 665.4 518.6C666.7 518.6 668.1 518.6 669.4 518.6C670.7 518.6 672.1 518.7 673.4 518.7C674.7 518.7 676.1 518.7 677.4 518.7C678.7 518.8 680.1 518.8 681.4 518.8C682.7 518.8 684.1 518.8 685.4 518.9C686.7 518.9 688.1 518.9 689.4 518.9C690.7 518.9 692.1 519 693.4 519C694.7 519 696.1 519 697.4 519C698.7 519 700.1 519.1 701.4 519.1C702.7 519.1 704.1 519.1 705.4 519.1C706.7 519.2 708.1 519.2 709.4 519.2C710.7 519.2 712.1 519.2 713.4 519.2C714.7 519.3 716.1 519.3 717.4 519.3C718.7 519.3 720.1 519.3 721.4 519.3C722.7 519.4 724.1 519.4 725.4 519.4C726.7 519.4 728.1 519.4 729.4 519.4C730.7 519.4 732.1 519.5 733.4 519.5C734.7 519.5 736.1 519.5 737.4 519.5C738.7 519.5 740.1 519.6 741.4 519.6C742.7 519.6 744.1 519.6 745.4 519.6C746.7 519.6 748.1 519.6 749.4 519.7C750.7 519.7 752.1 519.7 753.4 519.7C754.7 519.7 756.1 519.7 757.4 519.7C758.7 519.8 760.1 519.8 761.4 519.8C762.7 519.8 764.1 519.8 765.4 519.8C766.7 519.9 768.1 519.9 769.4 519.9C770.7 519.9 772.1 519.9 773.4 519.9C774.7 519.9 776.1 520 777.4 520C778.7 520 780.1 520 781.4 520C782.7 520 784.1 520.1 785.4 520.1C786.7 520.1 788.1 520.1 789.4 520.1C790.7 520.1 792.1 520.1 793.4 520.2C794.7 520.2 796.1 520.2 797.4 520.2C798.7 520.2 800.1 520.2 801.4 520.2C802.7 520.3 804.1 520.3 805.4 520.3C806.7 520.3 808.1 520.3 809.4 520.3C810.7 520.3 812.1 520.4 813.4 520.4C814.7 520.4 816.1 520.4 817.4 520.4C818.7 520.4 820.1 520.4 821.4 520.5C822.7 520.5 824.1 520.5 825.4 520.5C826.7 520.5 828.1 520.6 829.4 520.6C830.7 520.6 832.1 520.6 833.4 520.6C834.7 520.7 836.1 520.7 837.4 520.7C838.7 520.7 840.1 520.7 841.4 520.8C842.7 520.8 844.1 520.8 845.4 520.8C846.7 520.9 848.1 520.9 849.4 520.9C850.7 521 852.1 521 853.4 521C854.7 521.1 856.1 521.1 857.4 521.2C858.7 521.2 860.1 521.3 861.4 521.3C862.7 521.4 864.1 521.4 865.4 521.5C866.7 521.5 868.1 521.6 869.4 521.7C870.7 521.7 872.1 521.8 873.4 521.9C874.7 521.9 876.1 522 877.4 522.1C878.7 522.2 880.1 522.2 881.4 522.3C882.7 522.4 884.1 522.5 885.4 522.6C886.7 522.6 888.1 522.7 889.4 522.8C890.7 522.9 892.1 523 893.4 523.1C894.7 523.2 896.1 523.2 897.4 523.3C898.7 523.4 900.1 523.5 901.4 523.6C902.7 523.7 904.1 523.8 905.4 523.9C906.7 524 908.1 524.1 909.4 524.3C910.7 524.4 912.1 524.5 913.4 524.6C914.7 524.8 916.1 524.9 917.4 525.1C918.7 525.2 920.1 525.4 921.4 525.6C922.7 525.7 924.1 525.9 925.4 526.1C926.7 526.3 928.1 526.5 929.4 526.7C930.7 526.9 932.1 527.1 933.4 527.3C934.7 527.5 936.1 527.6 937.4 527.8C938.7 528 940.1 528.2 941.4 528.4C942.7 528.6 944.1 528.8 945.4 529C946.7 529.2 948.1 529.4 949.4 529.6C950.7 529.8 952.1 530 953.4 530.2C954.7 530.4 956.1 530.6 957.4 530.8C958.7 531 960.1 531.2 961.4 531.4C962.7 531.6 964.1 531.7 965.4 531.9C966.7 532.1 968.1 532.2 969.4 532.4C970.7 532.5 972.1 532.7 973.4 532.8C974.7 533 976.1 533.1 977.4 533.2C978.7 533.4 980.1 533.5 981.4 533.6C982.7 533.7 984.7 533.9 985.4 533.9C986.1 534 985.7 533.9 985.8 533.9" fill="none" stroke="#8080FF" stroke-width="6" stroke-linecap="round" stroke-linejoin="round"/>
<polygon points="280.9,513.5 308.4,495.3 308.4,531.7" fill="#8080FF"/>
<polygon points="349.7,515 377.2,496.8 377.2,533.2" fill="#8080FF"/>
<polygon points="418.6,515.6 446.1,497.4 446.1,533.8" fill="#8080FF"/>
<polygon points="487.4,516.3 514.9,498.1 514.9,534.5" fill="#8080FF"/>
<polygon points="521.8,516.5 549.3,498.3 549.3,534.7" fill="#8080FF"/>
<polygon points="556.3,517 583.8,498.8 583.8,535.2" fill="#8080FF"/>
<polygon points="625.1,518.2 652.6,500 652.6,536.4" fill="#8080FF"/>
<polygon points="693.9,519.2 721.4,501 721.4,537.4" fill="#8080FF"/>
<polygon points="762.8,520 790.3,501.8 790.3,538.2" fill="#8080FF"/>
<polygon points="831.6,520.9 859.1,502.7 859.1,539.1" fill="#8080FF"/>
<polygon points="900.5,521.7 928,503.5 928,539.9" fill="#8080FF"/>
<polygon points="969.3,534 996.8,515.8 996.8,552.2" fill="#8080FF"/>
<path d="M297.4 412.5C298.1 412.5 300.1 412.6 301.4 412.6C302.7 412.6 304.1 412.7 305.4 412.7C306.7 412.7 308.1 412.7 309.4 412.8C310.7 412.8 312.1 412.8 313.4 412.9C314.7 412.9 316.1 412.9 317.4 413C318.7 413 320.1 413 321.4 413C322.7 413.1 324.1 413.1 325.4 413.1C326.7 413.2 328.1 413.2 329.4 413.2C330.7 413.3 332.1 413.3 333.4 413.3C334.7 413.3 336.1 413.4 337.4 413.4C338.7 413.4 340.1 413.5 341.4 413.5C342.7 413.5 344.1 413.5 345.4 413.6C346.7 413.6 348.1 413.6 349.4 413.7C350.7 413.7 352.1 413.7 353.4 413.7C354.7 413.8 356.1 413.8 357.4 413.8C358.7 413.8 360.1 413.9 361.4 413.9C362.7 413.9 364.1 414 365.4 414C366.7 414 368.1 414 369.4 414.1C370.7 414.1 372.1 414.1 373.4 414.1C374.7 414.1 376.1 414.2 377.4 414.2C378.7 414.2 380.1 414.2 381.4 414.2C382.7 414.2 384.1 414.3 385.4 414.3C386.7 414.3 388.1 414.3 389.4 414.3C390.7 414.3 392.1 414.4 393.4 414.4C394.7 414.4 396.1 414.4 397.4 414.4C398.7 414.4 400.1 414.4 401.4 414.5C402.7 414.5 404.1 414.5 405.4 414.5C406.7 414.5 408.1 414.6 409.4 414.6C410.7 414.6 412.1 414.6 413.4 414.6C414.7 414.7 416.1 414.7 417.4 414.7C418.7 414.8 420.1 414.8 421.4 414.8C422.7 414.9 424.1 414.9 425.4 414.9C426.7 415 428.1 415 429.4 415.1C430.7 415.1 432.1 415.2 433.4 415.3C434.7 415.4 436.1 415.5 437.4 415.7C438.7 415.9 440.1 416.2 441.4 416.6C442.7 416.9 444.1 417.4 445.4 417.7C446.7 418.1 448.1 418.5 449.4 418.8C450.7 419.1 452.1 419.4 453.4 419.7C454.7 420.1 456.1 420.3 457.4 420.6C458.7 420.9 460.1 421.2 461.4 421.6C462.7 421.9 464.1 422.2 465.4 422.6C466.7 423 468.1 423.4 469.4 423.9C470.7 424.3 472.1 424.8 473.4 425.4C474.7 426 476.1 426.6 477.4 427.3C478.7 428 480.1 428.7 481.4 429.5C482.7 430.2 484.1 431 485.4 431.8C486.7 432.6 488.1 433.4 489.4 434.3C490.7 435.2 492.1 436.1 493.4 437.1C494.7 438.2 496.1 439.2 497.4 440.4C498.7 441.6 500.1 442.9 501.4 444.4C502.7 446 504.1 447.7 505.4 449.6C506.7 451.5 508.1 453.7 509.4 455.8C510.7 458 512.1 460.2 513.4 462.4C514.7 464.7 516.1 466.9 517.4 469.2C518.7 471.6 520.1 474 521.4 476.4C522.7 478.8 524.1 481.3 525.4 483.7C526.7 486.1 528.1 488.5 529.4 490.9C530.7 493.2 532.1 495.6 533.4 497.8C534.7 499.9 536.1 502.1 537.4 503.7C538.7 505.4 540.1 506.7 541.4 507.9C542.7 509 544.1 509.9 545.4 510.6C546.7 511.4 548.1 511.9 549.4 512.5C550.7 513 552.1 513.5 553.4 513.9C554.7 514.3 556.1 514.6 557.4 514.9C558.7 515.2 560.1 515.4 561.4 515.5C562.7 515.7 564.1 515.8 565.4 515.9C566.7 516 568.1 516.1 569.4 516.1C570.7 516.2 572.1 516.3 573.4 516.4C574.7 516.4 576.1 516.5 577.4 516.6C578.7 516.6 580.1 516.7 581.4 516.7C582.7 516.8 584.1 516.8 585.4 516.8C586.7 516.9 588.1 516.9 589.4 517C590.7 517 592.1 517 593.4 517.1C594.7 517.1 596.1 517.1 597.4 517.2C598.7 517.2 600.1 517.2 601.4 517.3C602.7 517.3 604.1 517.3 605.4 517.4C606.7 517.4 608.1 517.4 609.4 517.5C610.7 517.5 612.1 517.5 613.4 517.5C614.7 517.6 616.1 517.6 617.4 517.6C618.7 517.6 620.1 517.7 621.4 517.7C622.7 517.7 624.1 517.7 625.4 517.8C626.7 517.8 628.1 517.8 629.4 517.8C630.7 517.8 632.1 517.9 633.4 517.9C634.7 517.9 636.1 517.9 637.4 517.9C638.7 518 640.1 518 641.4 518C642.7 518 644.1 518 645.4 518.1C646.7 518.1 648.1 518.1 649.4 518.1C650.7 518.1 652.1 518.1 653.4 518.2C654.7 518.2 656.1 518.2 657.4 518.2C658.7 518.2 660.1 518.2 661.4 518.3C662.7 518.3 664.1 518.3 665.4 518.3C666.7 518.3 668.1 518.3 669.4 518.4C670.7 518.4 672.1 518.4 673.4 518.4C674.7 518.4 676.1 518.4 677.4 518.4C678.7 518.5 680.1 518.5 681.4 518.5C682.7 518.5 684.1 518.5 685.4 518.5C686.7 518.5 688.1 518.6 689.4 518.6C690.7 518.6 692.1 518.6 693.4 518.6C694.7 518.6 696.1 518.6 697.4 518.7C698.7 518.7 700.1 518.7 701.4 518.7C702.7 518.7 704.1 518.7 705.4 518.7C706.7 518.8 708.1 518.8 709.4 518.8C710.7 518.8 712.1 518.8 713.4 518.8C714.7 518.9 716.1 518.9 717.4 518.9C718.7 518.9 720.1 518.9 721.4 518.9C722.7 518.9 724.1 519 725.4 519C726.7 519 728.1 519 729.4 519C730.7 519 732.1 519 733.4 519.1C734.7 519.1 736.1 519.1 737.4 519.1C738.7 519.1 740.1 519.1 741.4 519.2C742.7 519.2 744.1 519.2 745.4 519.2C746.7 519.2 748.1 519.2 749.4 519.2C750.7 519.3 752.1 519.3 753.4 519.3C754.7 519.3 756.1 519.3 757.4 519.3C758.7 519.4 760.1 519.4 761.4 519.4C762.7 519.4 764.1 519.4 765.4 519.4C766.7 519.4 768.1 519.5 769.4 519.5C770.7 519.5 772.1 519.5 773.4 519.5C774.7 519.5 776.1 519.6 777.4 519.6C778.7 519.6 780.1 519.6 781.4 519.6C782.7 519.6 784.1 519.7 785.4 519.7C786.7 519.7 788.1 519.7 789.4 519.7C790.7 519.7 792.1 519.8 793.4 519.8C794.7 519.8 796.1 519.8 797.4 519.8C798.7 519.8 800.1 519.9 801.4 519.9C802.7 519.9 804.1 519.9 805.4 519.9C806.7 520 808.1 520 809.4 520C810.7 520 812.1 520 813.4 520C814.7 520.1 816.1 520.1 817.4 520.1C818.7 520.1 820.1 520.1 821.4 520.2C822.7 520.2 824.1 520.2 825.4 520.2C826.7 520.2 828.1 520.2 829.4 520.3C830.7 520.3 832.1 520.3 833.4 520.3C834.7 520.3 836.1 520.3 837.4 520.4C838.7 520.4 840.1 520.4 841.4 520.4C842.7 520.4 844.1 520.4 845.4 520.5C846.7 520.5 848.1 520.5 849.4 520.5C850.7 520.5 852.1 520.5 853.4 520.6C854.7 520.6 856.1 520.6 857.4 520.6C858.7 520.6 860.1 520.6 861.4 520.7C862.7 520.7 864.1 520.7 865.4 520.7C866.7 520.7 868.1 520.7 869.4 520.7C870.7 520.7 872.1 520.8 873.4 520.8C874.7 520.8 876.1 520.8 877.4 520.8C878.7 520.8 880.1 520.8 881.4 520.9C882.7 520.9 884.1 520.9 885.4 520.9C886.7 520.9 888.1 520.9 889.4 520.9C890.7 521 892.1 521 893.4 521C894.7 521 896.1 521 897.4 521C898.7 521 900.1 521.1 901.4 521.1C902.7 521.1 904.1 521.1 905.4 521.1C906.7 521.2 908.1 521.2 909.4 521.2C910.7 521.2 912.1 521.2 913.4 521.2C914.7 521.3 916.1 521.3 917.4 521.3C918.7 521.3 920.1 521.4 921.4 521.4C922.7 521.4 924.1 521.4 925.4 521.4C926.7 521.5 928.1 521.5 929.4 521.5C930.7 521.5 932.1 521.6 933.4 521.6C934.7 521.6 936.1 521.7 937.4 521.7C938.7 521.7 940.1 521.7 941.4 521.8C942.7 521.8 944.1 521.8 945.4 521.9C946.7 521.9 948.1 521.9 949.4 522C950.7 522 952.1 522 953.4 522.1C954.7 522.1 956.1 522.1 957.4 522.2C958.7 522.2 960.1 522.2 961.4 522.3C962.7 522.3 964.1 522.4 965.4 522.4C966.7 522.4 968.1 522.5 969.4 522.5C970.7 522.5 972.1 522.6 973.4 522.6C974.7 522.7 976.1 522.7 977.4 522.7C978.7 522.8 980.1 522.8 981.4 522.9C982.7 522.9 984.7 522.9 985.4 523C986.1 523 985.7 523 985.8 523" fill="none" stroke="#FF80FF" stroke-width="6" stroke-linecap="round" stroke-linejoin="round"/>
<polygon points="313.9,412.5 286.4,394.3 286.4,430.7" fill="#FF80FF"/>
<polygon points="382.7,414 355.2,395.8 355.2,432.2" fill="#FF80FF"/>
<polygon points="451.6,415 424.1,396.8 424.1,433.2" fill="#FF80FF"/>
<polygon points="520.4,433 492.9,414.8 492.9,451.2" fill="#FF80FF"/>
<polygon points="554.8,516.8 527.3,498.6 527.3,535" fill="#FF80FF"/>
<polygon points="589.3,517.3 561.8,499.1 561.8,535.5" fill="#FF80FF"/>
<polygon points="658.1,518 630.6,499.8 630.6,536.2" fill="#FF80FF"/>
<polygon points="726.9,518.8 699.4,500.6 699.4,537" fill="#FF80FF"/>
<polygon points="795.8,519.6 768.3,501.4 768.3,537.8" fill="#FF80FF"/>
<polygon points="864.6,520.5 837.1,502.3 837.1,538.7" fill="#FF80FF"/>
<polygon points="933.5,521.3 906,503.1 906,539.5" fill="#FF80FF"/>
<polygon points="1002.3,523 974.8,504.8 974.8,541.2" fill="#FF80FF"/>
<path d="M297.4 412.6C298.1 412.7 300.1 412.7 301.4 412.8C302.7 412.8 304.1 412.9 305.4 412.9C306.7 413 308.1 413.1 309.4 413.1C310.7 413.2 312.1 413.2 313.4 413.3C314.7 413.3 316.1 413.4 317.4 413.4C318.7 413.5 320.1 413.5 321.4 413.6C322.7 413.6 324.1 413.7 325.4 413.7C326.7 413.8 328.1 413.8 329.4 413.9C330.7 413.9 332.1 414 333.4 414C334.7 414.1 336.1 414.1 337.4 414.1C338.7 414.2 340.1 414.2 341.4 414.3C342.7 414.3 344.1 414.3 345.4 414.4C346.7 414.4 348.1 414.4 349.4 414.5C350.7 414.5 352.1 414.5 353.4 414.6C354.7 414.6 356.1 414.6 357.4 414.7C358.7 414.7 360.1 414.7 361.4 414.7C362.7 414.7 364.1 414.8 365.4 414.8C366.7 414.8 368.1 414.8 369.4 414.8C370.7 414.9 372.1 414.9 373.4 414.9C374.7 414.9 376.1 414.9 377.4 414.9C378.7 415 380.1 415 381.4 415C382.7 415 384.1 415 385.4 415C386.7 415 388.1 415 389.4 415.1C390.7 415.1 392.1 415.1 393.4 415.1C394.7 415.1 396.1 415.1 397.4 415.1C398.7 415.1 400.1 415.2 401.4 415.2C402.7 415.2 404.1 415.2 405.4 415.2C406.7 415.2 408.1 415.2 409.4 415.2C410.7 415.2 412.1 415.2 413.4 415.3C414.7 415.3 416.1 415.3 417.4 415.3C418.7 415.3 420.1 415.3 421.4 415.3C422.7 415.3 424.1 415.3 425.4 415.3C426.7 415.3 428.1 415.4 429.4 415.4C430.7 415.4 432.1 415.4 433.4 415.4C434.7 415.4 436.1 415.4 437.4 415.4C438.7 415.4 440.1 415.4 441.4 415.4C442.7 415.5 444.1 415.5 445.4 415.5C446.7 415.5 448.1 415.5 449.4 415.5C450.7 415.5 452.1 415.5 453.4 415.5C454.7 415.5 456.1 415.5 457.4 415.5C458.7 415.5 460.1 415.6 461.4 415.6C462.7 415.6 464.1 415.6 465.4 415.6C466.7 415.6 468.1 415.6 469.4 415.6C470.7 415.6 472.1 415.6 473.4 415.6C474.7 415.6 476.1 415.6 477.4 415.7C478.7 415.7 480.1 415.7 481.4 415.7C482.7 415.7 484.1 415.7 485.4 415.7C486.7 415.7 488.1 415.7 489.4 415.7C490.7 415.7 492.1 415.7 493.4 415.7C494.7 415.7 496.1 415.8 497.4 415.8C498.7 415.8 500.1 415.8 501.4 415.8C502.7 415.8 504.1 415.8 505.4 415.8C506.7 415.8 508.1 415.8 509.4 415.8C510.7 415.8 512.1 415.8 513.4 415.9C514.7 415.9 516.1 415.9 517.4 415.9C518.7 415.9 520.1 415.9 521.4 415.9C522.7 415.9 524.1 415.9 525.4 415.9C526.7 415.9 528.1 415.9 529.4 415.9C530.7 415.9 532.1 416 533.4 416C534.7 416 536.1 416 537.4 416C538.7 416 540.1 416 541.4 416C542.7 416 544.1 416 545.4 416C546.7 416 548.1 416 549.4 416.1C550.7 416.1 552.1 416.1 553.4 416.1C554.7 416.1 556.1 416.1 557.4 416.1C558.7 416.1 560.1 416.1 561.4 416.1C562.7 416.1 564.1 416.1 565.4 416.2C566.7 416.2 568.1 416.2 569.4 416.2C570.7 416.2 572.1 416.2 573.4 416.2C574.7 416.2 576.1 416.2 577.4 416.2C578.7 416.2 580.1 416.3 581.4 416.3C582.7 416.3 584.1 416.3 585.4 416.3C586.7 416.3 588.1 416.3 589.4 416.3C590.7 416.3 592.1 416.4 593.4 416.4C594.7 416.4 596.1 416.4 597.4 416.4C598.7 416.4 600.1 416.4 601.4 416.4C602.7 416.5 604.1 416.5 605.4 416.5C606.7 416.5 608.1 416.5 609.4 416.5C610.7 416.5 612.1 416.5 613.4 416.6C614.7 416.6 616.1 416.6 617.4 416.6C618.7 416.6 620.1 416.6 621.4 416.6C622.7 416.6 624.1 416.7 625.4 416.7C626.7 416.7 628.1 416.7 629.4 416.7C630.7 416.7 632.1 416.7 633.4 416.7C634.7 416.7 636.1 416.8 637.4 416.8C638.7 416.8 640.1 416.8 641.4 416.8C642.7 416.8 644.1 416.8 645.4 416.8C646.7 416.8 648.1 416.8 649.4 416.9C650.7 416.9 652.1 416.9 653.4 416.9C654.7 416.9 656.1 416.9 657.4 416.9C658.7 416.9 660.1 416.9 661.4 416.9C662.7 416.9 664.1 416.9 665.4 416.9C666.7 416.9 668.1 417 669.4 417C670.7 417 672.1 417 673.4 417C674.7 417 676.1 417 677.4 417C678.7 417 680.1 417 681.4 417C682.7 417 684.1 417 685.4 417C686.7 417 688.1 417.1 689.4 417.1C690.7 417.1 692.1 417.1 693.4 417.1C694.7 417.1 696.1 417.1 697.4 417.1C698.7 417.1 700.1 417.1 701.4 417.1C702.7 417.1 704.1 417.2 705.4 417.2C706.7 417.2 708.1 417.2 709.4 417.2C710.7 417.2 712.1 417.2 713.4 417.2C714.7 417.2 716.1 417.2 717.4 417.3C718.7 417.3 720.1 417.3 721.4 417.3C722.7 417.3 724.1 417.3 725.4 417.3C726.7 417.3 728.1 417.4 729.4 417.4C730.7 417.4 732.1 417.4 733.4 417.4C734.7 417.4 736.1 417.4 737.4 417.5C738.7 417.5 740.1 417.5 741.4 417.5C742.7 417.5 744.1 417.5 745.4 417.6C746.7 417.6 748.1 417.6 749.4 417.6C750.7 417.6 752.1 417.7 753.4 417.7C754.7 417.7 756.1 417.7 757.4 417.8C758.7 417.8 760.1 417.8 761.4 417.8C762.7 417.9 764.1 417.9 765.4 417.9C766.7 418 768.1 418 769.4 418C770.7 418.1 772.1 418.1 773.4 418.2C774.7 418.2 776.1 418.3 777.4 418.4C778.7 418.4 780.1 418.5 781.4 418.5C782.7 418.6 784.1 418.7 785.4 418.7C786.7 418.8 788.1 418.9 789.4 419C790.7 419 792.1 419.1 793.4 419.2C794.7 419.3 796.1 419.4 797.4 419.5C798.7 419.6 800.1 419.7 801.4 419.9C802.7 420 804.1 420.2 805.4 420.3C806.7 420.5 808.1 420.6 809.4 420.8C810.7 421 812.1 421.2 813.4 421.4C814.7 421.6 816.1 421.8 817.4 422C818.7 422.2 820.1 422.4 821.4 422.6C822.7 422.8 824.1 423 825.4 423.2C826.7 423.4 828.1 423.6 829.4 423.8C830.7 424 832.1 424.2 833.4 424.5C834.7 424.7 836.1 424.9 837.4 425.2C838.7 425.4 840.1 425.6 841.4 425.9C842.7 426.1 844.1 426.4 845.4 426.7C846.7 427 848.1 427.2 849.4 427.5C850.7 427.8 852.1 428.2 853.4 428.5C854.7 428.8 856.1 429.1 857.4 429.5C858.7 429.9 860.1 430.3 861.4 430.7C862.7 431.2 864.1 431.6 865.4 432.2C866.7 432.7 868.1 433.2 869.4 433.8C870.7 434.4 872.1 435 873.4 435.6C874.7 436.2 876.1 436.8 877.4 437.4C878.7 438 880.1 438.7 881.4 439.3C882.7 440 884.1 440.7 885.4 441.4C886.7 442 888.1 442.7 889.4 443.4C890.7 444.1 892.1 444.9 893.4 445.6C894.7 446.3 896.1 447 897.4 447.7C898.7 448.5 900.1 449.2 901.4 449.9C902.7 450.7 904.1 451.4 905.4 452.2C906.7 452.9 908.1 453.6 909.4 454.3C910.7 455.1 912.1 455.8 913.4 456.5C914.7 457.2 916.1 458 917.4 458.8C918.7 459.6 920.1 460.4 921.4 461.3C922.7 462.1 924.1 463 925.4 464C926.7 464.9 928.1 465.8 929.4 466.8C930.7 467.7 932.1 468.7 933.4 469.7C934.7 470.7 936.1 471.7 937.4 472.8C938.7 473.8 940.1 474.9 941.4 476C942.7 477.1 944.1 478.2 945.4 479.3C946.7 480.4 948.1 481.6 949.4 482.7C950.7 483.8 952.1 485 953.4 486.1C954.7 487.2 956.1 488.4 957.4 489.5C958.7 490.7 960.1 491.9 961.4 493.2C962.7 494.5 964.1 495.8 965.4 497.2C966.7 498.6 968.1 500 969.4 501.6C970.7 503.1 972.1 504.7 973.4 506.3C974.7 507.9 976.1 509.6 977.4 511.4C978.7 513.1 980.1 515.1 981.4 516.7C982.7 518.3 984.7 520.4 985.4 521.3C986.1 522.1 985.7 521.6 985.8 521.6" fill="none" stroke="#008080" stroke-width="6" stroke-linecap="round" stroke-linejoin="round"/>
<polygon points="297.4,394.1 315,412.6 297.4,431.1 279.8,412.6" fill="#008080"/>
<polygon points="366.2,396.5 383.8,415 366.2,433.5 348.6,415" fill="#008080"/>
<polygon points="435.1,397.1 452.7,415.6 435.1,434.1 417.5,415.6" fill="#008080"/>
<polygon points="503.9,398.1 521.5,416.6 503.9,435.1 486.3,416.6" fill="#008080"/>
<polygon points="538.3,398.2 555.9,416.7 538.3,435.2 520.7,416.7" fill="#008080"/>
<polygon points="572.8,398.3 590.4,416.8 572.8,435.3 555.2,416.8" fill="#008080"/>
<polygon points="641.6,399.1 659.2,417.6 641.6,436.1 624,417.6" fill="#008080"/>
<polygon points="710.4,399.1 728,417.6 710.4,436.1 692.8,417.6" fill="#008080"/>
<polygon points="779.3,399.1 796.9,417.6 779.3,436.1 761.7,417.6" fill="#008080"/>
<polygon points="848.1,401.5 865.7,420 848.1,438.5 830.5,420" fill="#008080"/>
<polygon points="917,438.8 934.6,457.3 917,475.8 899.4,457.3" fill="#008080"/>
<polygon points="985.8,504.5 1003.4,523 985.8,541.5 968.2,523" fill="#008080"/>
<path d="M297.4 281.5C298.1 281.5 300.1 281.5 301.4 281.5C302.7 281.5 304.1 281.5 305.4 281.5C306.7 281.5 308.1 281.5 309.4 281.5C310.7 281.5 312.1 281.5 313.4 281.5C314.7 281.6 316.1 281.6 317.4 281.6C318.7 281.6 320.1 281.6 321.4 281.6C322.7 281.6 324.1 281.6 325.4 281.6C326.7 281.7 328.1 281.7 329.4 281.7C330.7 281.7 332.1 281.7 333.4 281.8C334.7 281.8 336.1 281.8 337.4 281.8C338.7 281.8 340.1 281.9 341.4 281.9C342.7 281.9 344.1 281.9 345.4 282C346.7 282 348.1 282 349.4 282C350.7 282.1 352.1 282.1 353.4 282.1C354.7 282.2 356.1 282.2 357.4 282.2C358.7 282.3 360.1 282.3 361.4 282.4C362.7 282.4 364.1 282.4 365.4 282.5C366.7 282.6 368.1 282.6 369.4 282.8C370.7 282.9 372.1 283.1 373.4 283.3C374.7 283.5 376.1 283.8 377.4 284C378.7 284.3 380.1 284.5 381.4 284.8C382.7 285 384.1 285.2 385.4 285.4C386.7 285.6 388.1 285.8 389.4 285.9C390.7 286.1 392.1 286.2 393.4 286.4C394.7 286.5 396.1 286.7 397.4 286.8C398.7 287 400.1 287.1 401.4 287.2C402.7 287.4 404.1 287.6 405.4 287.7C406.7 287.9 408.1 288.1 409.4 288.3C410.7 288.5 412.1 288.7 413.4 289C414.7 289.3 416.1 289.5 417.4 289.9C418.7 290.2 420.1 290.7 421.4 291.2C422.7 291.7 424.1 292.3 425.4 293C426.7 293.6 428.1 294.4 429.4 295.2C430.7 296 432.1 296.9 433.4 297.9C434.7 298.9 436.1 300 437.4 301.3C438.7 302.6 440.1 304.1 441.4 305.7C442.7 307.3 444.1 309.1 445.4 310.8C446.7 312.6 448.1 314.5 449.4 316.4C450.7 318.3 452.1 320.3 453.4 322.5C454.7 324.6 456.1 326.9 457.4 329.3C458.7 331.6 460.1 334 461.4 336.4C462.7 338.8 464.1 341.2 465.4 343.6C466.7 345.9 468.1 348.2 469.4 350.5C470.7 352.8 472.1 355 473.4 357.3C474.7 359.6 476.1 361.9 477.4 364.1C478.7 366.4 480.1 368.7 481.4 370.9C482.7 373.1 484.1 375.3 485.4 377.4C486.7 379.5 488.1 381.4 489.4 383.3C490.7 385.2 492.1 387 493.4 388.7C494.7 390.4 496.1 392 497.4 393.6C498.7 395.1 500.1 396.6 501.4 398C502.7 399.4 504.1 400.7 505.4 402C506.7 403.2 508.1 404.4 509.4 405.5C510.7 406.7 512.1 407.7 513.4 408.7C514.7 409.7 516.1 410.5 517.4 411.3C518.7 412.1 520.1 412.8 521.4 413.3C522.7 413.9 524.1 414.2 525.4 414.6C526.7 414.9 528.1 415.1 529.4 415.4C530.7 415.6 532.1 415.8 533.4 416C534.7 416.1 536.1 416.2 537.4 416.3C538.7 416.4 540.1 416.5 541.4 416.5C542.7 416.6 544.1 416.6 545.4 416.6C546.7 416.7 548.1 416.7 549.4 416.7C550.7 416.7 552.1 416.8 553.4 416.8C554.7 416.8 556.1 416.8 557.4 416.8C558.7 416.9 560.1 416.9 561.4 416.9C562.7 416.9 564.1 416.9 565.4 416.9C566.7 416.9 568.1 417 569.4 417C570.7 417 572.1 417 573.4 417C574.7 417 576.1 417 577.4 417C578.7 417 580.1 417.1 581.4 417.1C582.7 417.1 584.1 417.1 585.4 417.1C586.7 417.1 588.1 417.1 589.4 417.1C590.7 417.1 592.1 417.1 593.4 417.2C594.7 417.2 596.1 417.2 597.4 417.2C598.7 417.2 600.1 417.2 601.4 417.2C602.7 417.2 604.1 417.2 605.4 417.2C606.7 417.2 608.1 417.2 609.4 417.2C610.7 417.2 612.1 417.3 613.4 417.3C614.7 417.3 616.1 417.3 617.4 417.3C618.7 417.3 620.1 417.3 621.4 417.3C622.7 417.3 624.1 417.3 625.4 417.3C626.7 417.3 628.1 417.3 629.4 417.3C630.7 417.3 632.1 417.3 633.4 417.4C634.7 417.4 636.1 417.4 637.4 417.4C638.7 417.4 640.1 417.4 641.4 417.4C642.7 417.4 644.1 417.4 645.4 417.4C646.7 417.4 648.1 417.4 649.4 417.4C650.7 417.5 652.1 417.5 653.4 417.5C654.7 417.5 656.1 417.5 657.4 417.5C658.7 417.5 660.1 417.5 661.4 417.5C662.7 417.5 664.1 417.5 665.4 417.5C666.7 417.6 668.1 417.6 669.4 417.6C670.7 417.6 672.1 417.6 673.4 417.6C674.7 417.6 676.1 417.6 677.4 417.6C678.7 417.6 680.1 417.6 681.4 417.7C682.7 417.7 684.1 417.7 685.4 417.7C686.7 417.7 688.1 417.7 689.4 417.7C690.7 417.7 692.1 417.7 693.4 417.7C694.7 417.7 696.1 417.7 697.4 417.7C698.7 417.7 700.1 417.8 701.4 417.8C702.7 417.8 704.1 417.8 705.4 417.8C706.7 417.8 708.1 417.8 709.4 417.8C710.7 417.8 712.1 417.8 713.4 417.8C714.7 417.8 716.1 417.8 717.4 417.8C718.7 417.8 720.1 417.8 721.4 417.8C722.7 417.8 724.1 417.8 725.4 417.8C726.7 417.9 728.1 417.9 729.4 417.9C730.7 417.9 732.1 417.9 733.4 417.9C734.7 417.9 736.1 417.9 737.4 417.9C738.7 417.9 740.1 417.9 741.4 417.9C742.7 417.9 744.1 417.9 745.4 417.9C746.7 417.9 748.1 417.9 749.4 417.9C750.7 417.9 752.1 417.9 753.4 417.9C754.7 417.9 756.1 417.9 757.4 417.9C758.7 417.9 760.1 417.9 761.4 417.9C762.7 417.9 764.1 417.9 765.4 418C766.7 418 768.1 418 769.4 418C770.7 418 772.1 418 773.4 418C774.7 418 776.1 418 777.4 418C778.7 418 780.1 418 781.4 418C782.7 418 784.1 418 785.4 418C786.7 418 788.1 418 789.4 418C790.7 418 792.1 418.1 793.4 418.1C794.7 418.1 796.1 418.1 797.4 418.1C798.7 418.1 800.1 418.1 801.4 418.1C802.7 418.1 804.1 418.1 805.4 418.1C806.7 418.1 808.1 418.1 809.4 418.1C810.7 418.1 812.1 418.2 813.4 418.2C814.7 418.2 816.1 418.2 817.4 418.2C818.7 418.2 820.1 418.2 821.4 418.2C822.7 418.2 824.1 418.2 825.4 418.2C826.7 418.2 828.1 418.2 829.4 418.3C830.7 418.3 832.1 418.3 833.4 418.3C834.7 418.3 836.1 418.3 837.4 418.3C838.7 418.3 840.1 418.3 841.4 418.3C842.7 418.4 844.1 418.4 845.4 418.4C846.7 418.4 848.1 418.4 849.4 418.4C850.7 418.4 852.1 418.4 853.4 418.5C854.7 418.5 856.1 418.5 857.4 418.5C858.7 418.5 860.1 418.5 861.4 418.6C862.7 418.6 864.1 418.6 865.4 418.6C866.7 418.6 868.1 418.6 869.4 418.7C870.7 418.7 872.1 418.7 873.4 418.7C874.7 418.8 876.1 418.8 877.4 418.8C878.7 418.8 880.1 418.8 881.4 418.9C882.7 418.9 884.1 418.9 885.4 418.9C886.7 419 888.1 419 889.4 419C890.7 419 892.1 419.1 893.4 419.1C894.7 419.1 896.1 419.1 897.4 419.2C898.7 419.2 900.1 419.2 901.4 419.2C902.7 419.3 904.1 419.3 905.4 419.3C906.7 419.3 908.1 419.4 909.4 419.4C910.7 419.4 912.1 419.4 913.4 419.4C914.7 419.5 916.1 419.5 917.4 419.5C918.7 419.5 920.1 419.5 921.4 419.6C922.7 419.6 924.1 419.6 925.4 419.6C926.7 419.6 928.1 419.7 929.4 419.7C930.7 419.7 932.1 419.7 933.4 419.7C934.7 419.8 936.1 419.8 937.4 419.8C938.7 419.8 940.1 419.8 941.4 419.9C942.7 419.9 944.1 419.9 945.4 419.9C946.7 419.9 948.1 420 949.4 420C950.7 420 952.1 420 953.4 420C954.7 420.1 956.1 420.1 957.4 420.1C958.7 420.1 960.1 420.1 961.4 420.2C962.7 420.2 964.1 420.2 965.4 420.2C966.7 420.2 968.1 420.3 969.4 420.3C970.7 420.3 972.1 420.3 973.4 420.3C974.7 420.3 976.1 420.4 977.4 420.4C978.7 420.4 980.1 420.4 981.4 420.4C982.7 420.5 984.7 420.5 985.4 420.5C986.1 420.5 985.7 420.5 985.8 420.5" fill="none" stroke="#F2B90C" stroke-width="6" stroke-linecap="round" stroke-linejoin="round"/>
<polygon points="297.4,264.7 313.6,276.2 307.8,295.9 287,295.9 281.2,276.2" fill="#F2B90C"/>
<polygon points="366.2,266.2 382.4,277.7 376.6,297.4 355.8,297.4 350,277.7" fill="#F2B90C"/>
<polygon points="435.1,266.7 451.3,278.2 445.5,297.9 424.7,297.9 418.9,278.2" fill="#F2B90C"/>
<polygon points="503.9,399.7 520.1,411.2 514.3,430.9 493.5,430.9 487.7,411.2" fill="#F2B90C"/>
<polygon points="538.3,400 554.5,411.5 548.7,431.2 527.9,431.2 522.1,411.5" fill="#F2B90C"/>
<polygon points="572.8,400.2 589,411.7 583.2,431.4 562.4,431.4 556.6,411.7" fill="#F2B90C"/>
<polygon points="641.6,400.7 657.8,412.2 652,431.9 631.2,431.9 625.4,412.2" fill="#F2B90C"/>
<polygon points="710.4,401 726.6,412.5 720.8,432.2 700,432.2 694.2,412.5" fill="#F2B90C"/>
<polygon points="779.3,401.2 795.5,412.7 789.7,432.4 768.9,432.4 763.1,412.7" fill="#F2B90C"/>
<polygon points="848.1,401.5 864.3,413 858.5,432.7 837.7,432.7 831.9,413" fill="#F2B90C"/>
<polygon points="917,403.7 933.2,415.2 927.4,434.9 906.6,434.9 900.8,415.2" fill="#F2B90C"/>
<polygon points="985.8,405.7 1002,417.2 996.2,436.9 975.4,436.9 969.6,417.2" fill="#F2B90C"/>
<path d="M297.4 281.3C298.1 281.3 300.1 281.4 301.4 281.4C302.7 281.4 304.1 281.4 305.4 281.5C306.7 281.5 308.1 281.5 309.4 281.5C310.7 281.6 312.1 281.6 313.4 281.6C314.7 281.6 316.1 281.7 317.4 281.7C318.7 281.7 320.1 281.7 321.4 281.7C322.7 281.8 324.1 281.8 325.4 281.8C326.7 281.8 328.1 281.9 329.4 281.9C330.7 281.9 332.1 281.9 333.4 281.9C334.7 282 336.1 282 337.4 282C338.7 282 340.1 282 341.4 282C342.7 282.1 344.1 282.1 345.4 282.1C346.7 282.1 348.1 282.1 349.4 282.1C350.7 282.2 352.1 282.2 353.4 282.2C354.7 282.2 356.1 282.2 357.4 282.2C358.7 282.2 360.1 282.3 361.4 282.3C362.7 282.3 364.1 282.3 365.4 282.3C366.7 282.3 368.1 282.3 369.4 282.3C370.7 282.3 372.1 282.3 373.4 282.3C374.7 282.4 376.1 282.4 377.4 282.4C378.7 282.4 380.1 282.4 381.4 282.4C382.7 282.4 384.1 282.4 385.4 282.4C386.7 282.4 388.1 282.4 389.4 282.4C390.7 282.4 392.1 282.4 393.4 282.4C394.7 282.4 396.1 282.4 397.4 282.4C398.7 282.4 400.1 282.4 401.4 282.5C402.7 282.5 404.1 282.5 405.4 282.5C406.7 282.5 408.1 282.5 409.4 282.5C410.7 282.5 412.1 282.5 413.4 282.5C414.7 282.5 416.1 282.5 417.4 282.5C418.7 282.5 420.1 282.5 421.4 282.5C422.7 282.5 424.1 282.5 425.4 282.5C426.7 282.6 428.1 282.6 429.4 282.6C430.7 282.6 432.1 282.6 433.4 282.6C434.7 282.6 436.1 282.6 437.4 282.6C438.7 282.6 440.1 282.6 441.4 282.7C442.7 282.7 444.1 282.7 445.4 282.7C446.7 282.7 448.1 282.7 449.4 282.7C450.7 282.8 452.1 282.8 453.4 282.8C454.7 282.8 456.1 282.8 457.4 282.8C458.7 282.9 460.1 282.9 461.4 282.9C462.7 282.9 464.1 282.9 465.4 283C466.7 283 468.1 283 469.4 283C470.7 283.1 472.1 283.1 473.4 283.1C474.7 283.1 476.1 283.1 477.4 283.2C478.7 283.2 480.1 283.2 481.4 283.2C482.7 283.2 484.1 283.3 485.4 283.3C486.7 283.3 488.1 283.3 489.4 283.3C490.7 283.4 492.1 283.4 493.4 283.4C494.7 283.4 496.1 283.4 497.4 283.4C498.7 283.4 500.1 283.5 501.4 283.5C502.7 283.5 504.1 283.5 505.4 283.5C506.7 283.5 508.1 283.5 509.4 283.5C510.7 283.6 512.1 283.6 513.4 283.6C514.7 283.6 516.1 283.6 517.4 283.6C518.7 283.6 520.1 283.6 521.4 283.6C522.7 283.6 524.1 283.7 525.4 283.7C526.7 283.7 528.1 283.7 529.4 283.7C530.7 283.7 532.1 283.7 533.4 283.7C534.7 283.7 536.1 283.7 537.4 283.7C538.7 283.7 540.1 283.8 541.4 283.8C542.7 283.8 544.1 283.8 545.4 283.8C546.7 283.8 548.1 283.8 549.4 283.8C550.7 283.8 552.1 283.8 553.4 283.8C554.7 283.8 556.1 283.8 557.4 283.9C558.7 283.9 560.1 283.9 561.4 283.9C562.7 283.9 564.1 283.9 565.4 283.9C566.7 283.9 568.1 283.9 569.4 283.9C570.7 283.9 572.1 283.9 573.4 283.9C574.7 283.9 576.1 283.9 577.4 284C578.7 284 580.1 284 581.4 284C582.7 284 584.1 284 585.4 284C586.7 284 588.1 284 589.4 284C590.7 284 592.1 284 593.4 284C594.7 284 596.1 284 597.4 284.1C598.7 284.1 600.1 284.1 601.4 284.1C602.7 284.1 604.1 284.1 605.4 284.1C606.7 284.1 608.1 284.1 609.4 284.1C610.7 284.1 612.1 284.1 613.4 284.1C614.7 284.1 616.1 284.1 617.4 284.2C618.7 284.2 620.1 284.2 621.4 284.2C622.7 284.2 624.1 284.2 625.4 284.2C626.7 284.2 628.1 284.2 629.4 284.2C630.7 284.2 632.1 284.2 633.4 284.2C634.7 284.3 636.1 284.3 637.4 284.3C638.7 284.3 640.1 284.3 641.4 284.3C642.7 284.3 644.1 284.3 645.4 284.3C646.7 284.3 648.1 284.3 649.4 284.3C650.7 284.4 652.1 284.4 653.4 284.4C654.7 284.4 656.1 284.4 657.4 284.4C658.7 284.4 660.1 284.4 661.4 284.4C662.7 284.4 664.1 284.4 665.4 284.4C666.7 284.4 668.1 284.4 669.4 284.5C670.7 284.5 672.1 284.5 673.4 284.5C674.7 284.5 676.1 284.5 677.4 284.5C678.7 284.5 680.1 284.5 681.4 284.5C682.7 284.5 684.1 284.5 685.4 284.6C686.7 284.6 688.1 284.6 689.4 284.6C690.7 284.6 692.1 284.6 693.4 284.6C694.7 284.6 696.1 284.6 697.4 284.7C698.7 284.7 700.1 284.7 701.4 284.7C702.7 284.7 704.1 284.7 705.4 284.7C706.7 284.8 708.1 284.8 709.4 284.8C710.7 284.8 712.1 284.8 713.4 284.9C714.7 284.9 716.1 284.9 717.4 284.9C718.7 285 720.1 285 721.4 285.1C722.7 285.1 724.1 285.2 725.4 285.2C726.7 285.3 728.1 285.3 729.4 285.4C730.7 285.5 732.1 285.5 733.4 285.6C734.7 285.7 736.1 285.8 737.4 285.8C738.7 285.9 740.1 286 741.4 286.1C742.7 286.3 744.1 286.4 745.4 286.5C746.7 286.7 748.1 286.9 749.4 287.1C750.7 287.3 752.1 287.5 753.4 287.8C754.7 288 756.1 288.3 757.4 288.5C758.7 288.8 760.1 289.1 761.4 289.3C762.7 289.6 764.1 289.9 765.4 290.3C766.7 290.6 768.1 291 769.4 291.4C770.7 291.8 772.1 292.2 773.4 292.7C774.7 293.2 776.1 293.7 777.4 294.3C778.7 294.8 780.1 295.5 781.4 296.2C782.7 296.9 784.1 297.7 785.4 298.5C786.7 299.3 788.1 300.2 789.4 301.1C790.7 302 792.1 303 793.4 304C794.7 305 796.1 306 797.4 307.1C798.7 308.3 800.1 309.5 801.4 310.7C802.7 311.9 804.1 313.1 805.4 314.4C806.7 315.7 808.1 316.9 809.4 318.2C810.7 319.5 812.1 320.8 813.4 322.1C814.7 323.4 816.1 324.8 817.4 326.1C818.7 327.4 820.1 328.8 821.4 330.1C822.7 331.5 824.1 332.8 825.4 334.2C826.7 335.5 828.1 336.8 829.4 338.2C830.7 339.5 832.1 340.8 833.4 342.1C834.7 343.4 836.1 344.8 837.4 346.1C838.7 347.4 840.1 348.8 841.4 350.2C842.7 351.6 844.1 353 845.4 354.4C846.7 355.9 848.1 357.4 849.4 358.9C850.7 360.4 852.1 361.9 853.4 363.4C854.7 364.9 856.1 366.3 857.4 367.8C858.7 369.2 860.1 370.6 861.4 372C862.7 373.4 864.1 374.8 865.4 376.1C866.7 377.5 868.1 378.8 869.4 380.1C870.7 381.4 872.1 382.7 873.4 383.9C874.7 385.2 876.1 386.4 877.4 387.5C878.7 388.7 880.1 389.8 881.4 390.9C882.7 392 884.1 393.1 885.4 394.2C886.7 395.2 888.1 396.2 889.4 397.2C890.7 398.2 892.1 399.1 893.4 400C894.7 400.9 896.1 401.8 897.4 402.6C898.7 403.4 900.1 404.3 901.4 405C902.7 405.8 904.1 406.5 905.4 407.2C906.7 407.9 908.1 408.6 909.4 409.2C910.7 409.9 912.1 410.5 913.4 411C914.7 411.6 916.1 412.1 917.4 412.7C918.7 413.2 920.1 413.7 921.4 414.1C922.7 414.6 924.1 415 925.4 415.4C926.7 415.8 928.1 416.2 929.4 416.6C930.7 417 932.1 417.3 933.4 417.7C934.7 418 936.1 418.3 937.4 418.6C938.7 418.8 940.1 419.1 941.4 419.3C942.7 419.5 944.1 419.7 945.4 419.8C946.7 420 948.1 420.1 949.4 420.3C950.7 420.4 952.1 420.5 953.4 420.6C954.7 420.7 956.1 420.8 957.4 420.9C958.7 421 960.1 421.1 961.4 421.1C962.7 421.2 964.1 421.3 965.4 421.3C966.7 421.4 968.1 421.5 969.4 421.5C970.7 421.6 972.1 421.6 973.4 421.7C974.7 421.7 976.1 421.7 977.4 421.8C978.7 421.8 980.1 421.8 981.4 421.9C982.7 421.9 984.7 421.9 985.4 421.9C986.1 421.9 985.7 421.9 985.8 421.9" fill="none" stroke="#FF00FF" stroke-width="6" stroke-linecap="round" stroke-linejoin="round"/>
<polygon points="297.4,263.8 311.5,272 311.5,288.2 297.4,296.4 283.3,288.2 283.3,272" fill="#FF00FF"/>
<polygon points="366.2,266 380.3,274.2 380.3,290.4 366.2,298.6 352.1,290.4 352.1,274.2" fill="#FF00FF"/>
<polygon points="435.1,266.2 449.2,274.4 449.2,290.6 435.1,298.8 421,290.6 421,274.4" fill="#FF00FF"/>
<polygon points="503.9,268.1 518,276.2 518,292.5 503.9,300.7 489.8,292.5 489.8,276.2" fill="#FF00FF"/>
<polygon points="538.3,268.3 552.4,276.5 552.4,292.8 538.3,300.9 524.2,292.8 524.2,276.5" fill="#FF00FF"/>
<polygon points="572.8,268.3 586.9,276.5 586.9,292.8 572.8,300.9 558.7,292.8 558.7,276.5" fill="#FF00FF"/>
<polygon points="641.6,268.5 655.7,276.7 655.7,292.9 641.6,301.1 627.5,292.9 627.5,276.7" fill="#FF00FF"/>
<polygon points="710.4,268.7 724.5,276.9 724.5,293.1 710.4,301.3 696.3,293.1 696.3,276.9" fill="#FF00FF"/>
<polygon points="779.3,269.2 793.4,277.4 793.4,293.6 779.3,301.8 765.2,293.6 765.2,277.4" fill="#FF00FF"/>
<polygon points="848.1,343.7 862.2,351.9 862.2,368.1 848.1,376.3 834,368.1 834,351.9" fill="#FF00FF"/>
<polygon points="917,404.2 931.1,412.4 931.1,428.6 917,436.8 902.9,428.6 902.9,412.4" fill="#FF00FF"/>
<polygon points="985.8,406.2 999.9,414.4 999.9,430.6 985.8,438.8 971.7,430.6 971.7,414.4" fill="#FF00FF"/>
<path d="M297.4 141C298.1 141 300.1 141 301.4 141C302.7 141 304.1 141 305.4 141C306.7 141 308.1 141.1 309.4 141.1C310.7 141.1 312.1 141.1 313.4 141.1C314.7 141.1 316.1 141.2 317.4 141.2C318.7 141.2 320.1 141.2 321.4 141.3C322.7 141.3 324.1 141.3 325.4 141.4C326.7 141.4 328.1 141.4 329.4 141.5C330.7 141.5 332.1 141.6 333.4 141.6C334.7 141.7 336.1 141.7 337.4 141.8C338.7 141.8 340.1 141.9 341.4 141.9C342.7 142 344.1 142 345.4 142.1C346.7 142.2 348.1 142.2 349.4 142.3C350.7 142.4 352.1 142.4 353.4 142.5C354.7 142.6 356.1 142.7 357.4 142.7C358.7 142.8 360.1 142.9 361.4 143C362.7 143.1 364.1 143.1 365.4 143.3C366.7 143.4 368.1 143.5 369.4 143.7C370.7 143.9 372.1 144.2 373.4 144.5C374.7 144.8 376.1 145.1 377.4 145.5C378.7 145.8 380.1 146.2 381.4 146.6C382.7 147 384.1 147.4 385.4 147.8C386.7 148.2 388.1 148.7 389.4 149.1C390.7 149.6 392.1 150.1 393.4 150.6C394.7 151.1 396.1 151.7 397.4 152.2C398.7 152.7 400.1 153.2 401.4 153.7C402.7 154.2 404.1 154.7 405.4 155.2C406.7 155.7 408.1 156.2 409.4 156.7C410.7 157.2 412.1 157.8 413.4 158.4C414.7 159 416.1 159.6 417.4 160.3C418.7 161 420.1 161.7 421.4 162.6C422.7 163.4 424.1 164.3 425.4 165.3C426.7 166.2 428.1 167.3 429.4 168.5C430.7 169.7 432.1 171 433.4 172.4C434.7 173.8 436.1 175.3 437.4 176.9C438.7 178.4 440.1 180.1 441.4 181.7C442.7 183.4 444.1 185.1 445.4 186.8C446.7 188.5 448.1 190.2 449.4 192C450.7 193.8 452.1 195.6 453.4 197.4C454.7 199.3 456.1 201.2 457.4 203.1C458.7 205 460.1 206.9 461.4 208.8C462.7 210.7 464.1 212.7 465.4 214.6C466.7 216.5 468.1 218.4 469.4 220.4C470.7 222.3 472.1 224.2 473.4 226.2C474.7 228.1 476.1 230.1 477.4 232C478.7 233.9 480.1 235.9 481.4 237.8C482.7 239.8 484.1 241.7 485.4 243.6C486.7 245.6 488.1 247.6 489.4 249.6C490.7 251.7 492.1 253.8 493.4 255.8C494.7 257.8 496.1 259.8 497.4 261.6C498.7 263.4 500.1 265.1 501.4 266.6C502.7 268.1 504.1 269.4 505.4 270.5C506.7 271.7 508.1 272.6 509.4 273.5C510.7 274.4 512.1 275.2 513.4 275.9C514.7 276.6 516.1 277.2 517.4 277.8C518.7 278.3 520.1 278.8 521.4 279.3C522.7 279.8 524.1 280.2 525.4 280.6C526.7 281 528.1 281.5 529.4 281.8C530.7 282.1 532.1 282.4 533.4 282.6C534.7 282.7 536.1 282.8 537.4 282.9C538.7 282.9 540.1 282.9 541.4 283C542.7 283 544.1 283 545.4 283C546.7 283.1 548.1 283.1 549.4 283.1C550.7 283.1 552.1 283.1 553.4 283.2C554.7 283.2 556.1 283.2 557.4 283.2C558.7 283.2 560.1 283.2 561.4 283.2C562.7 283.2 564.1 283.3 565.4 283.3C566.7 283.3 568.1 283.3 569.4 283.3C570.7 283.3 572.1 283.3 573.4 283.3C574.7 283.3 576.1 283.3 577.4 283.3C578.7 283.3 580.1 283.3 581.4 283.3C582.7 283.3 584.1 283.4 585.4 283.4C586.7 283.4 588.1 283.4 589.4 283.4C590.7 283.4 592.1 283.4 593.4 283.4C594.7 283.4 596.1 283.4 597.4 283.4C598.7 283.4 600.1 283.4 601.4 283.4C602.7 283.4 604.1 283.4 605.4 283.4C606.7 283.4 608.1 283.4 609.4 283.5C610.7 283.5 612.1 283.5 613.4 283.5C614.7 283.5 616.1 283.5 617.4 283.5C618.7 283.5 620.1 283.5 621.4 283.5C622.7 283.5 624.1 283.5 625.4 283.5C626.7 283.5 628.1 283.5 629.4 283.5C630.7 283.5 632.1 283.5 633.4 283.5C634.7 283.5 636.1 283.5 637.4 283.5C638.7 283.5 640.1 283.5 641.4 283.5C642.7 283.5 644.1 283.5 645.4 283.5C646.7 283.5 648.1 283.5 649.4 283.5C650.7 283.5 652.1 283.5 653.4 283.5C654.7 283.5 656.1 283.5 657.4 283.5C658.7 283.5 660.1 283.5 661.4 283.5C662.7 283.5 664.1 283.5 665.4 283.5C666.7 283.5 668.1 283.5 669.4 283.5C670.7 283.5 672.1 283.5 673.4 283.5C674.7 283.5 676.1 283.5 677.4 283.5C678.7 283.5 680.1 283.5 681.4 283.5C682.7 283.5 684.1 283.5 685.4 283.5C686.7 283.5 688.1 283.5 689.4 283.5C690.7 283.5 692.1 283.5 693.4 283.5C694.7 283.5 696.1 283.5 697.4 283.5C698.7 283.5 700.1 283.5 701.4 283.5C702.7 283.5 704.1 283.5 705.4 283.5C706.7 283.5 708.1 283.5 709.4 283.5C710.7 283.5 712.1 283.5 713.4 283.5C714.7 283.5 716.1 283.5 717.4 283.5C718.7 283.5 720.1 283.5 721.4 283.5C722.7 283.5 724.1 283.5 725.4 283.5C726.7 283.6 728.1 283.6 729.4 283.6C730.7 283.6 732.1 283.6 733.4 283.6C734.7 283.6 736.1 283.6 737.4 283.6C738.7 283.7 740.1 283.7 741.4 283.7C742.7 283.7 744.1 283.7 745.4 283.8C746.7 283.8 748.1 283.8 749.4 283.8C750.7 283.8 752.1 283.9 753.4 283.9C754.7 283.9 756.1 283.9 757.4 284C758.7 284 760.1 284 761.4 284.1C762.7 284.1 764.1 284.2 765.4 284.2C766.7 284.3 768.1 284.4 769.4 284.5C770.7 284.6 772.1 284.7 773.4 284.9C774.7 285 776.1 285.1 777.4 285.3C778.7 285.4 780.1 285.6 781.4 285.9C782.7 286.1 784.1 286.3 785.4 286.6C786.7 286.9 788.1 287.2 789.4 287.5C790.7 287.8 792.1 288.1 793.4 288.4C794.7 288.7 796.1 289 797.4 289.3C798.7 289.7 800.1 290 801.4 290.4C802.7 290.7 804.1 291.1 805.4 291.5C806.7 291.9 808.1 292.3 809.4 292.7C810.7 293.1 812.1 293.5 813.4 293.9C814.7 294.3 816.1 294.7 817.4 295.2C818.7 295.6 820.1 296.1 821.4 296.5C822.7 297 824.1 297.4 825.4 297.9C826.7 298.4 828.1 298.9 829.4 299.4C830.7 299.9 832.1 300.4 833.4 300.9C834.7 301.5 836.1 302 837.4 302.6C838.7 303.1 840.1 303.7 841.4 304.3C842.7 304.9 844.1 305.5 845.4 306.1C846.7 306.8 848.1 307.4 849.4 308.1C850.7 308.7 852.1 309.4 853.4 310.1C854.7 310.8 856.1 311.5 857.4 312.2C858.7 312.9 860.1 313.6 861.4 314.3C862.7 315 864.1 315.7 865.4 316.4C866.7 317.1 868.1 317.8 869.4 318.6C870.7 319.3 872.1 320.1 873.4 320.9C874.7 321.7 876.1 322.5 877.4 323.4C878.7 324.2 880.1 325.1 881.4 326C882.7 326.9 884.1 327.9 885.4 328.9C886.7 329.8 888.1 330.8 889.4 331.8C890.7 332.8 892.1 333.8 893.4 334.8C894.7 335.8 896.1 336.9 897.4 338C898.7 339.1 900.1 340.2 901.4 341.2C902.7 342.3 904.1 343.4 905.4 344.5C906.7 345.5 908.1 346.5 909.4 347.5C910.7 348.5 912.1 349.5 913.4 350.4C914.7 351.4 916.1 352.3 917.4 353.2C918.7 354.1 920.1 355.1 921.4 356C922.7 356.9 924.1 357.8 925.4 358.8C926.7 359.7 928.1 360.7 929.4 361.6C930.7 362.6 932.1 363.5 933.4 364.4C934.7 365.4 936.1 366.3 937.4 367.2C938.7 368.1 940.1 369 941.4 369.8C942.7 370.7 944.1 371.5 945.4 372.3C946.7 373.1 948.1 373.9 949.4 374.7C950.7 375.5 952.1 376.2 953.4 377C954.7 377.8 956.1 378.6 957.4 379.5C958.7 380.3 960.1 381.1 961.4 382C962.7 382.8 964.1 383.7 965.4 384.6C966.7 385.4 968.1 386.3 969.4 387.2C970.7 388.1 972.1 388.9 973.4 389.8C974.7 390.7 976.1 391.6 977.4 392.4C978.7 393.3 980.1 394.3 981.4 395C982.7 395.8 984.7 396.8 985.4 397.2C986.1 397.6 985.7 397.3 985.8 397.4" fill="none" stroke="#00FF00" stroke-width="6" stroke-linecap="round" stroke-linejoin="round"/>
<polygon points="297.4,124.9 301.9,135.4 313.2,136.4 304.6,143.8 307.2,154.9 297.4,149.1 287.6,154.9 290.2,143.8 281.6,136.4 292.9,135.4" fill="#00FF00"/>
<polygon points="366.2,127.4 370.7,137.9 382,138.9 373.4,146.3 376,157.4 366.2,151.6 356.4,157.4 359,146.3 350.4,138.9 361.7,137.9" fill="#00FF00"/>
<polygon points="435.1,139.6 439.6,150.1 450.9,151.1 442.3,158.5 444.9,169.6 435.1,163.8 425.3,169.6 427.9,158.5 419.3,151.1 430.6,150.1" fill="#00FF00"/>
<polygon points="503.9,266.4 508.4,276.9 519.7,277.9 511.1,285.3 513.7,296.4 503.9,290.6 494.1,296.4 496.7,285.3 488.1,277.9 499.4,276.9" fill="#00FF00"/>
<polygon points="538.3,267.4 542.8,277.9 554.1,278.9 545.5,286.3 548.1,297.4 538.3,291.6 528.5,297.4 531.1,286.3 522.5,278.9 533.8,277.9" fill="#00FF00"/>
<polygon points="572.8,267.4 577.3,277.9 588.6,278.9 580,286.3 582.6,297.4 572.8,291.6 563,297.4 565.6,286.3 557,278.9 568.3,277.9" fill="#00FF00"/>
<polygon points="641.6,266.9 646.1,277.4 657.4,278.4 648.8,285.8 651.4,296.9 641.6,291.1 631.8,296.9 634.4,285.8 625.8,278.4 637.1,277.4" fill="#00FF00"/>
<polygon points="710.4,266.4 714.9,276.9 726.2,277.9 717.6,285.3 720.2,296.4 710.4,290.6 700.6,296.4 703.2,285.3 694.6,277.9 705.9,276.9" fill="#00FF00"/>
<polygon points="779.3,266.9 783.8,277.4 795.1,278.4 786.5,285.8 789.1,296.9 779.3,291.1 769.5,296.9 772.1,285.8 763.5,278.4 774.8,277.4" fill="#00FF00"/>
<polygon points="848.1,285.4 852.6,295.9 863.9,296.9 855.3,304.3 857.9,315.4 848.1,309.6 838.3,315.4 840.9,304.3 832.3,296.9 843.6,295.9" fill="#00FF00"/>
<polygon points="917,337.9 921.5,348.4 932.8,349.4 924.2,356.8 926.8,367.9 917,362.1 907.2,367.9 909.8,356.8 901.2,349.4 912.5,348.4" fill="#00FF00"/>
<polygon points="985.8,381.4 990.3,391.9 1001.6,392.9 993,400.3 995.6,411.4 985.8,405.6 976,411.4 978.6,400.3 970,392.9 981.3,391.9" fill="#00FF00"/>
<path d="M1261.1 595C1261.8 595 1263.8 595.1 1265.1 595.1C1266.4 595.1 1267.8 595.1 1269.1 595.2C1270.4 595.2 1271.8 595.2 1273.1 595.3C1274.4 595.3 1275.8 595.3 1277.1 595.3C1278.4 595.4 1279.8 595.4 1281.1 595.4C1282.4 595.4 1283.8 595.5 1285.1 595.5C1286.4 595.5 1287.8 595.5 1289.1 595.6C1290.4 595.6 1291.8 595.6 1293.1 595.6C1294.4 595.7 1295.8 595.7 1297.1 595.7C1298.4 595.7 1299.8 595.8 1301.1 595.8C1302.4 595.8 1303.8 595.8 1305.1 595.9C1306.4 595.9 1307.8 595.9 1309.1 595.9C1310.4 595.9 1311.8 596 1313.1 596C1314.4 596 1315.8 596 1317.1 596C1318.4 596 1319.8 596.1 1321.1 596.1C1322.4 596.1 1323.8 596.1 1325.1 596.1C1326.4 596.1 1327.8 596.2 1329.1 596.2C1330.4 596.2 1331.8 596.2 1333.1 596.2C1334.4 596.2 1335.8 596.2 1337.1 596.2C1338.4 596.3 1339.8 596.3 1341.1 596.3C1342.4 596.3 1343.8 596.3 1345.1 596.3C1346.4 596.3 1347.8 596.3 1349.1 596.3C1350.4 596.3 1351.8 596.3 1353.1 596.3C1354.4 596.3 1355.8 596.3 1357.1 596.3C1358.4 596.3 1359.8 596.3 1361.1 596.3C1362.4 596.4 1363.8 596.4 1365.1 596.4C1366.4 596.4 1367.8 596.4 1369.1 596.4C1370.4 596.4 1371.8 596.4 1373.1 596.4C1374.4 596.4 1375.8 596.4 1377.1 596.4C1378.4 596.4 1379.8 596.4 1381.1 596.4C1382.4 596.4 1383.8 596.4 1385.1 596.4C1386.4 596.4 1387.8 596.4 1389.1 596.4C1390.4 596.4 1391.8 596.4 1393.1 596.4C1394.4 596.4 1395.8 596.4 1397.1 596.4C1398.4 596.4 1399.8 596.4 1401.1 596.4C1402.4 596.4 1403.8 596.4 1405.1 596.4C1406.4 596.4 1407.8 596.4 1409.1 596.5C1410.4 596.5 1411.8 596.5 1413.1 596.5C1414.4 596.5 1415.8 596.5 1417.1 596.5C1418.4 596.5 1419.8 596.5 1421.1 596.5C1422.4 596.5 1423.8 596.5 1425.1 596.5C1426.4 596.5 1427.8 596.5 1429.1 596.5C1430.4 596.5 1431.8 596.5 1433.1 596.5C1434.4 596.5 1435.8 596.5 1437.1 596.5C1438.4 596.5 1439.8 596.5 1441.1 596.5C1442.4 596.5 1443.8 596.5 1445.1 596.5C1446.4 596.5 1447.8 596.5 1449.1 596.5C1450.4 596.5 1451.8 596.5 1453.1 596.5C1454.4 596.5 1455.8 596.5 1457.1 596.5C1458.4 596.5 1459.8 596.5 1461.1 596.5C1462.4 596.5 1463.8 596.6 1465.1 596.6C1466.4 596.6 1467.8 596.6 1469.1 596.6C1470.4 596.6 1471.8 596.6 1473.1 596.6C1474.4 596.6 1475.8 596.6 1477.1 596.7C1478.4 596.7 1479.8 596.8 1481.1 597C1482.4 597.1 1483.8 597.3 1485.1 597.5C1486.4 597.7 1487.8 598 1489.1 598.3C1490.4 598.6 1491.8 598.9 1493.1 599.3C1494.4 599.7 1495.8 600.1 1497.1 600.6C1498.4 601.2 1499.8 601.9 1501.1 602.6C1502.4 603.2 1503.8 604 1505.1 604.8C1506.4 605.6 1507.8 606.3 1509.1 607.3C1510.4 608.3 1511.8 609.3 1513.1 610.7C1514.4 612.1 1515.8 613.8 1517.1 615.9C1518.4 617.9 1519.8 620.4 1521.1 623C1522.4 625.5 1523.8 628.3 1525.1 631.2C1526.4 634.1 1527.8 637 1529.1 640.1C1530.4 643.2 1531.8 646.6 1533.1 650C1534.4 653.3 1535.8 656.8 1537.1 660.2C1538.4 663.6 1539.8 666.9 1541.1 670.2C1542.4 673.6 1543.8 676.8 1545.1 680.2C1546.4 683.6 1547.8 687 1549.1 690.5C1550.4 694.1 1551.8 697.8 1553.1 701.6C1554.4 705.3 1555.8 709.3 1557.1 713.1C1558.4 716.9 1559.8 720.8 1561.1 724.5C1562.4 728.3 1563.8 731.9 1565.1 735.5C1566.4 739.1 1567.8 742.6 1569.1 746.1C1570.4 749.6 1571.8 753.1 1573.1 756.5C1574.4 760 1575.8 763.4 1577.1 766.8C1578.4 770.2 1579.8 773.6 1581.1 777.1C1582.4 780.5 1583.8 783.9 1585.1 787.5C1586.4 791 1587.8 794.5 1589.1 798.1C1590.4 801.7 1591.8 805.5 1593.1 809.1C1594.4 812.7 1595.8 816.4 1597.1 819.9C1598.4 823.4 1599.8 826.8 1601.1 830C1602.4 833.3 1603.8 836.3 1605.1 839.1C1606.4 842 1607.8 844.6 1609.1 847.2C1610.4 849.7 1611.8 852.1 1613.1 854.4C1614.4 856.7 1615.8 858.9 1617.1 861.1C1618.4 863.3 1619.8 865.4 1621.1 867.5C1622.4 869.6 1623.8 871.7 1625.1 873.8C1626.4 875.9 1627.8 878 1629.1 880.2C1630.4 882.4 1631.8 884.6 1633.1 886.8C1634.4 889.1 1635.8 891.5 1637.1 893.8C1638.4 896.2 1639.8 898.7 1641.1 901.1C1642.4 903.6 1643.8 906 1645.1 908.5C1646.4 911 1647.8 913.5 1649.1 916.1C1650.4 918.6 1651.8 921.1 1653.1 923.7C1654.4 926.2 1655.8 928.7 1657.1 931.3C1658.4 933.8 1659.8 936.3 1661.1 938.9C1662.4 941.4 1663.8 943.9 1665.1 946.5C1666.4 949 1667.8 951.6 1669.1 954.2C1670.4 956.8 1671.8 959.5 1673.1 962.2C1674.4 964.8 1675.8 967.5 1677.1 970.1C1678.4 972.7 1679.8 975.4 1681.1 977.9C1682.4 980.4 1683.8 982.9 1685.1 985.3C1686.4 987.7 1687.8 990 1689.1 992.2C1690.4 994.4 1691.8 996.4 1693.1 998.3C1694.4 1000.3 1695.8 1002 1697.1 1003.8C1698.4 1005.6 1699.8 1007.3 1701.1 1009.1C1702.4 1010.9 1703.8 1012.7 1705.1 1014.6C1706.4 1016.5 1707.8 1018.4 1709.1 1020.2C1710.4 1022.1 1711.8 1024 1713.1 1025.9C1714.4 1027.8 1715.8 1029.7 1717.1 1031.6C1718.4 1033.5 1719.8 1035.4 1721.1 1037.2C1722.4 1039 1723.8 1040.8 1725.1 1042.6C1726.4 1044.3 1727.8 1046 1729.1 1047.7C1730.4 1049.4 1731.8 1051 1733.1 1052.6C1734.4 1054.2 1735.8 1055.8 1737.1 1057.4C1738.4 1059 1739.8 1060.5 1741.1 1062.1C1742.4 1063.6 1743.8 1065.2 1745.1 1066.8C1746.4 1068.4 1747.8 1069.9 1749.1 1071.6C1750.4 1073.2 1751.8 1074.8 1753.1 1076.5C1754.4 1078.2 1755.8 1080 1757.1 1081.8C1758.4 1083.6 1759.8 1085.4 1761.1 1087.3C1762.4 1089.1 1763.8 1090.9 1765.1 1092.7C1766.4 1094.5 1767.8 1096.3 1769.1 1098C1770.4 1099.7 1771.8 1101.4 1773.1 1102.9C1774.4 1104.4 1775.8 1105.8 1777.1 1107.2C1778.4 1108.5 1779.8 1109.6 1781.1 1110.8C1782.4 1111.9 1783.8 1112.9 1785.1 1113.9C1786.4 1115 1787.8 1116 1789.1 1117.2C1790.4 1118.3 1791.8 1119.4 1793.1 1120.6C1794.4 1121.8 1795.8 1123 1797.1 1124.2C1798.4 1125.4 1799.8 1126.7 1801.1 1127.9C1802.4 1129.1 1803.8 1130.4 1805.1 1131.6C1806.4 1132.8 1807.8 1134 1809.1 1135.2C1810.4 1136.4 1811.8 1137.6 1813.1 1138.7C1814.4 1139.8 1815.8 1141 1817.1 1142C1818.4 1143.1 1819.8 1144.1 1821.1 1145.2C1822.4 1146.2 1823.8 1147.2 1825.1 1148.2C1826.4 1149.2 1827.8 1150.2 1829.1 1151.2C1830.4 1152.3 1831.8 1153.3 1833.1 1154.4C1834.4 1155.5 1835.8 1156.6 1837.1 1157.8C1838.4 1159.1 1839.8 1160.3 1841.1 1161.7C1842.4 1163.1 1843.8 1164.5 1845.1 1166.1C1846.4 1167.6 1847.8 1169.2 1849.1 1170.8C1850.4 1172.4 1851.8 1174.1 1853.1 1175.7C1854.4 1177.3 1855.8 1178.9 1857.1 1180.4C1858.4 1181.9 1859.8 1183.3 1861.1 1184.6C1862.4 1185.9 1863.8 1187.1 1865.1 1188.3C1866.4 1189.4 1867.8 1190.5 1869.1 1191.5C1870.4 1192.6 1871.8 1193.6 1873.1 1194.5C1874.4 1195.5 1875.8 1196.4 1877.1 1197.3C1878.4 1198.2 1879.8 1199.1 1881.1 1199.9C1882.4 1200.8 1883.8 1201.6 1885.1 1202.5C1886.4 1203.3 1887.8 1204.2 1889.1 1205C1890.4 1205.8 1891.8 1206.6 1893.1 1207.5C1894.4 1208.3 1895.8 1209.2 1897.1 1210.1C1898.4 1210.9 1899.8 1211.8 1901.1 1212.7C1902.4 1213.7 1903.8 1214.6 1905.1 1215.6C1906.4 1216.5 1907.8 1217.5 1909.1 1218.5C1910.4 1219.5 1911.8 1220.6 1913.1 1221.6C1914.4 1222.6 1915.8 1223.6 1917.1 1224.7C1918.4 1225.7 1919.8 1226.8 1921.1 1227.8C1922.4 1228.9 1923.8 1229.9 1925.1 1231C1926.4 1232.1 1927.8 1233.2 1929.1 1234.2C1930.4 1235.3 1931.8 1236.4 1933.1 1237.5C1934.4 1238.6 1935.8 1239.8 1937.1 1240.9C1938.4 1242 1939.8 1243.1 1941.1 1244.3C1942.4 1245.4 1943.8 1246.6 1945.1 1247.7C1946.4 1248.7 1948.4 1249.9 1949.1 1250.4C1949.8 1251 1949.4 1250.6 1949.5 1250.7" fill="none" stroke="#0080FF" stroke-width="6" stroke-linecap="round" stroke-linejoin="round"/>
<rect x="1248" y="581.8" width="26.2" height="26.2" fill="#0080FF"/>
<rect x="1334.1" y="583.1" width="26.2" height="26.2" fill="#0080FF"/>
<rect x="1420.1" y="583.1" width="26.2" height="26.2" fill="#0080FF"/>
<rect x="1463.1" y="583.1" width="26.2" height="26.2" fill="#0080FF"/>
<rect x="1506.2" y="585.9" width="26.2" height="26.2" fill="#0080FF"/>
<rect x="1549.2" y="717.3" width="26.2" height="26.2" fill="#0080FF"/>
<rect x="1592.2" y="826.7" width="26.2" height="26.2" fill="#0080FF"/>
<rect x="1678.3" y="985.8" width="26.2" height="26.2" fill="#0080FF"/>
<rect x="1764.3" y="1094.5" width="26.2" height="26.2" fill="#0080FF"/>
<rect x="1850.4" y="1175.5" width="26.2" height="26.2" fill="#0080FF"/>
<rect x="1936.4" y="1238.4" width="26.2" height="26.2" fill="#0080FF"/>
<path d="M1261.1 575.2C1261.8 575.2 1263.8 575.3 1265.1 575.3C1266.4 575.3 1267.8 575.3 1269.1 575.4C1270.4 575.4 1271.8 575.4 1273.1 575.4C1274.4 575.5 1275.8 575.5 1277.1 575.5C1278.4 575.5 1279.8 575.6 1281.1 575.6C1282.4 575.6 1283.8 575.6 1285.1 575.7C1286.4 575.7 1287.8 575.7 1289.1 575.7C1290.4 575.8 1291.8 575.8 1293.1 575.8C1294.4 575.8 1295.8 575.9 1297.1 575.9C1298.4 575.9 1299.8 575.9 1301.1 575.9C1302.4 576 1303.8 576 1305.1 576C1306.4 576 1307.8 576 1309.1 576.1C1310.4 576.1 1311.8 576.1 1313.1 576.1C1314.4 576.1 1315.8 576.2 1317.1 576.2C1318.4 576.2 1319.8 576.2 1321.1 576.2C1322.4 576.2 1323.8 576.2 1325.1 576.3C1326.4 576.3 1327.8 576.3 1329.1 576.3C1330.4 576.3 1331.8 576.3 1333.1 576.3C1334.4 576.3 1335.8 576.3 1337.1 576.4C1338.4 576.4 1339.8 576.4 1341.1 576.4C1342.4 576.4 1343.8 576.4 1345.1 576.4C1346.4 576.4 1347.8 576.4 1349.1 576.4C1350.4 576.4 1351.8 576.4 1353.1 576.4C1354.4 576.4 1355.8 576.4 1357.1 576.4C1358.4 576.4 1359.8 576.4 1361.1 576.4C1362.4 576.4 1363.8 576.4 1365.1 576.4C1366.4 576.4 1367.8 576.4 1369.1 576.4C1370.4 576.4 1371.8 576.4 1373.1 576.4C1374.4 576.4 1375.8 576.4 1377.1 576.4C1378.4 576.4 1379.8 576.4 1381.1 576.4C1382.4 576.4 1383.8 576.4 1385.1 576.4C1386.4 576.4 1387.8 576.4 1389.1 576.4C1390.4 576.4 1391.8 576.4 1393.1 576.4C1394.4 576.4 1395.8 576.5 1397.1 576.5C1398.4 576.5 1399.8 576.5 1401.1 576.5C1402.4 576.5 1403.8 576.5 1405.1 576.5C1406.4 576.5 1407.8 576.5 1409.1 576.5C1410.4 576.5 1411.8 576.5 1413.1 576.5C1414.4 576.5 1415.8 576.5 1417.1 576.5C1418.4 576.5 1419.8 576.5 1421.1 576.5C1422.4 576.5 1423.8 576.5 1425.1 576.5C1426.4 576.5 1427.8 576.5 1429.1 576.5C1430.4 576.5 1431.8 576.5 1433.1 576.5C1434.4 576.5 1435.8 576.5 1437.1 576.5C1438.4 576.5 1439.8 576.5 1441.1 576.5C1442.4 576.6 1443.8 576.6 1445.1 576.6C1446.4 576.6 1447.8 576.6 1449.1 576.6C1450.4 576.7 1451.8 576.7 1453.1 576.7C1454.4 576.7 1455.8 576.8 1457.1 576.8C1458.4 576.8 1459.8 576.9 1461.1 576.9C1462.4 576.9 1463.8 577 1465.1 577C1466.4 577.1 1467.8 577.1 1469.1 577.2C1470.4 577.2 1471.8 577.3 1473.1 577.4C1474.4 577.5 1475.8 577.5 1477.1 577.7C1478.4 577.9 1479.8 578.2 1481.1 578.6C1482.4 579 1483.8 579.5 1485.1 580C1486.4 580.5 1487.8 581.1 1489.1 581.6C1490.4 582.2 1491.8 582.7 1493.1 583.3C1494.4 583.9 1495.8 584.6 1497.1 585.2C1498.4 585.7 1499.8 586.4 1501.1 586.9C1502.4 587.4 1503.8 587.9 1505.1 588.3C1506.4 588.7 1507.8 589.1 1509.1 589.4C1510.4 589.7 1511.8 590 1513.1 590.3C1514.4 590.6 1515.8 590.8 1517.1 591C1518.4 591.3 1519.8 591.4 1521.1 591.6C1522.4 591.8 1523.8 592 1525.1 592.1C1526.4 592.3 1527.8 592.4 1529.1 592.6C1530.4 592.7 1531.8 592.8 1533.1 592.9C1534.4 593.1 1535.8 593.2 1537.1 593.3C1538.4 593.4 1539.8 593.5 1541.1 593.6C1542.4 593.7 1543.8 593.8 1545.1 593.9C1546.4 594.1 1547.8 594.2 1549.1 594.3C1550.4 594.4 1551.8 594.5 1553.1 594.6C1554.4 594.7 1555.8 594.8 1557.1 594.9C1558.4 595 1559.8 595.1 1561.1 595.2C1562.4 595.3 1563.8 595.4 1565.1 595.5C1566.4 595.6 1567.8 595.7 1569.1 595.8C1570.4 595.9 1571.8 596 1573.1 596.1C1574.4 596.2 1575.8 596.3 1577.1 596.4C1578.4 596.5 1579.8 596.6 1581.1 596.7C1582.4 596.8 1583.8 596.9 1585.1 597C1586.4 597.1 1587.8 597.2 1589.1 597.3C1590.4 597.4 1591.8 597.5 1593.1 597.6C1594.4 597.7 1595.8 597.8 1597.1 598C1598.4 598.1 1599.8 598.2 1601.1 598.4C1602.4 598.5 1603.8 598.7 1605.1 598.9C1606.4 599.2 1607.8 599.4 1609.1 599.7C1610.4 600.1 1611.8 600.5 1613.1 600.9C1614.4 601.3 1615.8 601.7 1617.1 602.1C1618.4 602.6 1619.8 603 1621.1 603.4C1622.4 603.8 1623.8 604.2 1625.1 604.5C1626.4 604.9 1627.8 605.2 1629.1 605.5C1630.4 605.8 1631.8 606.2 1633.1 606.5C1634.4 606.8 1635.8 607.1 1637.1 607.4C1638.4 607.7 1639.8 608 1641.1 608.3C1642.4 608.6 1643.8 609 1645.1 609.3C1646.4 609.6 1647.8 610 1649.1 610.3C1650.4 610.7 1651.8 611 1653.1 611.4C1654.4 611.8 1655.8 612.2 1657.1 612.6C1658.4 613.1 1659.8 613.5 1661.1 614C1662.4 614.4 1663.8 614.9 1665.1 615.3C1666.4 615.8 1667.8 616.3 1669.1 616.8C1670.4 617.3 1671.8 617.9 1673.1 618.4C1674.4 618.9 1675.8 619.5 1677.1 620.1C1678.4 620.6 1679.8 621.2 1681.1 621.8C1682.4 622.4 1683.8 623 1685.1 623.7C1686.4 624.3 1687.8 625 1689.1 625.6C1690.4 626.3 1691.8 627 1693.1 627.7C1694.4 628.5 1695.8 629.2 1697.1 630C1698.4 630.8 1699.8 631.6 1701.1 632.4C1702.4 633.3 1703.8 634.1 1705.1 635C1706.4 635.9 1707.8 636.8 1709.1 637.7C1710.4 638.6 1711.8 639.6 1713.1 640.6C1714.4 641.5 1715.8 642.5 1717.1 643.6C1718.4 644.6 1719.8 645.6 1721.1 646.7C1722.4 647.8 1723.8 648.9 1725.1 650C1726.4 651.2 1727.8 652.4 1729.1 653.6C1730.4 654.8 1731.8 656.1 1733.1 657.4C1734.4 658.7 1735.8 660.1 1737.1 661.5C1738.4 662.8 1739.8 664.2 1741.1 665.6C1742.4 667 1743.8 668.5 1745.1 669.9C1746.4 671.4 1747.8 672.8 1749.1 674.3C1750.4 675.7 1751.8 677.2 1753.1 678.7C1754.4 680.2 1755.8 681.6 1757.1 683.2C1758.4 684.7 1759.8 686.2 1761.1 687.8C1762.4 689.4 1763.8 691 1765.1 692.7C1766.4 694.3 1767.8 696 1769.1 697.7C1770.4 699.4 1771.8 701.2 1773.1 703C1774.4 704.8 1775.8 706.7 1777.1 708.6C1778.4 710.6 1779.8 712.6 1781.1 714.7C1782.4 716.8 1783.8 718.9 1785.1 721.1C1786.4 723.3 1787.8 725.5 1789.1 727.7C1790.4 729.9 1791.8 732.2 1793.1 734.4C1794.4 736.7 1795.8 738.9 1797.1 741.2C1798.4 743.4 1799.8 745.6 1801.1 747.8C1802.4 750 1803.8 752.2 1805.1 754.4C1806.4 756.6 1807.8 758.8 1809.1 761C1810.4 763.2 1811.8 765.4 1813.1 767.6C1814.4 769.8 1815.8 772 1817.1 774.2C1818.4 776.4 1819.8 778.6 1821.1 780.8C1822.4 783 1823.8 785.2 1825.1 787.4C1826.4 789.6 1827.8 791.8 1829.1 794C1830.4 796.2 1831.8 798.4 1833.1 800.6C1834.4 802.8 1835.8 805 1837.1 807.3C1838.4 809.5 1839.8 811.7 1841.1 813.9C1842.4 816.1 1843.8 818.3 1845.1 820.6C1846.4 822.8 1847.8 825 1849.1 827.2C1850.4 829.4 1851.8 831.6 1853.1 833.8C1854.4 836 1855.8 838.3 1857.1 840.5C1858.4 842.7 1859.8 844.9 1861.1 847.1C1862.4 849.2 1863.8 851.4 1865.1 853.6C1866.4 855.8 1867.8 858 1869.1 860.2C1870.4 862.4 1871.8 864.5 1873.1 866.7C1874.4 868.9 1875.8 871.1 1877.1 873.3C1878.4 875.4 1879.8 877.6 1881.1 879.8C1882.4 882 1883.8 884.1 1885.1 886.3C1886.4 888.5 1887.8 890.6 1889.1 892.8C1890.4 895 1891.8 897.1 1893.1 899.3C1894.4 901.4 1895.8 903.6 1897.1 905.7C1898.4 907.9 1899.8 910 1901.1 912.2C1902.4 914.3 1903.8 916.4 1905.1 918.6C1906.4 920.7 1907.8 922.8 1909.1 924.9C1910.4 927.1 1911.8 929.2 1913.1 931.3C1914.4 933.4 1915.8 935.5 1917.1 937.6C1918.4 939.8 1919.8 941.9 1921.1 944C1922.4 946.1 1923.8 948.2 1925.1 950.3C1926.4 952.4 1927.8 954.5 1929.1 956.6C1930.4 958.6 1931.8 960.7 1933.1 962.8C1934.4 964.9 1935.8 967 1937.1 969.1C1938.4 971.1 1939.8 973.2 1941.1 975.3C1942.4 977.4 1943.8 979.6 1945.1 981.4C1946.4 983.3 1948.4 985.5 1949.1 986.4C1949.8 987.3 1949.4 986.8 1949.5 986.8" fill="none" stroke="#00FFFF" stroke-width="6" stroke-linecap="round" stroke-linejoin="round"/>
<circle cx="1261.1" cy="574.8" r="14.5" fill="#00FFFF"/>
<circle cx="1347.2" cy="576.4" r="14.5" fill="#00FFFF"/>
<circle cx="1433.2" cy="576.4" r="14.5" fill="#00FFFF"/>
<circle cx="1476.2" cy="576.4" r="14.5" fill="#00FFFF"/>
<circle cx="1519.3" cy="585" r="14.5" fill="#00FFFF"/>
<circle cx="1562.3" cy="597" r="14.5" fill="#00FFFF"/>
<circle cx="1605.3" cy="599.5" r="14.5" fill="#00FFFF"/>
<circle cx="1691.4" cy="609.7" r="14.5" fill="#00FFFF"/>
<circle cx="1777.4" cy="705" r="14.5" fill="#00FFFF"/>
<circle cx="1863.5" cy="850.5" r="14.5" fill="#00FFFF"/>
<circle cx="1949.5" cy="988.3" r="14.5" fill="#00FFFF"/>
<path d="M1261.1 575.5C1261.8 575.5 1263.8 575.5 1265.1 575.5C1266.4 575.5 1267.8 575.5 1269.1 575.6C1270.4 575.6 1271.8 575.6 1273.1 575.6C1274.4 575.6 1275.8 575.6 1277.1 575.6C1278.4 575.6 1279.8 575.6 1281.1 575.6C1282.4 575.7 1283.8 575.7 1285.1 575.7C1286.4 575.7 1287.8 575.7 1289.1 575.7C1290.4 575.7 1291.8 575.7 1293.1 575.7C1294.4 575.7 1295.8 575.7 1297.1 575.8C1298.4 575.8 1299.8 575.8 1301.1 575.8C1302.4 575.8 1303.8 575.8 1305.1 575.8C1306.4 575.8 1307.8 575.8 1309.1 575.8C1310.4 575.8 1311.8 575.8 1313.1 575.9C1314.4 575.9 1315.8 575.9 1317.1 575.9C1318.4 575.9 1319.8 575.9 1321.1 575.9C1322.4 575.9 1323.8 575.9 1325.1 575.9C1326.4 575.9 1327.8 575.9 1329.1 575.9C1330.4 575.9 1331.8 575.9 1333.1 576C1334.4 576 1335.8 576 1337.1 576C1338.4 576 1339.8 576 1341.1 576C1342.4 576 1343.8 576 1345.1 576C1346.4 576 1347.8 576 1349.1 576C1350.4 576 1351.8 576 1353.1 576C1354.4 576 1355.8 576 1357.1 576C1358.4 576 1359.8 576 1361.1 576C1362.4 576 1363.8 576 1365.1 576C1366.4 576 1367.8 576 1369.1 576C1370.4 576.1 1371.8 576.1 1373.1 576.1C1374.4 576.1 1375.8 576.1 1377.1 576.1C1378.4 576.1 1379.8 576.1 1381.1 576.1C1382.4 576.1 1383.8 576.1 1385.1 576.1C1386.4 576.1 1387.8 576.1 1389.1 576.1C1390.4 576.1 1391.8 576.1 1393.1 576.1C1394.4 576.1 1395.8 576.1 1397.1 576.1C1398.4 576.1 1399.8 576.1 1401.1 576.1C1402.4 576.1 1403.8 576.1 1405.1 576.1C1406.4 576.1 1407.8 576.1 1409.1 576.1C1410.4 576.1 1411.8 576.1 1413.1 576.1C1414.4 576.1 1415.8 576.1 1417.1 576.1C1418.4 576.1 1419.8 576.1 1421.1 576.1C1422.4 576.1 1423.8 576.1 1425.1 576.1C1426.4 576.1 1427.8 576.1 1429.1 576.1C1430.4 576.1 1431.8 576.1 1433.1 576.1C1434.4 576.1 1435.8 576.2 1437.1 576.2C1438.4 576.2 1439.8 576.2 1441.1 576.2C1442.4 576.2 1443.8 576.2 1445.1 576.2C1446.4 576.2 1447.8 576.2 1449.1 576.2C1450.4 576.2 1451.8 576.2 1453.1 576.2C1454.4 576.2 1455.8 576.2 1457.1 576.2C1458.4 576.2 1459.8 576.2 1461.1 576.2C1462.4 576.2 1463.8 576.2 1465.1 576.2C1466.4 576.2 1467.8 576.2 1469.1 576.2C1470.4 576.2 1471.8 576.2 1473.1 576.2C1474.4 576.2 1475.8 576.2 1477.1 576.2C1478.4 576.2 1479.8 576.2 1481.1 576.2C1482.4 576.2 1483.8 576.2 1485.1 576.2C1486.4 576.2 1487.8 576.2 1489.1 576.2C1490.4 576.2 1491.8 576.2 1493.1 576.2C1494.4 576.2 1495.8 576.2 1497.1 576.2C1498.4 576.2 1499.8 576.2 1501.1 576.2C1502.4 576.2 1503.8 576.2 1505.1 576.2C1506.4 576.2 1507.8 576.2 1509.1 576.2C1510.4 576.2 1511.8 576.2 1513.1 576.2C1514.4 576.2 1515.8 576.2 1517.1 576.2C1518.4 576.2 1519.8 576.2 1521.1 576.2C1522.4 576.2 1523.8 576.2 1525.1 576.2C1526.4 576.2 1527.8 576.2 1529.1 576.2C1530.4 576.2 1531.8 576.2 1533.1 576.3C1534.4 576.3 1535.8 576.3 1537.1 576.3C1538.4 576.3 1539.8 576.3 1541.1 576.3C1542.4 576.3 1543.8 576.3 1545.1 576.3C1546.4 576.3 1547.8 576.3 1549.1 576.3C1550.4 576.3 1551.8 576.3 1553.1 576.3C1554.4 576.3 1555.8 576.3 1557.1 576.3C1558.4 576.3 1559.8 576.3 1561.1 576.3C1562.4 576.3 1563.8 576.3 1565.1 576.3C1566.4 576.3 1567.8 576.3 1569.1 576.4C1570.4 576.4 1571.8 576.4 1573.1 576.4C1574.4 576.4 1575.8 576.5 1577.1 576.5C1578.4 576.5 1579.8 576.6 1581.1 576.6C1582.4 576.7 1583.8 576.7 1585.1 576.8C1586.4 576.8 1587.8 576.9 1589.1 576.9C1590.4 577 1591.8 577 1593.1 577.1C1594.4 577.2 1595.8 577.2 1597.1 577.3C1598.4 577.4 1599.8 577.4 1601.1 577.5C1602.4 577.6 1603.8 577.7 1605.1 577.8C1606.4 578 1607.8 578.1 1609.1 578.4C1610.4 578.6 1611.8 578.9 1613.1 579.3C1614.4 579.6 1615.8 580 1617.1 580.3C1618.4 580.7 1619.8 581.1 1621.1 581.4C1622.4 581.7 1623.8 582 1625.1 582.3C1626.4 582.6 1627.8 582.8 1629.1 583.1C1630.4 583.4 1631.8 583.6 1633.1 583.9C1634.4 584.1 1635.8 584.4 1637.1 584.6C1638.4 584.9 1639.8 585.1 1641.1 585.4C1642.4 585.6 1643.8 585.9 1645.1 586.1C1646.4 586.4 1647.8 586.7 1649.1 587C1650.4 587.3 1651.8 587.6 1653.1 587.9C1654.4 588.3 1655.8 588.6 1657.1 589C1658.4 589.3 1659.8 589.7 1661.1 590.1C1662.4 590.5 1663.8 590.9 1665.1 591.4C1666.4 591.8 1667.8 592.3 1669.1 592.7C1670.4 593.2 1671.8 593.7 1673.1 594.2C1674.4 594.7 1675.8 595.2 1677.1 595.7C1678.4 596.3 1679.8 596.8 1681.1 597.4C1682.4 597.9 1683.8 598.5 1685.1 599.1C1686.4 599.7 1687.8 600.4 1689.1 601C1690.4 601.7 1691.8 602.4 1693.1 603.1C1694.4 603.8 1695.8 604.5 1697.1 605.3C1698.4 606.1 1699.8 606.9 1701.1 607.8C1702.4 608.6 1703.8 609.5 1705.1 610.4C1706.4 611.3 1707.8 612.2 1709.1 613.2C1710.4 614.1 1711.8 615.1 1713.1 616.1C1714.4 617.1 1715.8 618.1 1717.1 619.1C1718.4 620.1 1719.8 621.2 1721.1 622.3C1722.4 623.4 1723.8 624.5 1725.1 625.6C1726.4 626.8 1727.8 628 1729.1 629.2C1730.4 630.4 1731.8 631.7 1733.1 633C1734.4 634.3 1735.8 635.6 1737.1 637C1738.4 638.4 1739.8 639.7 1741.1 641.2C1742.4 642.6 1743.8 644 1745.1 645.5C1746.4 647 1747.8 648.5 1749.1 650C1750.4 651.5 1751.8 653 1753.1 654.6C1754.4 656.1 1755.8 657.7 1757.1 659.3C1758.4 660.9 1759.8 662.5 1761.1 664.2C1762.4 665.9 1763.8 667.6 1765.1 669.4C1766.4 671.1 1767.8 672.9 1769.1 674.8C1770.4 676.7 1771.8 678.6 1773.1 680.6C1774.4 682.5 1775.8 684.5 1777.1 686.7C1778.4 688.8 1779.8 691 1781.1 693.3C1782.4 695.7 1783.8 698.1 1785.1 700.6C1786.4 703.2 1787.8 705.8 1789.1 708.5C1790.4 711.1 1791.8 713.9 1793.1 716.6C1794.4 719.4 1795.8 722.2 1797.1 724.9C1798.4 727.7 1799.8 730.5 1801.1 733.2C1802.4 735.9 1803.8 738.5 1805.1 741.2C1806.4 743.8 1807.8 746.4 1809.1 749C1810.4 751.6 1811.8 754.2 1813.1 756.7C1814.4 759.3 1815.8 761.9 1817.1 764.5C1818.4 767.1 1819.8 769.6 1821.1 772.2C1822.4 774.8 1823.8 777.4 1825.1 779.9C1826.4 782.5 1827.8 785.1 1829.1 787.6C1830.4 790.2 1831.8 792.8 1833.1 795.3C1834.4 797.9 1835.8 800.5 1837.1 803.1C1838.4 805.7 1839.8 808.3 1841.1 810.9C1842.4 813.5 1843.8 816.2 1845.1 818.8C1846.4 821.4 1847.8 824 1849.1 826.6C1850.4 829.2 1851.8 831.8 1853.1 834.4C1854.4 836.9 1855.8 839.5 1857.1 841.9C1858.4 844.4 1859.8 846.8 1861.1 849.2C1862.4 851.6 1863.8 853.9 1865.1 856.2C1866.4 858.5 1867.8 860.7 1869.1 862.9C1870.4 865.1 1871.8 867.3 1873.1 869.5C1874.4 871.6 1875.8 873.7 1877.1 875.8C1878.4 877.9 1879.8 880 1881.1 882.1C1882.4 884.1 1883.8 886.2 1885.1 888.2C1886.4 890.2 1887.8 892.3 1889.1 894.3C1890.4 896.3 1891.8 898.3 1893.1 900.2C1894.4 902.2 1895.8 904.2 1897.1 906.2C1898.4 908.2 1899.8 910.1 1901.1 912.1C1902.4 914.1 1903.8 916.1 1905.1 918C1906.4 920 1907.8 922 1909.1 924C1910.4 926 1911.8 928 1913.1 930.1C1914.4 932.1 1915.8 934.1 1917.1 936.2C1918.4 938.2 1919.8 940.3 1921.1 942.3C1922.4 944.4 1923.8 946.4 1925.1 948.5C1926.4 950.5 1927.8 952.6 1929.1 954.6C1930.4 956.7 1931.8 958.7 1933.1 960.8C1934.4 962.8 1935.8 964.9 1937.1 966.9C1938.4 969 1939.8 971 1941.1 973.1C1942.4 975.1 1943.8 977.3 1945.1 979.2C1946.4 981 1948.4 983.2 1949.1 984.1C1949.8 985 1949.4 984.5 1949.5 984.5" fill="none" stroke="#FF8000" stroke-width="6" stroke-linecap="round" stroke-linejoin="round"/>
<polygon points="1261.1,554.9 1278.5,585 1243.7,585" fill="#FF8000"/>
<polygon points="1347.2,556.8 1364.6,586.9 1329.8,586.9" fill="#FF8000"/>
<polygon points="1433.2,556.8 1450.6,586.9 1415.8,586.9" fill="#FF8000"/>
<polygon points="1476.2,556.8 1493.6,586.9 1458.8,586.9" fill="#FF8000"/>
<polygon points="1519.3,556.8 1536.7,586.9 1501.9,586.9" fill="#FF8000"/>
<polygon points="1562.3,556.8 1579.7,586.9 1544.9,586.9" fill="#FF8000"/>
<polygon points="1605.3,557.6 1622.7,587.7 1587.9,587.7" fill="#FF8000"/>
<polygon points="1691.4,570.4 1708.8,600.5 1674,600.5" fill="#FF8000"/>
<polygon points="1777.4,666.2 1794.8,696.3 1760,696.3" fill="#FF8000"/>
<polygon points="1863.5,830.9 1880.9,861 1846.1,861" fill="#FF8000"/>
<polygon points="1949.5,968.9 1966.9,999 1932.1,999" fill="#FF8000"/>
<path d="M1261.1 513C1261.8 513 1263.8 513.1 1265.1 513.1C1266.4 513.1 1267.8 513.1 1269.1 513.2C1270.4 513.2 1271.8 513.2 1273.1 513.3C1274.4 513.3 1275.8 513.3 1277.1 513.3C1278.4 513.4 1279.8 513.4 1281.1 513.4C1282.4 513.4 1283.8 513.5 1285.1 513.5C1286.4 513.5 1287.8 513.5 1289.1 513.6C1290.4 513.6 1291.8 513.6 1293.1 513.6C1294.4 513.7 1295.8 513.7 1297.1 513.7C1298.4 513.7 1299.8 513.8 1301.1 513.8C1302.4 513.8 1303.8 513.8 1305.1 513.9C1306.4 513.9 1307.8 513.9 1309.1 513.9C1310.4 513.9 1311.8 514 1313.1 514C1314.4 514 1315.8 514 1317.1 514C1318.4 514 1319.8 514.1 1321.1 514.1C1322.4 514.1 1323.8 514.1 1325.1 514.1C1326.4 514.1 1327.8 514.2 1329.1 514.2C1330.4 514.2 1331.8 514.2 1333.1 514.2C1334.4 514.2 1335.8 514.2 1337.1 514.2C1338.4 514.3 1339.8 514.3 1341.1 514.3C1342.4 514.3 1343.8 514.3 1345.1 514.3C1346.4 514.3 1347.8 514.3 1349.1 514.3C1350.4 514.3 1351.8 514.3 1353.1 514.3C1354.4 514.3 1355.8 514.3 1357.1 514.3C1358.4 514.3 1359.8 514.3 1361.1 514.3C1362.4 514.3 1363.8 514.3 1365.1 514.3C1366.4 514.4 1367.8 514.4 1369.1 514.4C1370.4 514.4 1371.8 514.4 1373.1 514.4C1374.4 514.4 1375.8 514.4 1377.1 514.4C1378.4 514.4 1379.8 514.4 1381.1 514.4C1382.4 514.4 1383.8 514.4 1385.1 514.4C1386.4 514.4 1387.8 514.4 1389.1 514.4C1390.4 514.4 1391.8 514.4 1393.1 514.4C1394.4 514.4 1395.8 514.4 1397.1 514.4C1398.4 514.4 1399.8 514.4 1401.1 514.4C1402.4 514.4 1403.8 514.4 1405.1 514.4C1406.4 514.4 1407.8 514.4 1409.1 514.4C1410.4 514.4 1411.8 514.4 1413.1 514.4C1414.4 514.4 1415.8 514.4 1417.1 514.4C1418.4 514.4 1419.8 514.4 1421.1 514.4C1422.4 514.4 1423.8 514.5 1425.1 514.5C1426.4 514.5 1427.8 514.5 1429.1 514.5C1430.4 514.5 1431.8 514.5 1433.1 514.5C1434.4 514.6 1435.8 514.7 1437.1 514.8C1438.4 514.9 1439.8 515.1 1441.1 515.3C1442.4 515.6 1443.8 515.8 1445.1 516.1C1446.4 516.4 1447.8 516.7 1449.1 517C1450.4 517.3 1451.8 517.7 1453.1 518.1C1454.4 518.6 1455.8 519 1457.1 519.5C1458.4 520 1459.8 520.6 1461.1 521.2C1462.4 521.7 1463.8 522.3 1465.1 523C1466.4 523.7 1467.8 524.4 1469.1 525.2C1470.4 525.9 1471.8 526.8 1473.1 527.6C1474.4 528.5 1475.8 529.3 1477.1 530.2C1478.4 531 1479.8 531.8 1481.1 532.6C1482.4 533.4 1483.8 534.1 1485.1 535C1486.4 535.8 1487.8 536.7 1489.1 537.7C1490.4 538.7 1491.8 539.8 1493.1 541C1494.4 542.2 1495.8 543.5 1497.1 544.8C1498.4 546.1 1499.8 547.5 1501.1 548.8C1502.4 550.1 1503.8 551.3 1505.1 552.6C1506.4 553.8 1507.8 555 1509.1 556.2C1510.4 557.5 1511.8 558.7 1513.1 559.9C1514.4 561 1515.8 562.2 1517.1 563.2C1518.4 564.2 1519.8 565.1 1521.1 565.9C1522.4 566.7 1523.8 567.5 1525.1 568.2C1526.4 568.9 1527.8 569.5 1529.1 570.1C1530.4 570.7 1531.8 571.3 1533.1 571.7C1534.4 572.2 1535.8 572.5 1537.1 572.8C1538.4 573.2 1539.8 573.4 1541.1 573.6C1542.4 573.8 1543.8 574 1545.1 574.2C1546.4 574.4 1547.8 574.6 1549.1 574.7C1550.4 574.9 1551.8 575 1553.1 575.1C1554.4 575.3 1555.8 575.4 1557.1 575.5C1558.4 575.6 1559.8 575.7 1561.1 575.7C1562.4 575.8 1563.8 575.9 1565.1 575.9C1566.4 576 1567.8 576.1 1569.1 576.1C1570.4 576.1 1571.8 576.2 1573.1 576.2C1574.4 576.3 1575.8 576.3 1577.1 576.3C1578.4 576.3 1579.8 576.4 1581.1 576.4C1582.4 576.4 1583.8 576.4 1585.1 576.5C1586.4 576.5 1587.8 576.5 1589.1 576.6C1590.4 576.6 1591.8 576.6 1593.1 576.7C1594.4 576.7 1595.8 576.8 1597.1 576.8C1598.4 576.9 1599.8 576.9 1601.1 577C1602.4 577.1 1603.8 577.1 1605.1 577.2C1606.4 577.4 1607.8 577.5 1609.1 577.7C1610.4 578 1611.8 578.3 1613.1 578.6C1614.4 578.9 1615.8 579.3 1617.1 579.6C1618.4 579.9 1619.8 580.3 1621.1 580.6C1622.4 580.9 1623.8 581.2 1625.1 581.5C1626.4 581.7 1627.8 582 1629.1 582.3C1630.4 582.5 1631.8 582.7 1633.1 583C1634.4 583.2 1635.8 583.5 1637.1 583.7C1638.4 584 1639.8 584.2 1641.1 584.5C1642.4 584.7 1643.8 585 1645.1 585.2C1646.4 585.5 1647.8 585.8 1649.1 586C1650.4 586.3 1651.8 586.6 1653.1 587C1654.4 587.3 1655.8 587.6 1657.1 588C1658.4 588.3 1659.8 588.7 1661.1 589.1C1662.4 589.4 1663.8 589.8 1665.1 590.2C1666.4 590.7 1667.8 591.1 1669.1 591.5C1670.4 592 1671.8 592.4 1673.1 592.9C1674.4 593.4 1675.8 593.9 1677.1 594.4C1678.4 594.9 1679.8 595.4 1681.1 596C1682.4 596.5 1683.8 597.1 1685.1 597.7C1686.4 598.3 1687.8 598.9 1689.1 599.5C1690.4 600.1 1691.8 600.8 1693.1 601.5C1694.4 602.2 1695.8 602.9 1697.1 603.7C1698.4 604.5 1699.8 605.3 1701.1 606.1C1702.4 607 1703.8 607.8 1705.1 608.7C1706.4 609.6 1707.8 610.5 1709.1 611.5C1710.4 612.4 1711.8 613.4 1713.1 614.3C1714.4 615.3 1715.8 616.3 1717.1 617.3C1718.4 618.4 1719.8 619.4 1721.1 620.5C1722.4 621.5 1723.8 622.6 1725.1 623.8C1726.4 624.9 1727.8 626.1 1729.1 627.3C1730.4 628.5 1731.8 629.8 1733.1 631.1C1734.4 632.4 1735.8 633.7 1737.1 635C1738.4 636.4 1739.8 637.8 1741.1 639.2C1742.4 640.6 1743.8 642 1745.1 643.5C1746.4 644.9 1747.8 646.4 1749.1 647.9C1750.4 649.4 1751.8 650.9 1753.1 652.5C1754.4 654 1755.8 655.6 1757.1 657.2C1758.4 658.8 1759.8 660.5 1761.1 662.2C1762.4 663.9 1763.8 665.6 1765.1 667.4C1766.4 669.2 1767.8 671 1769.1 672.8C1770.4 674.7 1771.8 676.6 1773.1 678.5C1774.4 680.4 1775.8 682.3 1777.1 684.3C1778.4 686.3 1779.8 688.3 1781.1 690.4C1782.4 692.4 1783.8 694.6 1785.1 696.7C1786.4 698.9 1787.8 701.1 1789.1 703.4C1790.4 705.6 1791.8 707.9 1793.1 710.2C1794.4 712.5 1795.8 714.9 1797.1 717.2C1798.4 719.6 1799.8 722 1801.1 724.3C1802.4 726.7 1803.8 729.1 1805.1 731.4C1806.4 733.8 1807.8 736.2 1809.1 738.5C1810.4 740.9 1811.8 743.2 1813.1 745.5C1814.4 747.8 1815.8 750.1 1817.1 752.4C1818.4 754.6 1819.8 756.8 1821.1 759.1C1822.4 761.3 1823.8 763.6 1825.1 765.8C1826.4 768.1 1827.8 770.4 1829.1 772.6C1830.4 774.9 1831.8 777.2 1833.1 779.5C1834.4 781.7 1835.8 784 1837.1 786.3C1838.4 788.5 1839.8 790.8 1841.1 793C1842.4 795.2 1843.8 797.4 1845.1 799.6C1846.4 801.8 1847.8 803.9 1849.1 806C1850.4 808.2 1851.8 810.2 1853.1 812.3C1854.4 814.3 1855.8 816.3 1857.1 818.3C1858.4 820.2 1859.8 822.1 1861.1 824C1862.4 825.8 1863.8 827.6 1865.1 829.3C1866.4 831.1 1867.8 832.7 1869.1 834.3C1870.4 836 1871.8 837.5 1873.1 839.1C1874.4 840.6 1875.8 842.1 1877.1 843.6C1878.4 845.1 1879.8 846.5 1881.1 847.9C1882.4 849.4 1883.8 850.8 1885.1 852.3C1886.4 853.7 1887.8 855.1 1889.1 856.6C1890.4 858 1891.8 859.5 1893.1 861C1894.4 862.5 1895.8 864 1897.1 865.6C1898.4 867.2 1899.8 868.8 1901.1 870.5C1902.4 872.1 1903.8 873.8 1905.1 875.6C1906.4 877.3 1907.8 879.1 1909.1 881C1910.4 882.8 1911.8 884.6 1913.1 886.4C1914.4 888.3 1915.8 890.1 1917.1 891.9C1918.4 893.7 1919.8 895.5 1921.1 897.3C1922.4 899 1923.8 900.7 1925.1 902.4C1926.4 904.1 1927.8 905.8 1929.1 907.4C1930.4 909 1931.8 910.6 1933.1 912.2C1934.4 913.8 1935.8 915.4 1937.1 917C1938.4 918.5 1939.8 920.1 1941.1 921.6C1942.4 923.1 1943.8 924.7 1945.1 926.1C1946.4 927.4 1948.4 929 1949.1 929.7C1949.8 930.3 1949.4 929.9 1949.5 930" fill="none" stroke="#8000FF" stroke-width="6" stroke-linecap="round" stroke-linejoin="round"/>
<polygon points="1261.1,532.7 1278.5,502.6 1243.7,502.6" fill="#8000FF"/>
<polygon points="1347.2,534.2 1364.6,504.1 1329.8,504.1" fill="#8000FF"/>
<polygon points="1433.2,534.2 1450.6,504.1 1415.8,504.1" fill="#8000FF"/>
<polygon points="1476.2,534.2 1493.6,504.1 1458.8,504.1" fill="#8000FF"/>
<polygon points="1519.3,595.4 1536.7,565.3 1501.9,565.3" fill="#8000FF"/>
<polygon points="1562.3,595.4 1579.7,565.3 1544.9,565.3" fill="#8000FF"/>
<polygon points="1605.3,596.5 1622.7,566.4 1587.9,566.4" fill="#8000FF"/>
<polygon points="1691.4,609.5 1708.8,579.4 1674,579.4" fill="#8000FF"/>
<polygon points="1777.4,705.3 1794.8,675.2 1760,675.2" fill="#8000FF"/>
<polygon points="1863.5,847.5 1880.9,817.4 1846.1,817.4" fill="#8000FF"/>
<polygon points="1949.5,951.6 1966.9,921.5 1932.1,921.5" fill="#8000FF"/>
<path d="M1261.1 512.8C1261.8 512.8 1263.8 512.9 1265.1 512.9C1266.4 512.9 1267.8 512.9 1269.1 513C1270.4 513 1271.8 513 1273.1 513.1C1274.4 513.1 1275.8 513.1 1277.1 513.1C1278.4 513.2 1279.8 513.2 1281.1 513.2C1282.4 513.3 1283.8 513.3 1285.1 513.3C1286.4 513.3 1287.8 513.4 1289.1 513.4C1290.4 513.4 1291.8 513.5 1293.1 513.5C1294.4 513.5 1295.8 513.5 1297.1 513.6C1298.4 513.6 1299.8 513.6 1301.1 513.6C1302.4 513.7 1303.8 513.7 1305.1 513.7C1306.4 513.7 1307.8 513.8 1309.1 513.8C1310.4 513.8 1311.8 513.8 1313.1 513.9C1314.4 513.9 1315.8 513.9 1317.1 513.9C1318.4 513.9 1319.8 514 1321.1 514C1322.4 514 1323.8 514 1325.1 514C1326.4 514 1327.8 514.1 1329.1 514.1C1330.4 514.1 1331.8 514.1 1333.1 514.1C1334.4 514.1 1335.8 514.1 1337.1 514.1C1338.4 514.2 1339.8 514.2 1341.1 514.2C1342.4 514.2 1343.8 514.2 1345.1 514.2C1346.4 514.2 1347.8 514.2 1349.1 514.2C1350.4 514.2 1351.8 514.2 1353.1 514.2C1354.4 514.2 1355.8 514.2 1357.1 514.2C1358.4 514.2 1359.8 514.2 1361.1 514.2C1362.4 514.2 1363.8 514.2 1365.1 514.2C1366.4 514.2 1367.8 514.2 1369.1 514.2C1370.4 514.2 1371.8 514.2 1373.1 514.3C1374.4 514.3 1375.8 514.3 1377.1 514.3C1378.4 514.3 1379.8 514.3 1381.1 514.3C1382.4 514.3 1383.8 514.3 1385.1 514.3C1386.4 514.3 1387.8 514.3 1389.1 514.3C1390.4 514.3 1391.8 514.3 1393.1 514.3C1394.4 514.3 1395.8 514.3 1397.1 514.3C1398.4 514.3 1399.8 514.3 1401.1 514.3C1402.4 514.3 1403.8 514.3 1405.1 514.3C1406.4 514.3 1407.8 514.3 1409.1 514.3C1410.4 514.3 1411.8 514.3 1413.1 514.3C1414.4 514.3 1415.8 514.3 1417.1 514.3C1418.4 514.3 1419.8 514.3 1421.1 514.3C1422.4 514.3 1423.8 514.3 1425.1 514.3C1426.4 514.3 1427.8 514.3 1429.1 514.3C1430.4 514.3 1431.8 514.3 1433.1 514.3C1434.4 514.3 1435.8 514.3 1437.1 514.3C1438.4 514.3 1439.8 514.3 1441.1 514.3C1442.4 514.3 1443.8 514.3 1445.1 514.3C1446.4 514.3 1447.8 514.3 1449.1 514.3C1450.4 514.3 1451.8 514.3 1453.1 514.3C1454.4 514.3 1455.8 514.3 1457.1 514.3C1458.4 514.3 1459.8 514.3 1461.1 514.3C1462.4 514.3 1463.8 514.3 1465.1 514.3C1466.4 514.3 1467.8 514.3 1469.1 514.3C1470.4 514.3 1471.8 514.3 1473.1 514.3C1474.4 514.3 1475.8 514.3 1477.1 514.3C1478.4 514.3 1479.8 514.4 1481.1 514.4C1482.4 514.4 1483.8 514.4 1485.1 514.4C1486.4 514.4 1487.8 514.4 1489.1 514.4C1490.4 514.4 1491.8 514.4 1493.1 514.4C1494.4 514.4 1495.8 514.4 1497.1 514.4C1498.4 514.4 1499.8 514.4 1501.1 514.4C1502.4 514.4 1503.8 514.4 1505.1 514.4C1506.4 514.4 1507.8 514.4 1509.1 514.4C1510.4 514.4 1511.8 514.4 1513.1 514.4C1514.4 514.4 1515.8 514.4 1517.1 514.4C1518.4 514.4 1519.8 514.4 1521.1 514.4C1522.4 514.4 1523.8 514.4 1525.1 514.4C1526.4 514.4 1527.8 514.4 1529.1 514.4C1530.4 514.4 1531.8 514.4 1533.1 514.4C1534.4 514.4 1535.8 514.4 1537.1 514.4C1538.4 514.4 1539.8 514.4 1541.1 514.4C1542.4 514.4 1543.8 514.4 1545.1 514.4C1546.4 514.4 1547.8 514.4 1549.1 514.5C1550.4 514.5 1551.8 514.5 1553.1 514.5C1554.4 514.5 1555.8 514.5 1557.1 514.5C1558.4 514.5 1559.8 514.5 1561.1 514.5C1562.4 514.5 1563.8 514.5 1565.1 514.5C1566.4 514.6 1567.8 514.6 1569.1 514.6C1570.4 514.6 1571.8 514.7 1573.1 514.7C1574.4 514.8 1575.8 514.8 1577.1 514.9C1578.4 515 1579.8 515 1581.1 515.1C1582.4 515.2 1583.8 515.2 1585.1 515.3C1586.4 515.4 1587.8 515.5 1589.1 515.6C1590.4 515.6 1591.8 515.7 1593.1 515.9C1594.4 516 1595.8 516.1 1597.1 516.3C1598.4 516.4 1599.8 516.6 1601.1 516.8C1602.4 517 1603.8 517.2 1605.1 517.5C1606.4 517.7 1607.8 517.9 1609.1 518.2C1610.4 518.5 1611.8 518.7 1613.1 519C1614.4 519.3 1615.8 519.6 1617.1 519.9C1618.4 520.2 1619.8 520.5 1621.1 520.8C1622.4 521.2 1623.8 521.5 1625.1 521.8C1626.4 522.2 1627.8 522.5 1629.1 522.8C1630.4 523.2 1631.8 523.5 1633.1 523.9C1634.4 524.2 1635.8 524.6 1637.1 524.9C1638.4 525.3 1639.8 525.6 1641.1 526C1642.4 526.3 1643.8 526.7 1645.1 527.1C1646.4 527.5 1647.8 527.9 1649.1 528.3C1650.4 528.8 1651.8 529.2 1653.1 529.7C1654.4 530.1 1655.8 530.6 1657.1 531.1C1658.4 531.5 1659.8 532 1661.1 532.5C1662.4 533 1663.8 533.6 1665.1 534.1C1666.4 534.6 1667.8 535.1 1669.1 535.7C1670.4 536.2 1671.8 536.8 1673.1 537.4C1674.4 538 1675.8 538.6 1677.1 539.3C1678.4 540 1679.8 540.7 1681.1 541.4C1682.4 542 1683.8 542.8 1685.1 543.4C1686.4 544.1 1687.8 544.8 1689.1 545.5C1690.4 546.1 1691.8 546.7 1693.1 547.4C1694.4 548 1695.8 548.6 1697.1 549.2C1698.4 549.9 1699.8 550.5 1701.1 551.2C1702.4 551.9 1703.8 552.6 1705.1 553.4C1706.4 554.2 1707.8 555.1 1709.1 556C1710.4 556.9 1711.8 557.9 1713.1 558.9C1714.4 559.9 1715.8 561 1717.1 562.1C1718.4 563.1 1719.8 564.3 1721.1 565.4C1722.4 566.5 1723.8 567.7 1725.1 568.9C1726.4 570 1727.8 571.2 1729.1 572.3C1730.4 573.5 1731.8 574.7 1733.1 575.8C1734.4 577 1735.8 578.2 1737.1 579.4C1738.4 580.6 1739.8 581.8 1741.1 583.1C1742.4 584.3 1743.8 585.5 1745.1 586.8C1746.4 588 1747.8 589.3 1749.1 590.6C1750.4 591.9 1751.8 593.2 1753.1 594.5C1754.4 595.8 1755.8 597.1 1757.1 598.4C1758.4 599.8 1759.8 601.2 1761.1 602.6C1762.4 604 1763.8 605.5 1765.1 606.9C1766.4 608.4 1767.8 609.8 1769.1 611.3C1770.4 612.7 1771.8 614.1 1773.1 615.4C1774.4 616.8 1775.8 618.1 1777.1 619.3C1778.4 620.5 1779.8 621.6 1781.1 622.7C1782.4 623.8 1783.8 624.9 1785.1 625.9C1786.4 626.9 1787.8 627.9 1789.1 628.9C1790.4 629.9 1791.8 631 1793.1 631.9C1794.4 632.9 1795.8 633.9 1797.1 634.9C1798.4 635.9 1799.8 636.9 1801.1 637.9C1802.4 638.8 1803.8 639.8 1805.1 640.8C1806.4 641.8 1807.8 642.8 1809.1 643.8C1810.4 644.8 1811.8 645.8 1813.1 646.9C1814.4 647.9 1815.8 648.9 1817.1 649.9C1818.4 650.9 1819.8 652 1821.1 653C1822.4 654 1823.8 655 1825.1 655.9C1826.4 656.9 1827.8 657.9 1829.1 658.9C1830.4 659.8 1831.8 660.8 1833.1 661.8C1834.4 662.8 1835.8 663.8 1837.1 664.8C1838.4 665.8 1839.8 666.9 1841.1 668C1842.4 669.1 1843.8 670.2 1845.1 671.4C1846.4 672.6 1847.8 673.8 1849.1 675.1C1850.4 676.4 1851.8 677.8 1853.1 679.3C1854.4 680.8 1855.8 682.5 1857.1 684.3C1858.4 686 1859.8 687.9 1861.1 689.7C1862.4 691.5 1863.8 693.4 1865.1 695.2C1866.4 697.1 1867.8 699 1869.1 700.9C1870.4 702.8 1871.8 704.7 1873.1 706.7C1874.4 708.6 1875.8 710.6 1877.1 712.5C1878.4 714.4 1879.8 716.3 1881.1 718.2C1882.4 720.1 1883.8 721.9 1885.1 723.7C1886.4 725.6 1887.8 727.3 1889.1 729.1C1890.4 730.9 1891.8 732.6 1893.1 734.3C1894.4 736.1 1895.8 737.8 1897.1 739.5C1898.4 741.1 1899.8 742.8 1901.1 744.5C1902.4 746.1 1903.8 747.8 1905.1 749.4C1906.4 751 1907.8 752.6 1909.1 754.2C1910.4 755.8 1911.8 757.4 1913.1 759C1914.4 760.5 1915.8 762.1 1917.1 763.7C1918.4 765.3 1919.8 766.9 1921.1 768.5C1922.4 770.1 1923.8 771.7 1925.1 773.3C1926.4 774.9 1927.8 776.5 1929.1 778.1C1930.4 779.7 1931.8 781.3 1933.1 782.8C1934.4 784.4 1935.8 785.9 1937.1 787.5C1938.4 789 1939.8 790.5 1941.1 792.1C1942.4 793.6 1943.8 795.2 1945.1 796.5C1946.4 797.9 1948.4 799.5 1949.1 800.2C1949.8 800.8 1949.4 800.4 1949.5 800.4" fill="none" stroke="#8080FF" stroke-width="6" stroke-linecap="round" stroke-linejoin="round"/>
<polygon points="1244.6,512.6 1272.1,494.4 1272.1,530.8" fill="#8080FF"/>
<polygon points="1330.7,514.2 1358.2,496 1358.2,532.4" fill="#8080FF"/>
<polygon points="1416.7,514.2 1444.2,496 1444.2,532.4" fill="#8080FF"/>
<polygon points="1459.7,514.2 1487.2,496 1487.2,532.4" fill="#8080FF"/>
<polygon points="1502.8,514 1530.3,495.8 1530.3,532.2" fill="#8080FF"/>
<polygon points="1545.8,514 1573.3,495.8 1573.3,532.2" fill="#8080FF"/>
<polygon points="1588.8,514.8 1616.3,496.6 1616.3,533" fill="#8080FF"/>
<polygon points="1674.9,530 1702.4,511.8 1702.4,548.2" fill="#8080FF"/>
<polygon points="1760.9,622.5 1788.4,604.3 1788.4,640.7" fill="#8080FF"/>
<polygon points="1847,695 1874.5,676.8 1874.5,713.2" fill="#8080FF"/>
<polygon points="1933,801.5 1960.5,783.3 1960.5,819.7" fill="#8080FF"/>
<path d="M1261.1 412.8C1261.8 412.8 1263.8 412.9 1265.1 412.9C1266.4 413 1267.8 413 1269.1 413C1270.4 413.1 1271.8 413.1 1273.1 413.2C1274.4 413.2 1275.8 413.2 1277.1 413.3C1278.4 413.3 1279.8 413.3 1281.1 413.4C1282.4 413.4 1283.8 413.5 1285.1 413.5C1286.4 413.5 1287.8 413.6 1289.1 413.6C1290.4 413.6 1291.8 413.7 1293.1 413.7C1294.4 413.7 1295.8 413.8 1297.1 413.8C1298.4 413.8 1299.8 413.9 1301.1 413.9C1302.4 413.9 1303.8 414 1305.1 414C1306.4 414 1307.8 414.1 1309.1 414.1C1310.4 414.1 1311.8 414.1 1313.1 414.2C1314.4 414.2 1315.8 414.2 1317.1 414.2C1318.4 414.3 1319.8 414.3 1321.1 414.3C1322.4 414.3 1323.8 414.4 1325.1 414.4C1326.4 414.4 1327.8 414.4 1329.1 414.4C1330.4 414.5 1331.8 414.5 1333.1 414.5C1334.4 414.5 1335.8 414.5 1337.1 414.5C1338.4 414.5 1339.8 414.6 1341.1 414.6C1342.4 414.6 1343.8 414.6 1345.1 414.6C1346.4 414.6 1347.8 414.6 1349.1 414.6C1350.4 414.6 1351.8 414.6 1353.1 414.6C1354.4 414.6 1355.8 414.6 1357.1 414.6C1358.4 414.6 1359.8 414.6 1361.1 414.6C1362.4 414.6 1363.8 414.6 1365.1 414.7C1366.4 414.7 1367.8 414.7 1369.1 414.7C1370.4 414.7 1371.8 414.7 1373.1 414.7C1374.4 414.7 1375.8 414.7 1377.1 414.7C1378.4 414.7 1379.8 414.7 1381.1 414.7C1382.4 414.7 1383.8 414.7 1385.1 414.7C1386.4 414.7 1387.8 414.7 1389.1 414.7C1390.4 414.7 1391.8 414.7 1393.1 414.7C1394.4 414.7 1395.8 414.7 1397.1 414.7C1398.4 414.7 1399.8 414.7 1401.1 414.7C1402.4 414.7 1403.8 414.7 1405.1 414.7C1406.4 414.7 1407.8 414.7 1409.1 414.7C1410.4 414.7 1411.8 414.7 1413.1 414.7C1414.4 414.7 1415.8 414.7 1417.1 414.7C1418.4 414.7 1419.8 414.7 1421.1 414.7C1422.4 414.7 1423.8 414.8 1425.1 414.8C1426.4 414.8 1427.8 414.8 1429.1 414.8C1430.4 414.8 1431.8 414.8 1433.1 414.9C1434.4 414.9 1435.8 415 1437.1 415.2C1438.4 415.4 1439.8 415.7 1441.1 416C1442.4 416.3 1443.8 416.7 1445.1 417C1446.4 417.4 1447.8 417.7 1449.1 418.1C1450.4 418.5 1451.8 418.9 1453.1 419.3C1454.4 419.7 1455.8 420.1 1457.1 420.6C1458.4 421 1459.8 421.5 1461.1 422.1C1462.4 422.6 1463.8 423.2 1465.1 423.8C1466.4 424.4 1467.8 425.1 1469.1 425.9C1470.4 426.7 1471.8 427.4 1473.1 428.5C1474.4 429.5 1475.8 430.7 1477.1 432.1C1478.4 433.5 1479.8 435.1 1481.1 436.8C1482.4 438.5 1483.8 440.3 1485.1 442.3C1486.4 444.3 1487.8 446.4 1489.1 448.8C1490.4 451.1 1491.8 453.9 1493.1 456.4C1494.4 459 1495.8 461.7 1497.1 464.1C1498.4 466.4 1499.8 468.5 1501.1 470.6C1502.4 472.7 1503.8 474.6 1505.1 476.5C1506.4 478.4 1507.8 480.3 1509.1 482.3C1510.4 484.2 1511.8 486.2 1513.1 488.4C1514.4 490.5 1515.8 492.9 1517.1 494.9C1518.4 497 1519.8 499.1 1521.1 500.7C1522.4 502.3 1523.8 503.6 1525.1 504.7C1526.4 505.8 1527.8 506.6 1529.1 507.4C1530.4 508.2 1531.8 508.9 1533.1 509.5C1534.4 510.1 1535.8 510.6 1537.1 511.1C1538.4 511.6 1539.8 512 1541.1 512.4C1542.4 512.7 1543.8 513 1545.1 513.2C1546.4 513.5 1547.8 513.7 1549.1 513.8C1550.4 514 1551.8 514.1 1553.1 514.3C1554.4 514.4 1555.8 514.5 1557.1 514.6C1558.4 514.7 1559.8 514.7 1561.1 514.8C1562.4 514.8 1563.8 514.8 1565.1 514.8C1566.4 514.8 1567.8 514.8 1569.1 514.8C1570.4 514.7 1571.8 514.7 1573.1 514.7C1574.4 514.7 1575.8 514.7 1577.1 514.6C1578.4 514.6 1579.8 514.6 1581.1 514.6C1582.4 514.6 1583.8 514.5 1585.1 514.5C1586.4 514.5 1587.8 514.5 1589.1 514.5C1590.4 514.5 1591.8 514.5 1593.1 514.5C1594.4 514.6 1595.8 514.6 1597.1 514.6C1598.4 514.7 1599.8 514.7 1601.1 514.8C1602.4 514.9 1603.8 514.9 1605.1 515C1606.4 515.1 1607.8 515.2 1609.1 515.3C1610.4 515.4 1611.8 515.5 1613.1 515.6C1614.4 515.7 1615.8 515.8 1617.1 515.9C1618.4 516 1619.8 516.1 1621.1 516.3C1622.4 516.4 1623.8 516.5 1625.1 516.6C1626.4 516.8 1627.8 516.9 1629.1 517.1C1630.4 517.3 1631.8 517.4 1633.1 517.6C1634.4 517.8 1635.8 518 1637.1 518.2C1638.4 518.5 1639.8 518.7 1641.1 518.9C1642.4 519.2 1643.8 519.4 1645.1 519.7C1646.4 519.9 1647.8 520.2 1649.1 520.5C1650.4 520.7 1651.8 521 1653.1 521.3C1654.4 521.6 1655.8 521.9 1657.1 522.2C1658.4 522.4 1659.8 522.7 1661.1 523C1662.4 523.3 1663.8 523.6 1665.1 523.9C1666.4 524.2 1667.8 524.5 1669.1 524.8C1670.4 525.1 1671.8 525.4 1673.1 525.7C1674.4 526 1675.8 526.3 1677.1 526.6C1678.4 526.9 1679.8 527.2 1681.1 527.5C1682.4 527.8 1683.8 528.1 1685.1 528.5C1686.4 528.8 1687.8 529.1 1689.1 529.4C1690.4 529.8 1691.8 530.1 1693.1 530.5C1694.4 530.8 1695.8 531.2 1697.1 531.5C1698.4 531.9 1699.8 532.2 1701.1 532.6C1702.4 533 1703.8 533.3 1705.1 533.7C1706.4 534.1 1707.8 534.5 1709.1 534.9C1710.4 535.3 1711.8 535.7 1713.1 536.1C1714.4 536.5 1715.8 536.9 1717.1 537.3C1718.4 537.7 1719.8 538.2 1721.1 538.6C1722.4 539 1723.8 539.5 1725.1 539.9C1726.4 540.4 1727.8 540.9 1729.1 541.4C1730.4 541.8 1731.8 542.3 1733.1 542.8C1734.4 543.3 1735.8 543.9 1737.1 544.4C1738.4 544.9 1739.8 545.5 1741.1 546C1742.4 546.6 1743.8 547.1 1745.1 547.7C1746.4 548.3 1747.8 548.9 1749.1 549.5C1750.4 550.1 1751.8 550.8 1753.1 551.4C1754.4 552.1 1755.8 552.7 1757.1 553.4C1758.4 554.1 1759.8 554.8 1761.1 555.5C1762.4 556.3 1763.8 557 1765.1 557.8C1766.4 558.6 1767.8 559.4 1769.1 560.2C1770.4 561.1 1771.8 562 1773.1 562.9C1774.4 563.8 1775.8 564.8 1777.1 565.8C1778.4 566.9 1779.8 568 1781.1 569.1C1782.4 570.3 1783.8 571.5 1785.1 572.9C1786.4 574.2 1787.8 575.5 1789.1 577C1790.4 578.4 1791.8 579.9 1793.1 581.4C1794.4 582.9 1795.8 584.5 1797.1 586.1C1798.4 587.6 1799.8 589.3 1801.1 590.9C1802.4 592.5 1803.8 594.2 1805.1 595.9C1806.4 597.5 1807.8 599.2 1809.1 600.9C1810.4 602.5 1811.8 604.2 1813.1 605.8C1814.4 607.5 1815.8 609.1 1817.1 610.7C1818.4 612.3 1819.8 613.9 1821.1 615.5C1822.4 617 1823.8 618.6 1825.1 620.2C1826.4 621.8 1827.8 623.3 1829.1 624.9C1830.4 626.5 1831.8 628 1833.1 629.6C1834.4 631.2 1835.8 632.8 1837.1 634.4C1838.4 636 1839.8 637.6 1841.1 639.2C1842.4 640.8 1843.8 642.5 1845.1 644.1C1846.4 645.8 1847.8 647.4 1849.1 649.1C1850.4 650.8 1851.8 652.5 1853.1 654.2C1854.4 655.9 1855.8 657.6 1857.1 659.4C1858.4 661.2 1859.8 662.9 1861.1 664.8C1862.4 666.6 1863.8 668.4 1865.1 670.3C1866.4 672.1 1867.8 674 1869.1 676C1870.4 677.9 1871.8 679.9 1873.1 681.9C1874.4 683.9 1875.8 685.9 1877.1 688C1878.4 690 1879.8 692.1 1881.1 694.2C1882.4 696.3 1883.8 698.4 1885.1 700.5C1886.4 702.7 1887.8 704.8 1889.1 707C1890.4 709.1 1891.8 711.3 1893.1 713.5C1894.4 715.6 1895.8 717.8 1897.1 720C1898.4 722.2 1899.8 724.4 1901.1 726.5C1902.4 728.7 1903.8 730.9 1905.1 733C1906.4 735.2 1907.8 737.4 1909.1 739.5C1910.4 741.6 1911.8 743.8 1913.1 745.9C1914.4 748 1915.8 750.1 1917.1 752.1C1918.4 754.2 1919.8 756.3 1921.1 758.4C1922.4 760.4 1923.8 762.5 1925.1 764.5C1926.4 766.6 1927.8 768.7 1929.1 770.7C1930.4 772.8 1931.8 774.8 1933.1 776.9C1934.4 778.9 1935.8 781 1937.1 783C1938.4 785.1 1939.8 787.1 1941.1 789.2C1942.4 791.2 1943.8 793.4 1945.1 795.2C1946.4 797 1948.4 799.3 1949.1 800.2C1949.8 801 1949.4 800.5 1949.5 800.6" fill="none" stroke="#FF80FF" stroke-width="6" stroke-linecap="round" stroke-linejoin="round"/>
<polygon points="1277.6,412.6 1250.1,394.4 1250.1,430.8" fill="#FF80FF"/>
<polygon points="1363.7,414.6 1336.2,396.4 1336.2,432.8" fill="#FF80FF"/>
<polygon points="1449.7,414.6 1422.2,396.4 1422.2,432.8" fill="#FF80FF"/>
<polygon points="1492.7,414.6 1465.2,396.4 1465.2,432.8" fill="#FF80FF"/>
<polygon points="1535.8,514.2 1508.3,496 1508.3,532.4" fill="#FF80FF"/>
<polygon points="1578.8,514 1551.3,495.8 1551.3,532.2" fill="#FF80FF"/>
<polygon points="1621.8,514.8 1594.3,496.6 1594.3,533" fill="#FF80FF"/>
<polygon points="1707.9,526 1680.4,507.8 1680.4,544.2" fill="#FF80FF"/>
<polygon points="1793.9,566 1766.4,547.8 1766.4,584.2" fill="#FF80FF"/>
<polygon points="1880,669 1852.5,650.8 1852.5,687.2" fill="#FF80FF"/>
<polygon points="1966,802 1938.5,783.8 1938.5,820.2" fill="#FF80FF"/>
<path d="M1261.1 412.8C1261.8 412.8 1263.8 412.9 1265.1 412.9C1266.4 412.9 1267.8 413 1269.1 413C1270.4 413 1271.8 413.1 1273.1 413.1C1274.4 413.2 1275.8 413.2 1277.1 413.2C1278.4 413.3 1279.8 413.3 1281.1 413.3C1282.4 413.4 1283.8 413.4 1285.1 413.4C1286.4 413.5 1287.8 413.5 1289.1 413.5C1290.4 413.6 1291.8 413.6 1293.1 413.7C1294.4 413.7 1295.8 413.7 1297.1 413.7C1298.4 413.8 1299.8 413.8 1301.1 413.8C1302.4 413.9 1303.8 413.9 1305.1 413.9C1306.4 414 1307.8 414 1309.1 414C1310.4 414.1 1311.8 414.1 1313.1 414.1C1314.4 414.1 1315.8 414.2 1317.1 414.2C1318.4 414.2 1319.8 414.2 1321.1 414.3C1322.4 414.3 1323.8 414.3 1325.1 414.3C1326.4 414.3 1327.8 414.4 1329.1 414.4C1330.4 414.4 1331.8 414.4 1333.1 414.4C1334.4 414.4 1335.8 414.4 1337.1 414.5C1338.4 414.5 1339.8 414.5 1341.1 414.5C1342.4 414.5 1343.8 414.5 1345.1 414.5C1346.4 414.5 1347.8 414.5 1349.1 414.5C1350.4 414.5 1351.8 414.5 1353.1 414.5C1354.4 414.5 1355.8 414.5 1357.1 414.5C1358.4 414.5 1359.8 414.5 1361.1 414.5C1362.4 414.5 1363.8 414.5 1365.1 414.5C1366.4 414.5 1367.8 414.5 1369.1 414.5C1370.4 414.5 1371.8 414.5 1373.1 414.5C1374.4 414.5 1375.8 414.5 1377.1 414.5C1378.4 414.5 1379.8 414.5 1381.1 414.5C1382.4 414.5 1383.8 414.5 1385.1 414.5C1386.4 414.5 1387.8 414.5 1389.1 414.5C1390.4 414.5 1391.8 414.5 1393.1 414.5C1394.4 414.5 1395.8 414.5 1397.1 414.5C1398.4 414.5 1399.8 414.5 1401.1 414.5C1402.4 414.5 1403.8 414.5 1405.1 414.5C1406.4 414.5 1407.8 414.5 1409.1 414.5C1410.4 414.5 1411.8 414.5 1413.1 414.5C1414.4 414.5 1415.8 414.5 1417.1 414.5C1418.4 414.5 1419.8 414.5 1421.1 414.5C1422.4 414.5 1423.8 414.5 1425.1 414.5C1426.4 414.5 1427.8 414.5 1429.1 414.5C1430.4 414.5 1431.8 414.5 1433.1 414.5C1434.4 414.5 1435.8 414.5 1437.1 414.5C1438.4 414.5 1439.8 414.5 1441.1 414.5C1442.4 414.5 1443.8 414.5 1445.1 414.5C1446.4 414.6 1447.8 414.6 1449.1 414.6C1450.4 414.6 1451.8 414.6 1453.1 414.6C1454.4 414.6 1455.8 414.6 1457.1 414.6C1458.4 414.6 1459.8 414.6 1461.1 414.6C1462.4 414.6 1463.8 414.6 1465.1 414.6C1466.4 414.6 1467.8 414.6 1469.1 414.6C1470.4 414.6 1471.8 414.6 1473.1 414.6C1474.4 414.6 1475.8 414.6 1477.1 414.6C1478.4 414.6 1479.8 414.6 1481.1 414.6C1482.4 414.6 1483.8 414.6 1485.1 414.6C1486.4 414.6 1487.8 414.6 1489.1 414.6C1490.4 414.6 1491.8 414.6 1493.1 414.6C1494.4 414.6 1495.8 414.6 1497.1 414.6C1498.4 414.6 1499.8 414.6 1501.1 414.6C1502.4 414.6 1503.8 414.6 1505.1 414.6C1506.4 414.6 1507.8 414.6 1509.1 414.6C1510.4 414.6 1511.8 414.6 1513.1 414.6C1514.4 414.6 1515.8 414.6 1517.1 414.6C1518.4 414.6 1519.8 414.6 1521.1 414.6C1522.4 414.6 1523.8 414.6 1525.1 414.6C1526.4 414.7 1527.8 414.7 1529.1 414.7C1530.4 414.7 1531.8 414.7 1533.1 414.8C1534.4 414.8 1535.8 414.8 1537.1 414.9C1538.4 414.9 1539.8 415 1541.1 415C1542.4 415.1 1543.8 415.1 1545.1 415.2C1546.4 415.2 1547.8 415.3 1549.1 415.3C1550.4 415.4 1551.8 415.4 1553.1 415.5C1554.4 415.6 1555.8 415.7 1557.1 415.7C1558.4 415.8 1559.8 415.9 1561.1 415.9C1562.4 416 1563.8 416.1 1565.1 416.2C1566.4 416.3 1567.8 416.4 1569.1 416.4C1570.4 416.5 1571.8 416.6 1573.1 416.8C1574.4 416.9 1575.8 417 1577.1 417.2C1578.4 417.4 1579.8 417.6 1581.1 417.8C1582.4 418 1583.8 418.3 1585.1 418.6C1586.4 418.9 1587.8 419.1 1589.1 419.6C1590.4 420 1591.8 420.6 1593.1 421.3C1594.4 422.1 1595.8 423.1 1597.1 424.1C1598.4 425.2 1599.8 426.4 1601.1 427.5C1602.4 428.6 1603.8 429.7 1605.1 430.7C1606.4 431.6 1607.8 432.5 1609.1 433.3C1610.4 434.1 1611.8 434.8 1613.1 435.6C1614.4 436.3 1615.8 437 1617.1 437.7C1618.4 438.5 1619.8 439.2 1621.1 440C1622.4 440.8 1623.8 441.7 1625.1 442.7C1626.4 443.7 1627.8 444.7 1629.1 446.1C1630.4 447.4 1631.8 449.2 1633.1 451C1634.4 452.9 1635.8 455.3 1637.1 457.2C1638.4 459.2 1639.8 461.1 1641.1 462.8C1642.4 464.6 1643.8 466.2 1645.1 467.8C1646.4 469.4 1647.8 470.9 1649.1 472.4C1650.4 473.9 1651.8 475.3 1653.1 476.7C1654.4 478.2 1655.8 479.6 1657.1 481C1658.4 482.4 1659.8 483.8 1661.1 485.2C1662.4 486.6 1663.8 488 1665.1 489.3C1666.4 490.6 1667.8 491.9 1669.1 493.2C1670.4 494.5 1671.8 495.8 1673.1 497.1C1674.4 498.4 1675.8 499.7 1677.1 501.1C1678.4 502.6 1679.8 504.1 1681.1 505.8C1682.4 507.5 1683.8 509.4 1685.1 511.2C1686.4 513 1687.8 515 1689.1 516.6C1690.4 518.2 1691.8 519.6 1693.1 520.9C1694.4 522.2 1695.8 523.3 1697.1 524.4C1698.4 525.5 1699.8 526.5 1701.1 527.4C1702.4 528.3 1703.8 529.2 1705.1 530C1706.4 530.8 1707.8 531.5 1709.1 532.1C1710.4 532.8 1711.8 533.4 1713.1 534C1714.4 534.6 1715.8 535.1 1717.1 535.7C1718.4 536.3 1719.8 537 1721.1 537.6C1722.4 538.3 1723.8 539 1725.1 539.8C1726.4 540.5 1727.8 541.3 1729.1 542.1C1730.4 542.9 1731.8 543.8 1733.1 544.6C1734.4 545.5 1735.8 546.4 1737.1 547.3C1738.4 548.1 1739.8 549 1741.1 549.9C1742.4 550.8 1743.8 551.8 1745.1 552.7C1746.4 553.6 1747.8 554.5 1749.1 555.4C1750.4 556.3 1751.8 557.2 1753.1 558.1C1754.4 559 1755.8 559.9 1757.1 560.8C1758.4 561.6 1759.8 562.5 1761.1 563.3C1762.4 564.2 1763.8 565 1765.1 565.8C1766.4 566.7 1767.8 567.5 1769.1 568.4C1770.4 569.3 1771.8 570.2 1773.1 571.1C1774.4 572.1 1775.8 573.1 1777.1 574.2C1778.4 575.3 1779.8 576.4 1781.1 577.6C1782.4 578.9 1783.8 580.2 1785.1 581.5C1786.4 582.9 1787.8 584.3 1789.1 585.7C1790.4 587.1 1791.8 588.5 1793.1 589.9C1794.4 591.3 1795.8 592.8 1797.1 594.1C1798.4 595.5 1799.8 596.8 1801.1 598.2C1802.4 599.5 1803.8 600.8 1805.1 602.2C1806.4 603.5 1807.8 604.8 1809.1 606.1C1810.4 607.4 1811.8 608.7 1813.1 610.1C1814.4 611.4 1815.8 612.7 1817.1 614.1C1818.4 615.4 1819.8 616.7 1821.1 618.1C1822.4 619.5 1823.8 620.8 1825.1 622.2C1826.4 623.6 1827.8 625 1829.1 626.4C1830.4 627.8 1831.8 629.2 1833.1 630.6C1834.4 632.1 1835.8 633.5 1837.1 635C1838.4 636.5 1839.8 638 1841.1 639.6C1842.4 641.2 1843.8 642.9 1845.1 644.6C1846.4 646.3 1847.8 648.1 1849.1 649.9C1850.4 651.7 1851.8 653.6 1853.1 655.4C1854.4 657.3 1855.8 659.1 1857.1 660.9C1858.4 662.7 1859.8 664.5 1861.1 666.2C1862.4 667.9 1863.8 669.6 1865.1 671.2C1866.4 672.8 1867.8 674.3 1869.1 675.9C1870.4 677.4 1871.8 678.9 1873.1 680.4C1874.4 681.9 1875.8 683.3 1877.1 684.8C1878.4 686.2 1879.8 687.6 1881.1 689.1C1882.4 690.5 1883.8 691.9 1885.1 693.3C1886.4 694.7 1887.8 696.1 1889.1 697.5C1890.4 699 1891.8 700.4 1893.1 701.8C1894.4 703.2 1895.8 704.6 1897.1 706.1C1898.4 707.5 1899.8 709 1901.1 710.5C1902.4 711.9 1903.8 713.4 1905.1 714.9C1906.4 716.4 1907.8 717.9 1909.1 719.5C1910.4 721 1911.8 722.5 1913.1 724C1914.4 725.6 1915.8 727.1 1917.1 728.6C1918.4 730.2 1919.8 731.7 1921.1 733.2C1922.4 734.7 1923.8 736.3 1925.1 737.8C1926.4 739.3 1927.8 740.7 1929.1 742.2C1930.4 743.7 1931.8 745.1 1933.1 746.6C1934.4 748 1935.8 749.4 1937.1 750.8C1938.4 752.2 1939.8 753.5 1941.1 754.9C1942.4 756.2 1943.8 757.5 1945.1 758.7C1946.4 759.8 1948.4 761.1 1949.1 761.7C1949.8 762.2 1949.4 761.9 1949.5 761.9" fill="none" stroke="#008080" stroke-width="6" stroke-linecap="round" stroke-linejoin="round"/>
<polygon points="1261.1,394.1 1278.7,412.6 1261.1,431.1 1243.5,412.6" fill="#008080"/>
<polygon points="1347.2,396.1 1364.8,414.6 1347.2,433.1 1329.6,414.6" fill="#008080"/>
<polygon points="1433.2,396.1 1450.8,414.6 1433.2,433.1 1415.6,414.6" fill="#008080"/>
<polygon points="1476.2,396.1 1493.8,414.6 1476.2,433.1 1458.6,414.6" fill="#008080"/>
<polygon points="1519.3,396.1 1536.9,414.6 1519.3,433.1 1501.7,414.6" fill="#008080"/>
<polygon points="1562.3,396.1 1579.9,414.6 1562.3,433.1 1544.7,414.6" fill="#008080"/>
<polygon points="1605.3,396.3 1622.9,414.8 1605.3,433.3 1587.7,414.8" fill="#008080"/>
<polygon points="1691.4,504.5 1709,523 1691.4,541.5 1673.8,523" fill="#008080"/>
<polygon points="1777.4,545.3 1795,563.8 1777.4,582.3 1759.8,563.8" fill="#008080"/>
<polygon points="1863.5,650 1881.1,668.5 1863.5,687 1845.9,668.5" fill="#008080"/>
<polygon points="1949.5,744.3 1967.1,762.8 1949.5,781.3 1931.9,762.8" fill="#008080"/>
<path d="M1261.1 281.5C1261.8 281.5 1263.8 281.5 1265.1 281.5C1266.4 281.5 1267.8 281.5 1269.1 281.5C1270.4 281.5 1271.8 281.6 1273.1 281.6C1274.4 281.6 1275.8 281.6 1277.1 281.6C1278.4 281.7 1279.8 281.7 1281.1 281.7C1282.4 281.7 1283.8 281.8 1285.1 281.8C1286.4 281.8 1287.8 281.9 1289.1 281.9C1290.4 281.9 1291.8 282 1293.1 282C1294.4 282 1295.8 282.1 1297.1 282.1C1298.4 282.2 1299.8 282.2 1301.1 282.3C1302.4 282.3 1303.8 282.4 1305.1 282.4C1306.4 282.5 1307.8 282.5 1309.1 282.6C1310.4 282.6 1311.8 282.7 1313.1 282.7C1314.4 282.8 1315.8 282.8 1317.1 282.9C1318.4 283 1319.8 283 1321.1 283.1C1322.4 283.1 1323.8 283.2 1325.1 283.3C1326.4 283.3 1327.8 283.4 1329.1 283.5C1330.4 283.5 1331.8 283.6 1333.1 283.6C1334.4 283.7 1335.8 283.8 1337.1 283.9C1338.4 283.9 1339.8 284 1341.1 284.1C1342.4 284.1 1343.8 284.2 1345.1 284.3C1346.4 284.3 1347.8 284.4 1349.1 284.5C1350.4 284.6 1351.8 284.6 1353.1 284.7C1354.4 284.8 1355.8 284.9 1357.1 285C1358.4 285.1 1359.8 285.2 1361.1 285.3C1362.4 285.5 1363.8 285.6 1365.1 285.7C1366.4 285.8 1367.8 286 1369.1 286.1C1370.4 286.2 1371.8 286.4 1373.1 286.5C1374.4 286.7 1375.8 286.8 1377.1 287C1378.4 287.1 1379.8 287.2 1381.1 287.4C1382.4 287.5 1383.8 287.7 1385.1 287.8C1386.4 288 1387.8 288.1 1389.1 288.3C1390.4 288.4 1391.8 288.6 1393.1 288.8C1394.4 288.9 1395.8 289.1 1397.1 289.3C1398.4 289.5 1399.8 289.7 1401.1 289.9C1402.4 290.1 1403.8 290.4 1405.1 290.6C1406.4 290.8 1407.8 291.1 1409.1 291.3C1410.4 291.6 1411.8 291.9 1413.1 292.1C1414.4 292.4 1415.8 292.7 1417.1 293C1418.4 293.2 1419.8 293.5 1421.1 293.8C1422.4 294.1 1423.8 294.4 1425.1 294.7C1426.4 295.1 1427.8 295.4 1429.1 295.9C1430.4 296.3 1431.8 296.8 1433.1 297.5C1434.4 298.1 1435.8 298.9 1437.1 299.7C1438.4 300.6 1439.8 301.5 1441.1 302.5C1442.4 303.6 1443.8 304.7 1445.1 305.8C1446.4 307 1447.8 308.2 1449.1 309.4C1450.4 310.6 1451.8 311.9 1453.1 313.1C1454.4 314.4 1455.8 315.8 1457.1 317.1C1458.4 318.4 1459.8 319.8 1461.1 321.1C1462.4 322.5 1463.8 323.8 1465.1 325.2C1466.4 326.5 1467.8 327.7 1469.1 329.1C1470.4 330.5 1471.8 331.7 1473.1 333.4C1474.4 335 1475.8 336.7 1477.1 338.8C1478.4 340.9 1479.8 343.5 1481.1 346C1482.4 348.5 1483.8 351.2 1485.1 353.6C1486.4 356 1487.8 358.3 1489.1 360.4C1490.4 362.6 1491.8 364.7 1493.1 366.8C1494.4 368.8 1495.8 370.7 1497.1 372.7C1498.4 374.6 1499.8 376.5 1501.1 378.3C1502.4 380.1 1503.8 381.9 1505.1 383.7C1506.4 385.4 1507.8 387.1 1509.1 388.7C1510.4 390.3 1511.8 391.8 1513.1 393.3C1514.4 394.7 1515.8 396.2 1517.1 397.6C1518.4 399 1519.8 400.4 1521.1 401.6C1522.4 402.9 1523.8 404.1 1525.1 405.1C1526.4 406.1 1527.8 407 1529.1 407.7C1530.4 408.5 1531.8 409.1 1533.1 409.7C1534.4 410.3 1535.8 410.8 1537.1 411.3C1538.4 411.7 1539.8 412.1 1541.1 412.5C1542.4 412.9 1543.8 413.2 1545.1 413.4C1546.4 413.7 1547.8 413.9 1549.1 414.2C1550.4 414.4 1551.8 414.6 1553.1 414.8C1554.4 414.9 1555.8 415.1 1557.1 415.2C1558.4 415.3 1559.8 415.4 1561.1 415.4C1562.4 415.5 1563.8 415.5 1565.1 415.5C1566.4 415.5 1567.8 415.5 1569.1 415.5C1570.4 415.5 1571.8 415.4 1573.1 415.4C1574.4 415.4 1575.8 415.4 1577.1 415.4C1578.4 415.3 1579.8 415.3 1581.1 415.3C1582.4 415.3 1583.8 415.3 1585.1 415.2C1586.4 415.2 1587.8 415.2 1589.1 415.2C1590.4 415.1 1591.8 415.1 1593.1 415.1C1594.4 415.1 1595.8 415.1 1597.1 415.1C1598.4 415 1599.8 415 1601.1 415C1602.4 415 1603.8 415 1605.1 415C1606.4 415 1607.8 415.1 1609.1 415.1C1610.4 415.2 1611.8 415.3 1613.1 415.4C1614.4 415.5 1615.8 415.7 1617.1 415.8C1618.4 416 1619.8 416.1 1621.1 416.2C1622.4 416.4 1623.8 416.5 1625.1 416.6C1626.4 416.8 1627.8 416.9 1629.1 417.1C1630.4 417.2 1631.8 417.4 1633.1 417.5C1634.4 417.7 1635.8 417.9 1637.1 418C1638.4 418.2 1639.8 418.4 1641.1 418.6C1642.4 418.8 1643.8 419 1645.1 419.2C1646.4 419.5 1647.8 419.7 1649.1 419.9C1650.4 420.2 1651.8 420.5 1653.1 420.8C1654.4 421.1 1655.8 421.4 1657.1 421.8C1658.4 422.2 1659.8 422.7 1661.1 423.2C1662.4 423.7 1663.8 424.3 1665.1 424.8C1666.4 425.4 1667.8 426 1669.1 426.7C1670.4 427.4 1671.8 428 1673.1 428.8C1674.4 429.5 1675.8 430.3 1677.1 431.1C1678.4 431.9 1679.8 432.7 1681.1 433.5C1682.4 434.3 1683.8 435 1685.1 435.8C1686.4 436.5 1687.8 437.3 1689.1 438.1C1690.4 438.8 1691.8 439.6 1693.1 440.5C1694.4 441.4 1695.8 442.3 1697.1 443.3C1698.4 444.4 1699.8 445.5 1701.1 446.8C1702.4 448 1703.8 449.4 1705.1 450.8C1706.4 452.1 1707.8 453.6 1709.1 455C1710.4 456.4 1711.8 457.8 1713.1 459.1C1714.4 460.5 1715.8 461.7 1717.1 463C1718.4 464.2 1719.8 465.4 1721.1 466.6C1722.4 467.8 1723.8 468.9 1725.1 470.2C1726.4 471.5 1727.8 472.7 1729.1 474.1C1730.4 475.5 1731.8 476.9 1733.1 478.4C1734.4 479.9 1735.8 481.4 1737.1 483C1738.4 484.6 1739.8 486.3 1741.1 488C1742.4 489.7 1743.8 491.4 1745.1 493.2C1746.4 495 1747.8 496.9 1749.1 498.8C1750.4 500.8 1751.8 502.7 1753.1 504.8C1754.4 506.8 1755.8 508.9 1757.1 511.2C1758.4 513.4 1759.8 515.9 1761.1 518.4C1762.4 520.9 1763.8 523.6 1765.1 526.2C1766.4 528.8 1767.8 531.5 1769.1 534.1C1770.4 536.6 1771.8 539.2 1773.1 541.6C1774.4 544 1775.8 546.2 1777.1 548.2C1778.4 550.2 1779.8 551.9 1781.1 553.5C1782.4 555.2 1783.8 556.7 1785.1 558.1C1786.4 559.6 1787.8 561 1789.1 562.3C1790.4 563.6 1791.8 564.9 1793.1 566.1C1794.4 567.4 1795.8 568.5 1797.1 569.7C1798.4 570.9 1799.8 572 1801.1 573.1C1802.4 574.2 1803.8 575.2 1805.1 576.3C1806.4 577.4 1807.8 578.4 1809.1 579.5C1810.4 580.5 1811.8 581.6 1813.1 582.7C1814.4 583.7 1815.8 584.8 1817.1 585.9C1818.4 587 1819.8 588.2 1821.1 589.3C1822.4 590.4 1823.8 591.5 1825.1 592.6C1826.4 593.7 1827.8 594.8 1829.1 595.9C1830.4 597 1831.8 598 1833.1 599.1C1834.4 600.2 1835.8 601.2 1837.1 602.3C1838.4 603.3 1839.8 604.4 1841.1 605.4C1842.4 606.5 1843.8 607.5 1845.1 608.5C1846.4 609.5 1847.8 610.6 1849.1 611.6C1850.4 612.6 1851.8 613.6 1853.1 614.6C1854.4 615.6 1855.8 616.6 1857.1 617.6C1858.4 618.6 1859.8 619.6 1861.1 620.5C1862.4 621.5 1863.8 622.5 1865.1 623.4C1866.4 624.4 1867.8 625.3 1869.1 626.3C1870.4 627.2 1871.8 628.1 1873.1 629C1874.4 629.9 1875.8 630.8 1877.1 631.7C1878.4 632.6 1879.8 633.5 1881.1 634.4C1882.4 635.3 1883.8 636.2 1885.1 637C1886.4 637.9 1887.8 638.8 1889.1 639.7C1890.4 640.7 1891.8 641.6 1893.1 642.5C1894.4 643.4 1895.8 644.4 1897.1 645.4C1898.4 646.3 1899.8 647.3 1901.1 648.3C1902.4 649.3 1903.8 650.3 1905.1 651.4C1906.4 652.4 1907.8 653.4 1909.1 654.5C1910.4 655.5 1911.8 656.6 1913.1 657.6C1914.4 658.7 1915.8 659.8 1917.1 660.9C1918.4 661.9 1919.8 663 1921.1 664.1C1922.4 665.2 1923.8 666.4 1925.1 667.5C1926.4 668.6 1927.8 669.7 1929.1 670.9C1930.4 672 1931.8 673.2 1933.1 674.3C1934.4 675.5 1935.8 676.6 1937.1 677.8C1938.4 679 1939.8 680.2 1941.1 681.4C1942.4 682.6 1943.8 683.9 1945.1 684.9C1946.4 686 1948.4 687.4 1949.1 687.9C1949.8 688.4 1949.4 688.1 1949.5 688.1" fill="none" stroke="#F2B90C" stroke-width="6" stroke-linecap="round" stroke-linejoin="round"/>
<polygon points="1261.1,264.7 1277.3,276.2 1271.5,295.9 1250.7,295.9 1244.9,276.2" fill="#F2B90C"/>
<polygon points="1347.2,265.7 1363.4,277.2 1357.6,296.9 1336.8,296.9 1331,277.2" fill="#F2B90C"/>
<polygon points="1433.2,265.7 1449.4,277.2 1443.6,296.9 1422.8,296.9 1417,277.2" fill="#F2B90C"/>
<polygon points="1476.2,320.1 1492.4,331.6 1486.6,351.3 1465.8,351.3 1460,331.6" fill="#F2B90C"/>
<polygon points="1519.3,399.2 1535.5,410.7 1529.7,430.4 1508.9,430.4 1503.1,410.7" fill="#F2B90C"/>
<polygon points="1562.3,399.2 1578.5,410.7 1572.7,430.4 1551.9,430.4 1546.1,410.7" fill="#F2B90C"/>
<polygon points="1605.3,399.2 1621.5,410.7 1615.7,430.4 1594.9,430.4 1589.1,410.7" fill="#F2B90C"/>
<polygon points="1691.4,404.2 1707.6,415.7 1701.8,435.4 1681,435.4 1675.2,415.7" fill="#F2B90C"/>
<polygon points="1777.4,540.2 1793.6,551.7 1787.8,571.4 1767,571.4 1761.2,551.7" fill="#F2B90C"/>
<polygon points="1863.5,605.5 1879.7,617 1873.9,636.7 1853.1,636.7 1847.3,617" fill="#F2B90C"/>
<polygon points="1949.5,672.2 1965.7,683.7 1959.9,703.4 1939.1,703.4 1933.3,683.7" fill="#F2B90C"/>
<path d="M1261.1 281.5C1261.8 281.5 1263.8 281.5 1265.1 281.5C1266.4 281.6 1267.8 281.6 1269.1 281.6C1270.4 281.6 1271.8 281.6 1273.1 281.6C1274.4 281.7 1275.8 281.7 1277.1 281.7C1278.4 281.7 1279.8 281.7 1281.1 281.7C1282.4 281.8 1283.8 281.8 1285.1 281.8C1286.4 281.8 1287.8 281.8 1289.1 281.8C1290.4 281.9 1291.8 281.9 1293.1 281.9C1294.4 281.9 1295.8 281.9 1297.1 281.9C1298.4 281.9 1299.8 282 1301.1 282C1302.4 282 1303.8 282 1305.1 282C1306.4 282 1307.8 282 1309.1 282.1C1310.4 282.1 1311.8 282.1 1313.1 282.1C1314.4 282.1 1315.8 282.1 1317.1 282.1C1318.4 282.1 1319.8 282.2 1321.1 282.2C1322.4 282.2 1323.8 282.2 1325.1 282.2C1326.4 282.2 1327.8 282.2 1329.1 282.2C1330.4 282.2 1331.8 282.2 1333.1 282.2C1334.4 282.3 1335.8 282.3 1337.1 282.3C1338.4 282.3 1339.8 282.3 1341.1 282.3C1342.4 282.3 1343.8 282.3 1345.1 282.3C1346.4 282.3 1347.8 282.3 1349.1 282.3C1350.4 282.3 1351.8 282.3 1353.1 282.3C1354.4 282.3 1355.8 282.3 1357.1 282.3C1358.4 282.3 1359.8 282.3 1361.1 282.3C1362.4 282.3 1363.8 282.3 1365.1 282.3C1366.4 282.3 1367.8 282.3 1369.1 282.3C1370.4 282.3 1371.8 282.3 1373.1 282.3C1374.4 282.3 1375.8 282.3 1377.1 282.3C1378.4 282.4 1379.8 282.4 1381.1 282.4C1382.4 282.4 1383.8 282.4 1385.1 282.4C1386.4 282.4 1387.8 282.4 1389.1 282.4C1390.4 282.4 1391.8 282.4 1393.1 282.4C1394.4 282.4 1395.8 282.4 1397.1 282.4C1398.4 282.4 1399.8 282.4 1401.1 282.4C1402.4 282.4 1403.8 282.4 1405.1 282.4C1406.4 282.4 1407.8 282.4 1409.1 282.4C1410.4 282.4 1411.8 282.4 1413.1 282.4C1414.4 282.4 1415.8 282.4 1417.1 282.4C1418.4 282.4 1419.8 282.4 1421.1 282.4C1422.4 282.4 1423.8 282.4 1425.1 282.4C1426.4 282.4 1427.8 282.4 1429.1 282.4C1430.4 282.4 1431.8 282.4 1433.1 282.4C1434.4 282.4 1435.8 282.4 1437.1 282.4C1438.4 282.4 1439.8 282.4 1441.1 282.4C1442.4 282.4 1443.8 282.4 1445.1 282.4C1446.4 282.4 1447.8 282.4 1449.1 282.4C1450.4 282.4 1451.8 282.4 1453.1 282.4C1454.4 282.4 1455.8 282.4 1457.1 282.4C1458.4 282.4 1459.8 282.4 1461.1 282.4C1462.4 282.4 1463.8 282.4 1465.1 282.4C1466.4 282.4 1467.8 282.4 1469.1 282.4C1470.4 282.4 1471.8 282.4 1473.1 282.4C1474.4 282.4 1475.8 282.4 1477.1 282.4C1478.4 282.4 1479.8 282.4 1481.1 282.4C1482.4 282.4 1483.8 282.4 1485.1 282.4C1486.4 282.4 1487.8 282.4 1489.1 282.4C1490.4 282.4 1491.8 282.4 1493.1 282.4C1494.4 282.4 1495.8 282.4 1497.1 282.4C1498.4 282.4 1499.8 282.5 1501.1 282.5C1502.4 282.5 1503.8 282.5 1505.1 282.5C1506.4 282.5 1507.8 282.5 1509.1 282.5C1510.4 282.5 1511.8 282.5 1513.1 282.5C1514.4 282.5 1515.8 282.5 1517.1 282.5C1518.4 282.5 1519.8 282.5 1521.1 282.5C1522.4 282.5 1523.8 282.6 1525.1 282.6C1526.4 282.6 1527.8 282.7 1529.1 282.8C1530.4 282.8 1531.8 282.9 1533.1 283C1534.4 283 1535.8 283.1 1537.1 283.2C1538.4 283.3 1539.8 283.4 1541.1 283.6C1542.4 283.7 1543.8 283.8 1545.1 284C1546.4 284.2 1547.8 284.4 1549.1 284.7C1550.4 285 1551.8 285.4 1553.1 285.9C1554.4 286.4 1555.8 286.9 1557.1 287.5C1558.4 288.1 1559.8 288.7 1561.1 289.3C1562.4 290 1563.8 290.6 1565.1 291.4C1566.4 292.2 1567.8 293 1569.1 293.9C1570.4 294.8 1571.8 295.8 1573.1 296.8C1574.4 297.8 1575.8 298.9 1577.1 300C1578.4 301.2 1579.8 302.4 1581.1 303.6C1582.4 304.9 1583.8 306.2 1585.1 307.6C1586.4 309.1 1587.8 310.5 1589.1 312.2C1590.4 313.8 1591.8 315.5 1593.1 317.5C1594.4 319.4 1595.8 321.7 1597.1 324.1C1598.4 326.5 1599.8 329.5 1601.1 332.1C1602.4 334.6 1603.8 337.1 1605.1 339.3C1606.4 341.4 1607.8 343.1 1609.1 344.7C1610.4 346.4 1611.8 347.8 1613.1 349.3C1614.4 350.7 1615.8 352 1617.1 353.3C1618.4 354.6 1619.8 355.8 1621.1 357C1622.4 358.2 1623.8 359.3 1625.1 360.4C1626.4 361.6 1627.8 362.7 1629.1 363.8C1630.4 364.9 1631.8 366 1633.1 367.2C1634.4 368.4 1635.8 369.5 1637.1 370.8C1638.4 372 1639.8 373.3 1641.1 374.5C1642.4 375.8 1643.8 377.1 1645.1 378.4C1646.4 379.7 1647.8 381 1649.1 382.3C1650.4 383.6 1651.8 384.9 1653.1 386.2C1654.4 387.5 1655.8 388.8 1657.1 390.1C1658.4 391.4 1659.8 392.7 1661.1 393.9C1662.4 395.2 1663.8 396.5 1665.1 397.7C1666.4 399 1667.8 400.3 1669.1 401.5C1670.4 402.7 1671.8 403.9 1673.1 405.1C1674.4 406.3 1675.8 407.5 1677.1 408.6C1678.4 409.8 1679.8 410.9 1681.1 412C1682.4 413.1 1683.8 414.2 1685.1 415.4C1686.4 416.6 1687.8 417.8 1689.1 419.1C1690.4 420.4 1691.8 421.8 1693.1 423.2C1694.4 424.6 1695.8 426.1 1697.1 427.7C1698.4 429.3 1699.8 430.9 1701.1 432.5C1702.4 434.2 1703.8 435.8 1705.1 437.5C1706.4 439.2 1707.8 440.9 1709.1 442.6C1710.4 444.3 1711.8 446 1713.1 447.7C1714.4 449.5 1715.8 451.2 1717.1 453C1718.4 454.8 1719.8 456.6 1721.1 458.4C1722.4 460.2 1723.8 462 1725.1 463.8C1726.4 465.7 1727.8 467.5 1729.1 469.4C1730.4 471.2 1731.8 473.1 1733.1 474.9C1734.4 476.8 1735.8 478.6 1737.1 480.5C1738.4 482.3 1739.8 484.2 1741.1 486.1C1742.4 488 1743.8 489.9 1745.1 491.8C1746.4 493.8 1747.8 495.7 1749.1 497.7C1750.4 499.8 1751.8 501.8 1753.1 503.9C1754.4 506.1 1755.8 508.3 1757.1 510.6C1758.4 512.9 1759.8 515.3 1761.1 517.7C1762.4 520.2 1763.8 522.8 1765.1 525.4C1766.4 527.9 1767.8 530.5 1769.1 533C1770.4 535.6 1771.8 538.2 1773.1 540.6C1774.4 542.9 1775.8 545.2 1777.1 547.1C1778.4 549 1779.8 550.4 1781.1 551.8C1782.4 553.2 1783.8 554.2 1785.1 555.4C1786.4 556.6 1787.8 557.6 1789.1 558.8C1790.4 560 1791.8 561.3 1793.1 562.6C1794.4 563.9 1795.8 565.3 1797.1 566.7C1798.4 568.1 1799.8 569.6 1801.1 571C1802.4 572.4 1803.8 573.8 1805.1 575.2C1806.4 576.6 1807.8 578 1809.1 579.4C1810.4 580.7 1811.8 582 1813.1 583.3C1814.4 584.6 1815.8 585.7 1817.1 586.9C1818.4 588.1 1819.8 589.2 1821.1 590.2C1822.4 591.3 1823.8 592.4 1825.1 593.4C1826.4 594.4 1827.8 595.4 1829.1 596.4C1830.4 597.4 1831.8 598.4 1833.1 599.4C1834.4 600.3 1835.8 601.3 1837.1 602.2C1838.4 603.2 1839.8 604.1 1841.1 605.1C1842.4 606 1843.8 606.9 1845.1 607.9C1846.4 608.8 1847.8 609.8 1849.1 610.8C1850.4 611.7 1851.8 612.7 1853.1 613.6C1854.4 614.6 1855.8 615.5 1857.1 616.5C1858.4 617.4 1859.8 618.4 1861.1 619.3C1862.4 620.2 1863.8 621.2 1865.1 622.1C1866.4 623 1867.8 623.9 1869.1 624.9C1870.4 625.8 1871.8 626.7 1873.1 627.6C1874.4 628.5 1875.8 629.4 1877.1 630.3C1878.4 631.3 1879.8 632.2 1881.1 633.1C1882.4 634.1 1883.8 635 1885.1 636C1886.4 637 1887.8 638 1889.1 639C1890.4 640 1891.8 641 1893.1 642C1894.4 643.1 1895.8 644.1 1897.1 645.1C1898.4 646.2 1899.8 647.2 1901.1 648.3C1902.4 649.3 1903.8 650.4 1905.1 651.5C1906.4 652.5 1907.8 653.6 1909.1 654.7C1910.4 655.7 1911.8 656.8 1913.1 657.9C1914.4 659 1915.8 660.1 1917.1 661.2C1918.4 662.3 1919.8 663.4 1921.1 664.5C1922.4 665.6 1923.8 666.7 1925.1 667.8C1926.4 669 1927.8 670.1 1929.1 671.2C1930.4 672.3 1931.8 673.5 1933.1 674.6C1934.4 675.8 1935.8 676.9 1937.1 678.1C1938.4 679.2 1939.8 680.4 1941.1 681.6C1942.4 682.7 1943.8 684 1945.1 685.1C1946.4 686.1 1948.4 687.4 1949.1 687.9C1949.8 688.4 1949.4 688.1 1949.5 688.2" fill="none" stroke="#FF00FF" stroke-width="6" stroke-linecap="round" stroke-linejoin="round"/>
<polygon points="1261.1,264.2 1275.2,272.4 1275.2,288.6 1261.1,296.8 1247,288.6 1247,272.4" fill="#FF00FF"/>
<polygon points="1347.2,265.9 1361.3,274.1 1361.3,290.3 1347.2,298.5 1333.1,290.3 1333.1,274.1" fill="#FF00FF"/>
<polygon points="1433.2,265.9 1447.3,274.1 1447.3,290.3 1433.2,298.5 1419.1,290.3 1419.1,274.1" fill="#FF00FF"/>
<polygon points="1476.2,266.7 1490.3,274.9 1490.3,291.1 1476.2,299.3 1462.1,291.1 1462.1,274.9" fill="#FF00FF"/>
<polygon points="1519.3,266.7 1533.4,274.9 1533.4,291.1 1519.3,299.3 1505.2,291.1 1505.2,274.9" fill="#FF00FF"/>
<polygon points="1562.3,266.7 1576.4,274.9 1576.4,291.1 1562.3,299.3 1548.2,291.1 1548.2,274.9" fill="#FF00FF"/>
<polygon points="1605.3,323.7 1619.4,331.9 1619.4,348.1 1605.3,356.3 1591.2,348.1 1591.2,331.9" fill="#FF00FF"/>
<polygon points="1691.4,405 1705.5,413.2 1705.5,429.4 1691.4,437.6 1677.3,429.4 1677.3,413.2" fill="#FF00FF"/>
<polygon points="1777.4,540.6 1791.5,548.8 1791.5,565 1777.4,573.2 1763.3,565 1763.3,548.8" fill="#FF00FF"/>
<polygon points="1863.5,606 1877.6,614.1 1877.6,630.4 1863.5,638.6 1849.4,630.4 1849.4,614.1" fill="#FF00FF"/>
<polygon points="1949.5,672.7 1963.6,680.9 1963.6,697.1 1949.5,705.3 1935.4,697.1 1935.4,680.9" fill="#FF00FF"/>
<path d="M1261.1 141.7C1261.8 141.7 1263.8 141.7 1265.1 141.7C1266.4 141.7 1267.8 141.7 1269.1 141.7C1270.4 141.7 1271.8 141.7 1273.1 141.7C1274.4 141.7 1275.8 141.7 1277.1 141.7C1278.4 141.7 1279.8 141.7 1281.1 141.7C1282.4 141.8 1283.8 141.8 1285.1 141.8C1286.4 141.8 1287.8 141.8 1289.1 141.8C1290.4 141.8 1291.8 141.8 1293.1 141.8C1294.4 141.8 1295.8 141.8 1297.1 141.9C1298.4 141.9 1299.8 141.9 1301.1 141.9C1302.4 141.9 1303.8 141.9 1305.1 141.9C1306.4 141.9 1307.8 142 1309.1 142C1310.4 142 1311.8 142 1313.1 142C1314.4 142 1315.8 142 1317.1 142.1C1318.4 142.1 1319.8 142.1 1321.1 142.1C1322.4 142.1 1323.8 142.1 1325.1 142.2C1326.4 142.2 1327.8 142.2 1329.1 142.2C1330.4 142.2 1331.8 142.3 1333.1 142.3C1334.4 142.3 1335.8 142.3 1337.1 142.3C1338.4 142.4 1339.8 142.4 1341.1 142.4C1342.4 142.4 1343.8 142.4 1345.1 142.5C1346.4 142.5 1347.8 142.5 1349.1 142.5C1350.4 142.6 1351.8 142.6 1353.1 142.6C1354.4 142.7 1355.8 142.7 1357.1 142.7C1358.4 142.8 1359.8 142.8 1361.1 142.9C1362.4 142.9 1363.8 143 1365.1 143C1366.4 143.1 1367.8 143.2 1369.1 143.2C1370.4 143.3 1371.8 143.4 1373.1 143.4C1374.4 143.5 1375.8 143.6 1377.1 143.7C1378.4 143.8 1379.8 143.9 1381.1 144C1382.4 144.2 1383.8 144.3 1385.1 144.5C1386.4 144.8 1387.8 145 1389.1 145.4C1390.4 145.7 1391.8 146.1 1393.1 146.5C1394.4 146.9 1395.8 147.3 1397.1 147.8C1398.4 148.2 1399.8 148.7 1401.1 149.2C1402.4 149.7 1403.8 150.3 1405.1 150.9C1406.4 151.6 1407.8 152.2 1409.1 153C1410.4 153.7 1411.8 154.5 1413.1 155.3C1414.4 156.2 1415.8 157.1 1417.1 158.1C1418.4 159 1419.8 160.1 1421.1 161.3C1422.4 162.5 1423.8 163.8 1425.1 165.1C1426.4 166.5 1427.8 167.9 1429.1 169.5C1430.4 171.1 1431.8 172.7 1433.1 174.6C1434.4 176.5 1435.8 178.5 1437.1 180.7C1438.4 182.8 1439.8 185.2 1441.1 187.6C1442.4 190 1443.8 192.5 1445.1 195C1446.4 197.5 1447.8 200.1 1449.1 202.7C1450.4 205.4 1451.8 208.1 1453.1 210.9C1454.4 213.7 1455.8 216.6 1457.1 219.5C1458.4 222.4 1459.8 225.3 1461.1 228.2C1462.4 231 1463.8 233.8 1465.1 236.7C1466.4 239.6 1467.8 242.5 1469.1 245.4C1470.4 248.3 1471.8 251.2 1473.1 253.9C1474.4 256.6 1475.8 259.3 1477.1 261.5C1478.4 263.8 1479.8 265.8 1481.1 267.6C1482.4 269.3 1483.8 270.8 1485.1 272.1C1486.4 273.4 1487.8 274.3 1489.1 275.2C1490.4 276 1491.8 276.5 1493.1 277C1494.4 277.6 1495.8 277.9 1497.1 278.3C1498.4 278.6 1499.8 278.9 1501.1 279.1C1502.4 279.4 1503.8 279.6 1505.1 279.8C1506.4 280 1507.8 280.2 1509.1 280.3C1510.4 280.5 1511.8 280.6 1513.1 280.7C1514.4 280.8 1515.8 280.8 1517.1 280.9C1518.4 281 1519.8 281 1521.1 281.1C1522.4 281.1 1523.8 281.2 1525.1 281.2C1526.4 281.2 1527.8 281.3 1529.1 281.3C1530.4 281.3 1531.8 281.4 1533.1 281.4C1534.4 281.4 1535.8 281.4 1537.1 281.5C1538.4 281.5 1539.8 281.5 1541.1 281.5C1542.4 281.6 1543.8 281.6 1545.1 281.6C1546.4 281.6 1547.8 281.7 1549.1 281.7C1550.4 281.8 1551.8 281.8 1553.1 281.9C1554.4 281.9 1555.8 282 1557.1 282C1558.4 282.1 1559.8 282.2 1561.1 282.3C1562.4 282.4 1563.8 282.6 1565.1 282.8C1566.4 283.1 1567.8 283.4 1569.1 283.8C1570.4 284.1 1571.8 284.6 1573.1 284.9C1574.4 285.3 1575.8 285.7 1577.1 286C1578.4 286.4 1579.8 286.6 1581.1 286.9C1582.4 287.1 1583.8 287.3 1585.1 287.6C1586.4 287.8 1587.8 288 1589.1 288.4C1590.4 288.7 1591.8 289 1593.1 289.4C1594.4 289.8 1595.8 290.2 1597.1 290.7C1598.4 291.2 1599.8 291.7 1601.1 292.3C1602.4 292.8 1603.8 293.4 1605.1 294C1606.4 294.7 1607.8 295.3 1609.1 296C1610.4 296.7 1611.8 297.5 1613.1 298.3C1614.4 299.1 1615.8 300 1617.1 300.9C1618.4 301.9 1619.8 302.9 1621.1 304C1622.4 305.1 1623.8 306.3 1625.1 307.6C1626.4 309 1627.8 310.5 1629.1 312.1C1630.4 313.7 1631.8 315.4 1633.1 317.1C1634.4 318.8 1635.8 320.6 1637.1 322.3C1638.4 324.1 1639.8 325.8 1641.1 327.5C1642.4 329.2 1643.8 330.9 1645.1 332.7C1646.4 334.4 1647.8 336.2 1649.1 337.9C1650.4 339.7 1651.8 341.4 1653.1 343.1C1654.4 344.8 1655.8 346.5 1657.1 348.1C1658.4 349.8 1659.8 351.3 1661.1 352.9C1662.4 354.5 1663.8 356 1665.1 357.7C1666.4 359.3 1667.8 360.8 1669.1 362.6C1670.4 364.3 1671.8 366.1 1673.1 368C1674.4 370 1675.8 372.2 1677.1 374.3C1678.4 376.5 1679.8 378.9 1681.1 381.1C1682.4 383.3 1683.8 385.6 1685.1 387.6C1686.4 389.7 1687.8 391.6 1689.1 393.2C1690.4 394.8 1691.8 396.1 1693.1 397.4C1694.4 398.6 1695.8 399.6 1697.1 400.7C1698.4 401.7 1699.8 402.6 1701.1 403.5C1702.4 404.3 1703.8 405.1 1705.1 405.9C1706.4 406.7 1707.8 407.5 1709.1 408.2C1710.4 409 1711.8 409.7 1713.1 410.4C1714.4 411.1 1715.8 411.9 1717.1 412.7C1718.4 413.4 1719.8 414.2 1721.1 415C1722.4 415.9 1723.8 416.8 1725.1 417.6C1726.4 418.5 1727.8 419.4 1729.1 420.3C1730.4 421.2 1731.8 422.1 1733.1 423C1734.4 423.9 1735.8 424.8 1737.1 425.7C1738.4 426.6 1739.8 427.5 1741.1 428.4C1742.4 429.2 1743.8 430.1 1745.1 431C1746.4 431.9 1747.8 432.7 1749.1 433.6C1750.4 434.4 1751.8 435.2 1753.1 436.1C1754.4 436.9 1755.8 437.7 1757.1 438.4C1758.4 439.2 1759.8 440 1761.1 440.8C1762.4 441.6 1763.8 442.4 1765.1 443.2C1766.4 444 1767.8 444.8 1769.1 445.7C1770.4 446.5 1771.8 447.4 1773.1 448.3C1774.4 449.2 1775.8 450.1 1777.1 451.1C1778.4 452.1 1779.8 453.2 1781.1 454.3C1782.4 455.4 1783.8 456.5 1785.1 457.7C1786.4 458.9 1787.8 460.1 1789.1 461.3C1790.4 462.5 1791.8 463.7 1793.1 465C1794.4 466.2 1795.8 467.4 1797.1 468.6C1798.4 469.8 1799.8 471 1801.1 472.1C1802.4 473.3 1803.8 474.4 1805.1 475.6C1806.4 476.7 1807.8 477.9 1809.1 479C1810.4 480.2 1811.8 481.3 1813.1 482.5C1814.4 483.6 1815.8 484.8 1817.1 485.9C1818.4 487.1 1819.8 488.2 1821.1 489.4C1822.4 490.6 1823.8 491.8 1825.1 492.9C1826.4 494.1 1827.8 495.3 1829.1 496.6C1830.4 497.8 1831.8 499 1833.1 500.2C1834.4 501.4 1835.8 502.7 1837.1 503.9C1838.4 505.1 1839.8 506.4 1841.1 507.6C1842.4 508.8 1843.8 510 1845.1 511.2C1846.4 512.4 1847.8 513.5 1849.1 514.7C1850.4 515.8 1851.8 516.9 1853.1 518.1C1854.4 519.2 1855.8 520.2 1857.1 521.3C1858.4 522.4 1859.8 523.5 1861.1 524.6C1862.4 525.7 1863.8 526.9 1865.1 528C1866.4 529.2 1867.8 530.4 1869.1 531.6C1870.4 532.8 1871.8 534.1 1873.1 535.4C1874.4 536.7 1875.8 538.1 1877.1 539.6C1878.4 541.1 1879.8 542.6 1881.1 544.2C1882.4 545.9 1883.8 547.6 1885.1 549.3C1886.4 551 1887.8 552.8 1889.1 554.6C1890.4 556.4 1891.8 558.2 1893.1 560C1894.4 561.9 1895.8 563.7 1897.1 565.4C1898.4 567.2 1899.8 569 1901.1 570.7C1902.4 572.5 1903.8 574.2 1905.1 575.9C1906.4 577.6 1907.8 579.4 1909.1 581.1C1910.4 582.9 1911.8 584.6 1913.1 586.3C1914.4 588 1915.8 589.8 1917.1 591.4C1918.4 593.1 1919.8 594.8 1921.1 596.4C1922.4 598.1 1923.8 599.7 1925.1 601.2C1926.4 602.8 1927.8 604.3 1929.1 605.8C1930.4 607.3 1931.8 608.8 1933.1 610.3C1934.4 611.7 1935.8 613.1 1937.1 614.6C1938.4 616 1939.8 617.4 1941.1 618.7C1942.4 620.1 1943.8 621.5 1945.1 622.7C1946.4 623.9 1948.4 625.3 1949.1 625.8C1949.8 626.4 1949.4 626 1949.5 626.1" fill="none" stroke="#00FF00" stroke-width="6" stroke-linecap="round" stroke-linejoin="round"/>
<polygon points="1261.1,124.9 1265.6,135.4 1276.9,136.4 1268.3,143.8 1270.9,154.9 1261.1,149.1 1251.3,154.9 1253.9,143.8 1245.3,136.4 1256.6,135.4" fill="#00FF00"/>
<polygon points="1347.2,126.6 1351.7,137.1 1363,138.1 1354.4,145.5 1357,156.6 1347.2,150.8 1337.4,156.6 1340,145.5 1331.4,138.1 1342.7,137.1" fill="#00FF00"/>
<polygon points="1433.2,126.6 1437.7,137.1 1449,138.1 1440.4,145.5 1443,156.6 1433.2,150.8 1423.4,156.6 1426,145.5 1417.4,138.1 1428.7,137.1" fill="#00FF00"/>
<polygon points="1476.2,268 1480.7,278.5 1492,279.5 1483.4,286.9 1486,298 1476.2,292.2 1466.4,298 1469,286.9 1460.4,279.5 1471.7,278.5" fill="#00FF00"/>
<polygon points="1519.3,266.4 1523.8,276.9 1535.1,277.9 1526.5,285.3 1529.1,296.4 1519.3,290.6 1509.5,296.4 1512.1,285.3 1503.5,277.9 1514.8,276.9" fill="#00FF00"/>
<polygon points="1562.3,266.4 1566.8,276.9 1578.1,277.9 1569.5,285.3 1572.1,296.4 1562.3,290.6 1552.5,296.4 1555.1,285.3 1546.5,277.9 1557.8,276.9" fill="#00FF00"/>
<polygon points="1605.3,265.7 1609.8,276.2 1621.1,277.2 1612.5,284.6 1615.1,295.7 1605.3,289.9 1595.5,295.7 1598.1,284.6 1589.5,277.2 1600.8,276.2" fill="#00FF00"/>
<polygon points="1691.4,381.6 1695.9,392.1 1707.2,393.1 1698.6,400.5 1701.2,411.6 1691.4,405.8 1681.6,411.6 1684.2,400.5 1675.6,393.1 1686.9,392.1" fill="#00FF00"/>
<polygon points="1777.4,433.1 1781.9,443.6 1793.2,444.6 1784.6,452 1787.2,463.1 1777.4,457.3 1767.6,463.1 1770.2,452 1761.6,444.6 1772.9,443.6" fill="#00FF00"/>
<polygon points="1863.5,506.2 1868,516.7 1879.3,517.7 1870.7,525.1 1873.3,536.2 1863.5,530.4 1853.7,536.2 1856.3,525.1 1847.7,517.7 1859,516.7" fill="#00FF00"/>
<polygon points="1949.5,610 1954,620.5 1965.3,621.5 1956.7,628.9 1959.3,640 1949.5,634.2 1939.7,640 1942.3,628.9 1933.7,621.5 1945,620.5" fill="#00FF00"/>
<g font-family="'Liberation Sans', Arial, sans-serif" fill="#000">
<text x="254.2" y="1349.3" font-size="73.5" text-anchor="end">40</text>
<text x="254.2" y="1189.9" font-size="73.5" text-anchor="end">60</text>
<text x="254.2" y="1030.5" font-size="73.5" text-anchor="end">80</text>
<text x="254.2" y="871.2" font-size="73.5" text-anchor="end">100</text>
<text x="254.2" y="711.8" font-size="73.5" text-anchor="end">120</text>
<text x="254.2" y="552.4" font-size="73.5" text-anchor="end">140</text>
<text x="254.2" y="393.1" font-size="73.5" text-anchor="end">160</text>
<text x="254.2" y="233.7" font-size="73.5" text-anchor="end">180</text>
<text x="254.2" y="74.3" font-size="73.5" text-anchor="end">200</text>
<text x="297.4" y="1410.3" font-size="73.5" text-anchor="middle">0</text>
<text x="435.1" y="1410.3" font-size="73.5" text-anchor="middle">4</text>
<text x="572.8" y="1410.3" font-size="73.5" text-anchor="middle">8</text>
<text x="710.4" y="1410.3" font-size="73.5" text-anchor="middle">12</text>
<text x="848.1" y="1410.3" font-size="73.5" text-anchor="middle">16</text>
<text x="985.8" y="1410.3" font-size="73.5" text-anchor="middle">20</text>
<text x="1218.1" y="1349.3" font-size="73.5" text-anchor="end">40</text>
<text x="1218.1" y="1189.9" font-size="73.5" text-anchor="end">60</text>
<text x="1218.1" y="1030.5" font-size="73.5" text-anchor="end">80</text>
<text x="1218.1" y="871.2" font-size="73.5" text-anchor="end">100</text>
<text x="1218.1" y="711.8" font-size="73.5" text-anchor="end">120</text>
<text x="1218.1" y="552.4" font-size="73.5" text-anchor="end">140</text>
<text x="1218.1" y="393.1" font-size="73.5" text-anchor="end">160</text>
<text x="1218.1" y="233.7" font-size="73.5" text-anchor="end">180</text>
<text x="1218.1" y="74.3" font-size="73.5" text-anchor="end">200</text>
<text x="1261.1" y="1410.3" font-size="73.5" text-anchor="middle">0</text>
<text x="1433.2" y="1410.3" font-size="73.5" text-anchor="middle">2</text>
<text x="1605.3" y="1410.3" font-size="73.5" text-anchor="middle">4</text>
<text x="1777.4" y="1410.3" font-size="73.5" text-anchor="middle">6</text>
<text x="1949.5" y="1410.3" font-size="73.5" text-anchor="middle">8</text>
<text transform="translate(82.6,862.7) rotate(-90)" font-size="73.5">E(meV)</text>
<text x="529.7" y="1523.2" font-size="73.5">h</text>
<text x="570.6" y="1562" font-size="54">d</text>
<text x="600.6" y="1523.2" font-size="73.5">(nm)</text>
<text x="1486.8" y="1519.9" font-size="73.5">w</text>
<text x="1539.9" y="1549.5" font-size="59">d</text>
<text x="1572.7" y="1519.9" font-size="73.5">(nm)</text>
<text x="891.3" y="126.2" font-size="73.5">(a)</text>
<text x="1856.2" y="132" font-size="73.5">(b)</text>
<text x="713" y="225.1" font-size="73.5">w</text>
<text x="766" y="254" font-size="44">d</text>
<text x="790.5" y="225.1" font-size="73.5">=5nm</text>
<text x="1606.5" y="231.7" font-size="73.5">h</text>
<text x="1647.4" y="260" font-size="44">d</text>
<text x="1671.9" y="231.7" font-size="73.5">=20nm</text>
</g>
<line x1="2018.2" y1="151.1" x2="2181.5" y2="151.1" stroke="#0080FF" stroke-width="6.2" stroke-linecap="round"/>
<rect x="2086.7" y="138" width="26.2" height="26.2" fill="#0080FF"/>
<line x1="2018.2" y1="265.5" x2="2181.5" y2="265.5" stroke="#00FFFF" stroke-width="6.2" stroke-linecap="round"/>
<circle cx="2099.8" cy="265.5" r="14.5" fill="#00FFFF"/>
<line x1="2018.2" y1="379.9" x2="2181.5" y2="379.9" stroke="#FF8000" stroke-width="6.2" stroke-linecap="round"/>
<polygon points="2099.8,360.1 2117.2,390.2 2082.4,390.2" fill="#FF8000"/>
<line x1="2018.2" y1="494.4" x2="2181.5" y2="494.4" stroke="#8000FF" stroke-width="6.2" stroke-linecap="round"/>
<polygon points="2099.8,514.2 2117.2,484.1 2082.4,484.1" fill="#8000FF"/>
<line x1="2018.2" y1="608.8" x2="2181.5" y2="608.8" stroke="#8080FF" stroke-width="6.2" stroke-linecap="round"/>
<polygon points="2083.3,608.8 2110.8,590.6 2110.8,627" fill="#8080FF"/>
<line x1="2018.2" y1="723.2" x2="2181.5" y2="723.2" stroke="#FF80FF" stroke-width="6.2" stroke-linecap="round"/>
<polygon points="2116.3,723.2 2088.8,705 2088.8,741.4" fill="#FF80FF"/>
<line x1="2018.2" y1="837.6" x2="2181.5" y2="837.6" stroke="#008080" stroke-width="6.2" stroke-linecap="round"/>
<polygon points="2099.8,819.1 2117.4,837.6 2099.8,856.1 2082.2,837.6" fill="#008080"/>
<line x1="2018.2" y1="952" x2="2181.5" y2="952" stroke="#F2B90C" stroke-width="6.2" stroke-linecap="round"/>
<polygon points="2099.8,935.2 2116,946.7 2110.2,966.4 2089.4,966.4 2083.6,946.7" fill="#F2B90C"/>
<line x1="2018.2" y1="1066.5" x2="2181.5" y2="1066.5" stroke="#FF00FF" stroke-width="6.2" stroke-linecap="round"/>
<polygon points="2099.8,1050.2 2113.9,1058.3 2113.9,1074.6 2099.8,1082.8 2085.7,1074.6 2085.7,1058.3" fill="#FF00FF"/>
<line x1="2018.2" y1="1180.9" x2="2181.5" y2="1180.9" stroke="#00FF00" stroke-width="6.2" stroke-linecap="round"/>
<polygon points="2099.8,1164.3 2104.3,1174.7 2115.6,1175.8 2107,1183.2 2109.6,1194.3 2099.8,1188.5 2090,1194.3 2092.6,1183.2 2084,1175.8 2095.3,1174.7" fill="#00FF00"/>
<g font-family="'Liberation Sans', Arial, sans-serif" fill="#000">
<text x="2202.2" y="175.8" font-size="73.5">E</text>
<text x="2251.2" y="204.2" font-size="44">1</text>
<text x="2202.2" y="290.2" font-size="73.5">E</text>
<text x="2251.2" y="318.6" font-size="44">2</text>
<text x="2202.2" y="404.6" font-size="73.5">E</text>
<text x="2251.2" y="433" font-size="44">3</text>
<text x="2202.2" y="519.1" font-size="73.5">E</text>
<text x="2251.2" y="547.5" font-size="44">4</text>
<text x="2202.2" y="633.5" font-size="73.5">E</text>
<text x="2251.2" y="661.9" font-size="44">5</text>
<text x="2202.2" y="747.9" font-size="73.5">E</text>
<text x="2251.2" y="776.3" font-size="44">6</text>
<text x="2202.2" y="862.3" font-size="73.5">E</text>
<text x="2251.2" y="890.7" font-size="44">7</text>
<text x="2202.2" y="976.7" font-size="73.5">E</text>
<text x="2251.2" y="1005.1" font-size="44">8</text>
<text x="2202.2" y="1091.2" font-size="73.5">E</text>
<text x="2251.2" y="1119.6" font-size="44">9</text>
<text x="2202.2" y="1205.6" font-size="73.5">E</text>
<text x="2251.2" y="1234" font-size="44">10</text>
</g>
</svg></body></html>
